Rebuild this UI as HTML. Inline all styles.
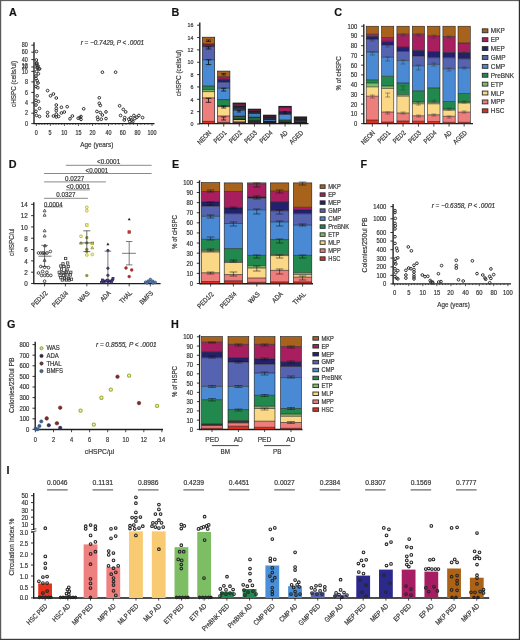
<!DOCTYPE html>
<html><head><meta charset="utf-8"><style>
html,body{margin:0;padding:0;background:#fff;width:520px;height:640px;overflow:hidden}
svg{display:block;font-family:"Liberation Sans",sans-serif;will-change:transform}
text{stroke:#3a3a3a;stroke-width:0.2px}
</style></head><body>
<svg width="520" height="640" viewBox="0 0 520 640">
<rect width="520" height="640" fill="#fff"/>
<g fill="#333">
<text x="9" y="16.2" font-size="10.8" font-weight="bold" fill="#111">A</text>
<line x1="34" y1="42.3" x2="34" y2="124.1" stroke="#1c1c1c" stroke-width="1.35"/>
<line x1="33.5" y1="123.6" x2="154.5" y2="123.6" stroke="#1c1c1c" stroke-width="1.35"/>
<line x1="31.3" y1="45.2" x2="34" y2="45.2" stroke="#1c1c1c" stroke-width="0.9"/>
<text x="27.9" y="47.47" font-size="6.3" text-anchor="end" textLength="6.03" lengthAdjust="spacingAndGlyphs">80</text>
<line x1="31.3" y1="52.2" x2="34" y2="52.2" stroke="#1c1c1c" stroke-width="0.9"/>
<text x="27.9" y="54.47" font-size="6.3" text-anchor="end" textLength="6.03" lengthAdjust="spacingAndGlyphs">60</text>
<line x1="31.3" y1="59.6" x2="34" y2="59.6" stroke="#1c1c1c" stroke-width="0.9"/>
<text x="27.9" y="61.87" font-size="6.3" text-anchor="end" textLength="6.03" lengthAdjust="spacingAndGlyphs">40</text>
<line x1="31.3" y1="67" x2="34" y2="67" stroke="#1c1c1c" stroke-width="0.9"/>
<text x="27.9" y="69.27" font-size="6.3" text-anchor="end" textLength="6.03" lengthAdjust="spacingAndGlyphs">20</text>
<line x1="31.3" y1="71.4" x2="34" y2="71.4" stroke="#1c1c1c" stroke-width="0.9"/>
<line x1="31.3" y1="81.9" x2="34" y2="81.9" stroke="#1c1c1c" stroke-width="0.9"/>
<text x="27.9" y="84.17" font-size="6.3" text-anchor="end" textLength="3.01" lengthAdjust="spacingAndGlyphs">8</text>
<line x1="31.3" y1="92.4" x2="34" y2="92.4" stroke="#1c1c1c" stroke-width="0.9"/>
<text x="27.9" y="94.67" font-size="6.3" text-anchor="end" textLength="3.01" lengthAdjust="spacingAndGlyphs">6</text>
<line x1="31.3" y1="102.8" x2="34" y2="102.8" stroke="#1c1c1c" stroke-width="0.9"/>
<text x="27.9" y="105.07" font-size="6.3" text-anchor="end" textLength="3.01" lengthAdjust="spacingAndGlyphs">4</text>
<line x1="31.3" y1="113.2" x2="34" y2="113.2" stroke="#1c1c1c" stroke-width="0.9"/>
<text x="27.9" y="115.47" font-size="6.3" text-anchor="end" textLength="3.01" lengthAdjust="spacingAndGlyphs">2</text>
<line x1="31.3" y1="123.6" x2="34" y2="123.6" stroke="#1c1c1c" stroke-width="0.9"/>
<text x="27.9" y="125.87" font-size="6.3" text-anchor="end" textLength="3.01" lengthAdjust="spacingAndGlyphs">0</text>
<text x="27.9" y="67.9" font-size="6.3" text-anchor="end" textLength="6.03" lengthAdjust="spacingAndGlyphs">12</text>
<text x="27.9" y="74.3" font-size="6.3" text-anchor="end" textLength="6.03" lengthAdjust="spacingAndGlyphs">10</text>
<line x1="36.3" y1="123.6" x2="36.3" y2="126" stroke="#1c1c1c" stroke-width="0.7"/>
<line x1="39.11" y1="123.6" x2="39.11" y2="124.9" stroke="#1c1c1c" stroke-width="0.7"/>
<line x1="41.92" y1="123.6" x2="41.92" y2="124.9" stroke="#1c1c1c" stroke-width="0.7"/>
<line x1="44.73" y1="123.6" x2="44.73" y2="124.9" stroke="#1c1c1c" stroke-width="0.7"/>
<line x1="47.54" y1="123.6" x2="47.54" y2="124.9" stroke="#1c1c1c" stroke-width="0.7"/>
<line x1="50.35" y1="123.6" x2="50.35" y2="126" stroke="#1c1c1c" stroke-width="0.7"/>
<line x1="53.16" y1="123.6" x2="53.16" y2="124.9" stroke="#1c1c1c" stroke-width="0.7"/>
<line x1="55.97" y1="123.6" x2="55.97" y2="124.9" stroke="#1c1c1c" stroke-width="0.7"/>
<line x1="58.78" y1="123.6" x2="58.78" y2="124.9" stroke="#1c1c1c" stroke-width="0.7"/>
<line x1="61.59" y1="123.6" x2="61.59" y2="124.9" stroke="#1c1c1c" stroke-width="0.7"/>
<line x1="64.4" y1="123.6" x2="64.4" y2="126" stroke="#1c1c1c" stroke-width="0.7"/>
<line x1="67.21" y1="123.6" x2="67.21" y2="124.9" stroke="#1c1c1c" stroke-width="0.7"/>
<line x1="70.02" y1="123.6" x2="70.02" y2="124.9" stroke="#1c1c1c" stroke-width="0.7"/>
<line x1="72.83" y1="123.6" x2="72.83" y2="124.9" stroke="#1c1c1c" stroke-width="0.7"/>
<line x1="75.64" y1="123.6" x2="75.64" y2="124.9" stroke="#1c1c1c" stroke-width="0.7"/>
<line x1="78.45" y1="123.6" x2="78.45" y2="126" stroke="#1c1c1c" stroke-width="0.7"/>
<line x1="81.26" y1="123.6" x2="81.26" y2="124.9" stroke="#1c1c1c" stroke-width="0.7"/>
<line x1="84.07" y1="123.6" x2="84.07" y2="124.9" stroke="#1c1c1c" stroke-width="0.7"/>
<line x1="86.88" y1="123.6" x2="86.88" y2="124.9" stroke="#1c1c1c" stroke-width="0.7"/>
<line x1="89.69" y1="123.6" x2="89.69" y2="124.9" stroke="#1c1c1c" stroke-width="0.7"/>
<line x1="92.5" y1="123.6" x2="92.5" y2="126" stroke="#1c1c1c" stroke-width="0.7"/>
<line x1="108.5" y1="123.6" x2="108.5" y2="126" stroke="#1c1c1c" stroke-width="0.7"/>
<line x1="122.7" y1="123.6" x2="122.7" y2="126" stroke="#1c1c1c" stroke-width="0.7"/>
<line x1="137.5" y1="123.6" x2="137.5" y2="126" stroke="#1c1c1c" stroke-width="0.7"/>
<line x1="152" y1="123.6" x2="152" y2="126" stroke="#1c1c1c" stroke-width="0.7"/>
<line x1="95.5" y1="123.6" x2="95.5" y2="124.9" stroke="#1c1c1c" stroke-width="0.6"/>
<line x1="99" y1="123.6" x2="99" y2="124.9" stroke="#1c1c1c" stroke-width="0.6"/>
<line x1="102" y1="123.6" x2="102" y2="124.9" stroke="#1c1c1c" stroke-width="0.6"/>
<line x1="105" y1="123.6" x2="105" y2="124.9" stroke="#1c1c1c" stroke-width="0.6"/>
<line x1="112" y1="123.6" x2="112" y2="124.9" stroke="#1c1c1c" stroke-width="0.6"/>
<line x1="115.5" y1="123.6" x2="115.5" y2="124.9" stroke="#1c1c1c" stroke-width="0.6"/>
<line x1="119" y1="123.6" x2="119" y2="124.9" stroke="#1c1c1c" stroke-width="0.6"/>
<line x1="126" y1="123.6" x2="126" y2="124.9" stroke="#1c1c1c" stroke-width="0.6"/>
<line x1="130" y1="123.6" x2="130" y2="124.9" stroke="#1c1c1c" stroke-width="0.6"/>
<line x1="133.5" y1="123.6" x2="133.5" y2="124.9" stroke="#1c1c1c" stroke-width="0.6"/>
<line x1="141" y1="123.6" x2="141" y2="124.9" stroke="#1c1c1c" stroke-width="0.6"/>
<line x1="144.5" y1="123.6" x2="144.5" y2="124.9" stroke="#1c1c1c" stroke-width="0.6"/>
<line x1="148" y1="123.6" x2="148" y2="124.9" stroke="#1c1c1c" stroke-width="0.6"/>
<text x="36.3" y="135.3" font-size="6.3" text-anchor="middle" textLength="3.01" lengthAdjust="spacingAndGlyphs">0</text>
<text x="50.1" y="135.3" font-size="6.3" text-anchor="middle" textLength="3.01" lengthAdjust="spacingAndGlyphs">5</text>
<text x="64.3" y="135.3" font-size="6.3" text-anchor="middle" textLength="6.03" lengthAdjust="spacingAndGlyphs">10</text>
<text x="78.4" y="135.3" font-size="6.3" text-anchor="middle" textLength="6.03" lengthAdjust="spacingAndGlyphs">15</text>
<text x="92.6" y="135.3" font-size="6.3" text-anchor="middle" textLength="6.03" lengthAdjust="spacingAndGlyphs">20</text>
<text x="108.5" y="135.3" font-size="6.3" text-anchor="middle" textLength="6.03" lengthAdjust="spacingAndGlyphs">40</text>
<text x="122.7" y="135.3" font-size="6.3" text-anchor="middle" textLength="6.03" lengthAdjust="spacingAndGlyphs">60</text>
<text x="137.5" y="135.3" font-size="6.3" text-anchor="middle" textLength="6.03" lengthAdjust="spacingAndGlyphs">80</text>
<text x="152" y="135.3" font-size="6.3" text-anchor="middle" textLength="9.04" lengthAdjust="spacingAndGlyphs">100</text>
<text x="96.8" y="146.6" font-size="7.8" text-anchor="middle" textLength="33" lengthAdjust="spacingAndGlyphs">Age (years)</text>
<text x="15.6" y="84" font-size="7.6" text-anchor="middle" transform="rotate(-90 15.6 84)" textLength="46" lengthAdjust="spacingAndGlyphs">cHSPC (cells/ul)</text>
<text x="80.7" y="45.4" font-size="6.6" font-style="italic" textLength="63.3" lengthAdjust="spacingAndGlyphs">r = −0.7429, P &lt; .0001</text>
<circle cx="36.6" cy="63.5" r="1.35" fill="none" stroke="#333" stroke-width="1"/>
<circle cx="36.6" cy="65.2" r="1.35" fill="none" stroke="#333" stroke-width="1"/>
<circle cx="37.2" cy="68" r="1.35" fill="none" stroke="#333" stroke-width="1"/>
<circle cx="39" cy="69" r="1.35" fill="none" stroke="#333" stroke-width="1"/>
<circle cx="36.6" cy="71.5" r="1.35" fill="none" stroke="#333" stroke-width="1"/>
<circle cx="38.4" cy="73.8" r="1.35" fill="none" stroke="#333" stroke-width="1"/>
<circle cx="36" cy="78.5" r="1.35" fill="none" stroke="#333" stroke-width="1"/>
<circle cx="37.2" cy="80.8" r="1.35" fill="none" stroke="#333" stroke-width="1"/>
<circle cx="36" cy="86.5" r="1.35" fill="none" stroke="#333" stroke-width="1"/>
<circle cx="37.8" cy="87.7" r="1.35" fill="none" stroke="#333" stroke-width="1"/>
<circle cx="37.2" cy="95.8" r="1.35" fill="none" stroke="#333" stroke-width="1"/>
<circle cx="36" cy="100.4" r="1.35" fill="none" stroke="#333" stroke-width="1"/>
<circle cx="38.4" cy="101.5" r="1.35" fill="none" stroke="#333" stroke-width="1"/>
<circle cx="36" cy="105" r="1.35" fill="none" stroke="#333" stroke-width="1"/>
<circle cx="39.5" cy="108.4" r="1.35" fill="none" stroke="#333" stroke-width="1"/>
<circle cx="36" cy="111.3" r="1.35" fill="none" stroke="#333" stroke-width="1"/>
<circle cx="36.6" cy="115.4" r="1.35" fill="none" stroke="#333" stroke-width="1"/>
<circle cx="39.5" cy="116.5" r="1.35" fill="none" stroke="#333" stroke-width="1"/>
<circle cx="47.6" cy="90.6" r="1.35" fill="none" stroke="#333" stroke-width="1"/>
<circle cx="50.5" cy="95.8" r="1.35" fill="none" stroke="#333" stroke-width="1"/>
<circle cx="53.4" cy="94" r="1.35" fill="none" stroke="#333" stroke-width="1"/>
<circle cx="56.3" cy="98" r="1.35" fill="none" stroke="#333" stroke-width="1"/>
<circle cx="47.6" cy="112.5" r="1.35" fill="none" stroke="#333" stroke-width="1"/>
<circle cx="47.6" cy="116" r="1.35" fill="none" stroke="#333" stroke-width="1"/>
<circle cx="56.3" cy="105" r="1.35" fill="none" stroke="#333" stroke-width="1"/>
<circle cx="56.3" cy="108.4" r="1.35" fill="none" stroke="#333" stroke-width="1"/>
<circle cx="56.3" cy="110.7" r="1.35" fill="none" stroke="#333" stroke-width="1"/>
<circle cx="56.3" cy="114.2" r="1.35" fill="none" stroke="#333" stroke-width="1"/>
<circle cx="53.4" cy="116" r="1.35" fill="none" stroke="#333" stroke-width="1"/>
<circle cx="56.3" cy="117" r="1.35" fill="none" stroke="#333" stroke-width="1"/>
<circle cx="58.6" cy="116.5" r="1.35" fill="none" stroke="#333" stroke-width="1"/>
<circle cx="61.4" cy="107.3" r="1.35" fill="none" stroke="#333" stroke-width="1"/>
<circle cx="61.4" cy="113" r="1.35" fill="none" stroke="#333" stroke-width="1"/>
<circle cx="64.3" cy="112" r="1.35" fill="none" stroke="#333" stroke-width="1"/>
<circle cx="67.2" cy="106.7" r="1.35" fill="none" stroke="#333" stroke-width="1"/>
<circle cx="72.4" cy="116" r="1.35" fill="none" stroke="#333" stroke-width="1"/>
<circle cx="70" cy="118.8" r="1.35" fill="none" stroke="#333" stroke-width="1"/>
<circle cx="78.2" cy="118.2" r="1.35" fill="none" stroke="#333" stroke-width="1"/>
<circle cx="81" cy="116.5" r="1.35" fill="none" stroke="#333" stroke-width="1"/>
<circle cx="81" cy="119.4" r="1.35" fill="none" stroke="#333" stroke-width="1"/>
<circle cx="36.5" cy="51.5" r="1.35" fill="none" stroke="#333" stroke-width="1"/>
<circle cx="36.8" cy="63" r="1.35" fill="none" stroke="#333" stroke-width="1"/>
<circle cx="37.3" cy="67.3" r="1.35" fill="none" stroke="#333" stroke-width="1"/>
<circle cx="39.6" cy="68.8" r="1.35" fill="none" stroke="#333" stroke-width="1"/>
<circle cx="36.3" cy="60" r="1.35" fill="none" stroke="#333" stroke-width="1"/>
<circle cx="38" cy="66" r="1.35" fill="none" stroke="#333" stroke-width="1"/>
<circle cx="36" cy="76" r="1.35" fill="none" stroke="#333" stroke-width="1"/>
<circle cx="38" cy="83" r="1.35" fill="none" stroke="#333" stroke-width="1"/>
<circle cx="102.4" cy="72.2" r="1.35" fill="none" stroke="#333" stroke-width="1"/>
<circle cx="115.6" cy="72.2" r="1.35" fill="none" stroke="#333" stroke-width="1"/>
<circle cx="99.3" cy="97.8" r="1.35" fill="none" stroke="#333" stroke-width="1"/>
<circle cx="99.3" cy="103.3" r="1.35" fill="none" stroke="#333" stroke-width="1"/>
<circle cx="100.3" cy="105.4" r="1.35" fill="none" stroke="#333" stroke-width="1"/>
<circle cx="96.9" cy="111.5" r="1.35" fill="none" stroke="#333" stroke-width="1"/>
<circle cx="100.3" cy="112.5" r="1.35" fill="none" stroke="#333" stroke-width="1"/>
<circle cx="106" cy="111.9" r="1.35" fill="none" stroke="#333" stroke-width="1"/>
<circle cx="102.4" cy="115" r="1.35" fill="none" stroke="#333" stroke-width="1"/>
<circle cx="97.5" cy="117.2" r="1.35" fill="none" stroke="#333" stroke-width="1"/>
<circle cx="97.9" cy="119.6" r="1.35" fill="none" stroke="#333" stroke-width="1"/>
<circle cx="101.3" cy="119.2" r="1.35" fill="none" stroke="#333" stroke-width="1"/>
<circle cx="106" cy="118.6" r="1.35" fill="none" stroke="#333" stroke-width="1"/>
<circle cx="83.7" cy="108.8" r="1.35" fill="none" stroke="#333" stroke-width="1"/>
<circle cx="80" cy="117.6" r="1.35" fill="none" stroke="#333" stroke-width="1"/>
<circle cx="119.6" cy="105.8" r="1.35" fill="none" stroke="#333" stroke-width="1"/>
<circle cx="123.3" cy="109.4" r="1.35" fill="none" stroke="#333" stroke-width="1"/>
<circle cx="125.7" cy="111.9" r="1.35" fill="none" stroke="#333" stroke-width="1"/>
<circle cx="120.6" cy="115.5" r="1.35" fill="none" stroke="#333" stroke-width="1"/>
<circle cx="124.7" cy="117.6" r="1.35" fill="none" stroke="#333" stroke-width="1"/>
<circle cx="124.3" cy="120" r="1.35" fill="none" stroke="#333" stroke-width="1"/>
<circle cx="128.8" cy="119.2" r="1.35" fill="none" stroke="#333" stroke-width="1"/>
<circle cx="129.8" cy="121.6" r="1.35" fill="none" stroke="#333" stroke-width="1"/>
<circle cx="131.8" cy="120.2" r="1.35" fill="none" stroke="#333" stroke-width="1"/>
<circle cx="133.9" cy="115.5" r="1.35" fill="none" stroke="#333" stroke-width="1"/>
<circle cx="134.9" cy="118.6" r="1.35" fill="none" stroke="#333" stroke-width="1"/>
<circle cx="136.9" cy="117.2" r="1.35" fill="none" stroke="#333" stroke-width="1"/>
<circle cx="138.9" cy="115.5" r="1.35" fill="none" stroke="#333" stroke-width="1"/>
<circle cx="142.6" cy="117.6" r="1.35" fill="none" stroke="#333" stroke-width="1"/>
<circle cx="132.8" cy="121.6" r="1.35" fill="none" stroke="#333" stroke-width="1"/>
<circle cx="130.8" cy="117.6" r="1.35" fill="none" stroke="#333" stroke-width="1"/>
<text x="171.5" y="16" font-size="10.8" font-weight="bold" fill="#111">B</text>
<line x1="199.8" y1="22.4" x2="199.8" y2="124.1" stroke="#1c1c1c" stroke-width="1.35"/>
<line x1="199.3" y1="123.6" x2="308.5" y2="123.6" stroke="#1c1c1c" stroke-width="1.35"/>
<line x1="197.1" y1="124" x2="199.8" y2="124" stroke="#1c1c1c" stroke-width="0.9"/>
<text x="193.4" y="126.23" font-size="6.2" text-anchor="end" textLength="2.97" lengthAdjust="spacingAndGlyphs">0</text>
<line x1="197.1" y1="111.65" x2="199.8" y2="111.65" stroke="#1c1c1c" stroke-width="0.9"/>
<text x="193.4" y="113.88" font-size="6.2" text-anchor="end" textLength="2.97" lengthAdjust="spacingAndGlyphs">2</text>
<line x1="197.1" y1="99.3" x2="199.8" y2="99.3" stroke="#1c1c1c" stroke-width="0.9"/>
<text x="193.4" y="101.53" font-size="6.2" text-anchor="end" textLength="2.97" lengthAdjust="spacingAndGlyphs">4</text>
<line x1="197.1" y1="86.95" x2="199.8" y2="86.95" stroke="#1c1c1c" stroke-width="0.9"/>
<text x="193.4" y="89.18" font-size="6.2" text-anchor="end" textLength="2.97" lengthAdjust="spacingAndGlyphs">6</text>
<line x1="197.1" y1="74.6" x2="199.8" y2="74.6" stroke="#1c1c1c" stroke-width="0.9"/>
<text x="193.4" y="76.83" font-size="6.2" text-anchor="end" textLength="2.97" lengthAdjust="spacingAndGlyphs">8</text>
<line x1="197.1" y1="62.25" x2="199.8" y2="62.25" stroke="#1c1c1c" stroke-width="0.9"/>
<text x="193.4" y="64.48" font-size="6.2" text-anchor="end" textLength="5.93" lengthAdjust="spacingAndGlyphs">10</text>
<line x1="197.1" y1="49.9" x2="199.8" y2="49.9" stroke="#1c1c1c" stroke-width="0.9"/>
<text x="193.4" y="52.13" font-size="6.2" text-anchor="end" textLength="5.93" lengthAdjust="spacingAndGlyphs">12</text>
<line x1="197.1" y1="37.55" x2="199.8" y2="37.55" stroke="#1c1c1c" stroke-width="0.9"/>
<text x="193.4" y="39.78" font-size="6.2" text-anchor="end" textLength="5.93" lengthAdjust="spacingAndGlyphs">14</text>
<line x1="197.1" y1="25.2" x2="199.8" y2="25.2" stroke="#1c1c1c" stroke-width="0.9"/>
<text x="193.4" y="27.43" font-size="6.2" text-anchor="end" textLength="5.93" lengthAdjust="spacingAndGlyphs">16</text>
<text x="180.5" y="73" font-size="7.6" text-anchor="middle" transform="rotate(-90 180.5 73)" textLength="46.5" lengthAdjust="spacingAndGlyphs">cHSPC (cells/ul)</text>
<rect x="202.4" y="37.2" width="12.3" height="6.8" fill="#A8621C"/>
<rect x="202.4" y="44" width="12.3" height="1.4" fill="#A81E5E"/>
<rect x="202.4" y="45.4" width="12.3" height="1.2" fill="#23206E"/>
<rect x="202.4" y="46.6" width="12.3" height="13.1" fill="#5663B0"/>
<rect x="202.4" y="59.7" width="12.3" height="26.4" fill="#4A8AD4"/>
<rect x="202.4" y="86.1" width="12.3" height="3.5" fill="#22894E"/>
<rect x="202.4" y="89.6" width="12.3" height="2" fill="#7CBE68"/>
<rect x="202.4" y="91.6" width="12.3" height="6.3" fill="#FAD886"/>
<rect x="202.4" y="97.9" width="12.3" height="23.5" fill="#EE7E7C"/>
<rect x="202.4" y="121.4" width="12.3" height="2.2" fill="#D9301F"/>
<line x1="202.4" y1="44" x2="214.7" y2="44" stroke="#1a1a1a" stroke-width="0.65"/>
<line x1="202.4" y1="45.4" x2="214.7" y2="45.4" stroke="#1a1a1a" stroke-width="0.65"/>
<line x1="202.4" y1="46.6" x2="214.7" y2="46.6" stroke="#1a1a1a" stroke-width="0.65"/>
<line x1="202.4" y1="59.7" x2="214.7" y2="59.7" stroke="#1a1a1a" stroke-width="0.65"/>
<line x1="202.4" y1="86.1" x2="214.7" y2="86.1" stroke="#1a1a1a" stroke-width="0.65"/>
<line x1="202.4" y1="89.6" x2="214.7" y2="89.6" stroke="#1a1a1a" stroke-width="0.65"/>
<line x1="202.4" y1="91.6" x2="214.7" y2="91.6" stroke="#1a1a1a" stroke-width="0.65"/>
<line x1="202.4" y1="97.9" x2="214.7" y2="97.9" stroke="#1a1a1a" stroke-width="0.65"/>
<line x1="202.4" y1="121.4" x2="214.7" y2="121.4" stroke="#1a1a1a" stroke-width="0.65"/>
<rect x="202.4" y="37.2" width="12.3" height="86.4" fill="none" stroke="#1a1a1a" stroke-width="0.65"/>
<line x1="208.55" y1="123.6" x2="208.55" y2="126.6" stroke="#1c1c1c" stroke-width="0.8"/>
<rect x="217.6" y="71.1" width="12.3" height="5.7" fill="#A8621C"/>
<rect x="217.6" y="76.8" width="12.3" height="2.5" fill="#A81E5E"/>
<rect x="217.6" y="79.3" width="12.3" height="2.9" fill="#23206E"/>
<rect x="217.6" y="82.2" width="12.3" height="6" fill="#5663B0"/>
<rect x="217.6" y="88.2" width="12.3" height="11.4" fill="#4A8AD4"/>
<rect x="217.6" y="99.6" width="12.3" height="6.4" fill="#22894E"/>
<rect x="217.6" y="106" width="12.3" height="0.6" fill="#7CBE68"/>
<rect x="217.6" y="106.6" width="12.3" height="9.4" fill="#FAD886"/>
<rect x="217.6" y="116" width="12.3" height="6.4" fill="#EE7E7C"/>
<rect x="217.6" y="122.4" width="12.3" height="1.2" fill="#D9301F"/>
<line x1="217.6" y1="76.8" x2="229.9" y2="76.8" stroke="#1a1a1a" stroke-width="0.65"/>
<line x1="217.6" y1="79.3" x2="229.9" y2="79.3" stroke="#1a1a1a" stroke-width="0.65"/>
<line x1="217.6" y1="82.2" x2="229.9" y2="82.2" stroke="#1a1a1a" stroke-width="0.65"/>
<line x1="217.6" y1="88.2" x2="229.9" y2="88.2" stroke="#1a1a1a" stroke-width="0.65"/>
<line x1="217.6" y1="99.6" x2="229.9" y2="99.6" stroke="#1a1a1a" stroke-width="0.65"/>
<line x1="217.6" y1="106" x2="229.9" y2="106" stroke="#1a1a1a" stroke-width="0.65"/>
<line x1="217.6" y1="106.6" x2="229.9" y2="106.6" stroke="#1a1a1a" stroke-width="0.65"/>
<line x1="217.6" y1="116" x2="229.9" y2="116" stroke="#1a1a1a" stroke-width="0.65"/>
<line x1="217.6" y1="122.4" x2="229.9" y2="122.4" stroke="#1a1a1a" stroke-width="0.65"/>
<rect x="217.6" y="71.1" width="12.3" height="52.5" fill="none" stroke="#1a1a1a" stroke-width="0.65"/>
<line x1="223.75" y1="123.6" x2="223.75" y2="126.6" stroke="#1c1c1c" stroke-width="0.8"/>
<rect x="233.1" y="103.1" width="12.3" height="0.5" fill="#A8621C"/>
<rect x="233.1" y="103.6" width="12.3" height="2.9" fill="#702048"/>
<rect x="233.1" y="106.5" width="12.3" height="2.3" fill="#23206E"/>
<rect x="233.1" y="108.8" width="12.3" height="1.2" fill="#5663B0"/>
<rect x="233.1" y="110" width="12.3" height="6.3" fill="#3f7cc0"/>
<rect x="233.1" y="116.3" width="12.3" height="2.9" fill="#1d6a40"/>
<rect x="233.1" y="119.2" width="12.3" height="0.4" fill="#7CBE68"/>
<rect x="233.1" y="119.6" width="12.3" height="2.4" fill="#FAD886"/>
<rect x="233.1" y="122" width="12.3" height="0.9" fill="#EE7E7C"/>
<rect x="233.1" y="122.9" width="12.3" height="0.7" fill="#D9301F"/>
<line x1="233.1" y1="103.6" x2="245.4" y2="103.6" stroke="#1a1a1a" stroke-width="0.95"/>
<line x1="233.1" y1="106.5" x2="245.4" y2="106.5" stroke="#1a1a1a" stroke-width="0.95"/>
<line x1="233.1" y1="108.8" x2="245.4" y2="108.8" stroke="#1a1a1a" stroke-width="0.95"/>
<line x1="233.1" y1="110" x2="245.4" y2="110" stroke="#1a1a1a" stroke-width="0.95"/>
<line x1="233.1" y1="116.3" x2="245.4" y2="116.3" stroke="#1a1a1a" stroke-width="0.95"/>
<line x1="233.1" y1="119.2" x2="245.4" y2="119.2" stroke="#1a1a1a" stroke-width="0.95"/>
<line x1="233.1" y1="119.6" x2="245.4" y2="119.6" stroke="#1a1a1a" stroke-width="0.95"/>
<line x1="233.1" y1="122" x2="245.4" y2="122" stroke="#1a1a1a" stroke-width="0.95"/>
<line x1="233.1" y1="122.9" x2="245.4" y2="122.9" stroke="#1a1a1a" stroke-width="0.95"/>
<rect x="233.1" y="103.1" width="12.3" height="20.5" fill="none" stroke="#1a1a1a" stroke-width="0.95"/>
<line x1="239.25" y1="123.6" x2="239.25" y2="126.6" stroke="#1c1c1c" stroke-width="0.8"/>
<rect x="248.3" y="109.2" width="12.3" height="0.5" fill="#A8621C"/>
<rect x="248.3" y="109.7" width="12.3" height="1.8" fill="#702048"/>
<rect x="248.3" y="111.5" width="12.3" height="1.2" fill="#23206E"/>
<rect x="248.3" y="112.7" width="12.3" height="0.6" fill="#5663B0"/>
<rect x="248.3" y="113.3" width="12.3" height="4" fill="#3f7cc0"/>
<rect x="248.3" y="117.3" width="12.3" height="3.7" fill="#1d6a40"/>
<rect x="248.3" y="121" width="12.3" height="0.3" fill="#7CBE68"/>
<rect x="248.3" y="121.3" width="12.3" height="0.9" fill="#FAD886"/>
<rect x="248.3" y="122.2" width="12.3" height="0.6" fill="#EE7E7C"/>
<rect x="248.3" y="122.8" width="12.3" height="0.8" fill="#D9301F"/>
<line x1="248.3" y1="109.7" x2="260.6" y2="109.7" stroke="#1a1a1a" stroke-width="0.95"/>
<line x1="248.3" y1="111.5" x2="260.6" y2="111.5" stroke="#1a1a1a" stroke-width="0.95"/>
<line x1="248.3" y1="112.7" x2="260.6" y2="112.7" stroke="#1a1a1a" stroke-width="0.95"/>
<line x1="248.3" y1="113.3" x2="260.6" y2="113.3" stroke="#1a1a1a" stroke-width="0.95"/>
<line x1="248.3" y1="117.3" x2="260.6" y2="117.3" stroke="#1a1a1a" stroke-width="0.95"/>
<line x1="248.3" y1="121" x2="260.6" y2="121" stroke="#1a1a1a" stroke-width="0.95"/>
<line x1="248.3" y1="121.3" x2="260.6" y2="121.3" stroke="#1a1a1a" stroke-width="0.95"/>
<line x1="248.3" y1="122.2" x2="260.6" y2="122.2" stroke="#1a1a1a" stroke-width="0.95"/>
<line x1="248.3" y1="122.8" x2="260.6" y2="122.8" stroke="#1a1a1a" stroke-width="0.95"/>
<rect x="248.3" y="109.2" width="12.3" height="14.4" fill="none" stroke="#1a1a1a" stroke-width="0.95"/>
<line x1="254.45" y1="123.6" x2="254.45" y2="126.6" stroke="#1c1c1c" stroke-width="0.8"/>
<rect x="263.6" y="115.2" width="12.3" height="0.4" fill="#A8621C"/>
<rect x="263.6" y="115.6" width="12.3" height="1.4" fill="#702048"/>
<rect x="263.6" y="117" width="12.3" height="1.8" fill="#23206E"/>
<rect x="263.6" y="118.8" width="12.3" height="0.8" fill="#5663B0"/>
<rect x="263.6" y="119.6" width="12.3" height="1.9" fill="#3f7cc0"/>
<rect x="263.6" y="121.5" width="12.3" height="0.9" fill="#1d6a40"/>
<rect x="263.6" y="122.4" width="12.3" height="0.4" fill="#7CBE68"/>
<rect x="263.6" y="122.8" width="12.3" height="0.2" fill="#FAD886"/>
<rect x="263.6" y="123" width="12.3" height="0.3" fill="#EE7E7C"/>
<rect x="263.6" y="123.3" width="12.3" height="0.3" fill="#D9301F"/>
<line x1="263.6" y1="115.6" x2="275.9" y2="115.6" stroke="#1a1a1a" stroke-width="0.95"/>
<line x1="263.6" y1="117" x2="275.9" y2="117" stroke="#1a1a1a" stroke-width="0.95"/>
<line x1="263.6" y1="118.8" x2="275.9" y2="118.8" stroke="#1a1a1a" stroke-width="0.95"/>
<line x1="263.6" y1="119.6" x2="275.9" y2="119.6" stroke="#1a1a1a" stroke-width="0.95"/>
<line x1="263.6" y1="121.5" x2="275.9" y2="121.5" stroke="#1a1a1a" stroke-width="0.95"/>
<line x1="263.6" y1="122.4" x2="275.9" y2="122.4" stroke="#1a1a1a" stroke-width="0.95"/>
<line x1="263.6" y1="122.8" x2="275.9" y2="122.8" stroke="#1a1a1a" stroke-width="0.95"/>
<line x1="263.6" y1="123" x2="275.9" y2="123" stroke="#1a1a1a" stroke-width="0.95"/>
<line x1="263.6" y1="123.3" x2="275.9" y2="123.3" stroke="#1a1a1a" stroke-width="0.95"/>
<rect x="263.6" y="115.2" width="12.3" height="8.4" fill="none" stroke="#1a1a1a" stroke-width="0.95"/>
<line x1="269.75" y1="123.6" x2="269.75" y2="126.6" stroke="#1c1c1c" stroke-width="0.8"/>
<rect x="278.9" y="106.4" width="12.3" height="0.6" fill="#A8621C"/>
<rect x="278.9" y="107" width="12.3" height="4.8" fill="#A81E5E"/>
<rect x="278.9" y="111.8" width="12.3" height="1.5" fill="#23206E"/>
<rect x="278.9" y="113.3" width="12.3" height="0.9" fill="#5663B0"/>
<rect x="278.9" y="114.2" width="12.3" height="6" fill="#4A8AD4"/>
<rect x="278.9" y="120.2" width="12.3" height="1.6" fill="#22894E"/>
<rect x="278.9" y="121.8" width="12.3" height="0.6" fill="#7CBE68"/>
<rect x="278.9" y="122.4" width="12.3" height="0.4" fill="#FAD886"/>
<rect x="278.9" y="122.8" width="12.3" height="0.4" fill="#EE7E7C"/>
<rect x="278.9" y="123.2" width="12.3" height="0.4" fill="#D9301F"/>
<line x1="278.9" y1="107" x2="291.2" y2="107" stroke="#1a1a1a" stroke-width="0.95"/>
<line x1="278.9" y1="111.8" x2="291.2" y2="111.8" stroke="#1a1a1a" stroke-width="0.95"/>
<line x1="278.9" y1="113.3" x2="291.2" y2="113.3" stroke="#1a1a1a" stroke-width="0.95"/>
<line x1="278.9" y1="114.2" x2="291.2" y2="114.2" stroke="#1a1a1a" stroke-width="0.95"/>
<line x1="278.9" y1="120.2" x2="291.2" y2="120.2" stroke="#1a1a1a" stroke-width="0.95"/>
<line x1="278.9" y1="121.8" x2="291.2" y2="121.8" stroke="#1a1a1a" stroke-width="0.95"/>
<line x1="278.9" y1="122.4" x2="291.2" y2="122.4" stroke="#1a1a1a" stroke-width="0.95"/>
<line x1="278.9" y1="122.8" x2="291.2" y2="122.8" stroke="#1a1a1a" stroke-width="0.95"/>
<line x1="278.9" y1="123.2" x2="291.2" y2="123.2" stroke="#1a1a1a" stroke-width="0.95"/>
<rect x="278.9" y="106.4" width="12.3" height="17.2" fill="none" stroke="#1a1a1a" stroke-width="0.95"/>
<line x1="285.05" y1="123.6" x2="285.05" y2="126.6" stroke="#1c1c1c" stroke-width="0.8"/>
<rect x="294.3" y="117" width="12.3" height="0.4" fill="#A8621C"/>
<rect x="294.3" y="117.4" width="12.3" height="1.2" fill="#702048"/>
<rect x="294.3" y="118.6" width="12.3" height="1.4" fill="#23206E"/>
<rect x="294.3" y="120" width="12.3" height="0.8" fill="#5663B0"/>
<rect x="294.3" y="120.8" width="12.3" height="1.2" fill="#3f7cc0"/>
<rect x="294.3" y="122" width="12.3" height="0.6" fill="#1d6a40"/>
<rect x="294.3" y="122.6" width="12.3" height="0.3" fill="#7CBE68"/>
<rect x="294.3" y="122.9" width="12.3" height="0.2" fill="#FAD886"/>
<rect x="294.3" y="123.1" width="12.3" height="0.2" fill="#EE7E7C"/>
<rect x="294.3" y="123.3" width="12.3" height="0.3" fill="#D9301F"/>
<line x1="294.3" y1="117.4" x2="306.6" y2="117.4" stroke="#1a1a1a" stroke-width="0.95"/>
<line x1="294.3" y1="118.6" x2="306.6" y2="118.6" stroke="#1a1a1a" stroke-width="0.95"/>
<line x1="294.3" y1="120" x2="306.6" y2="120" stroke="#1a1a1a" stroke-width="0.95"/>
<line x1="294.3" y1="120.8" x2="306.6" y2="120.8" stroke="#1a1a1a" stroke-width="0.95"/>
<line x1="294.3" y1="122" x2="306.6" y2="122" stroke="#1a1a1a" stroke-width="0.95"/>
<line x1="294.3" y1="122.6" x2="306.6" y2="122.6" stroke="#1a1a1a" stroke-width="0.95"/>
<line x1="294.3" y1="122.9" x2="306.6" y2="122.9" stroke="#1a1a1a" stroke-width="0.95"/>
<line x1="294.3" y1="123.1" x2="306.6" y2="123.1" stroke="#1a1a1a" stroke-width="0.95"/>
<line x1="294.3" y1="123.3" x2="306.6" y2="123.3" stroke="#1a1a1a" stroke-width="0.95"/>
<rect x="294.3" y="117" width="12.3" height="6.6" fill="none" stroke="#1a1a1a" stroke-width="0.95"/>
<line x1="300.45" y1="123.6" x2="300.45" y2="126.6" stroke="#1c1c1c" stroke-width="0.8"/>
<line x1="208.5" y1="59.8" x2="208.5" y2="64.6" stroke="#111" stroke-width="0.8"/>
<line x1="205.75" y1="59.8" x2="211.25" y2="59.8" stroke="#111" stroke-width="0.8"/>
<line x1="205.75" y1="64.6" x2="211.25" y2="64.6" stroke="#111" stroke-width="0.8"/>
<line x1="208.5" y1="46.8" x2="208.5" y2="49" stroke="#111" stroke-width="0.8"/>
<line x1="205.75" y1="46.8" x2="211.25" y2="46.8" stroke="#111" stroke-width="0.8"/>
<line x1="205.75" y1="49" x2="211.25" y2="49" stroke="#111" stroke-width="0.8"/>
<line x1="208.5" y1="98.3" x2="208.5" y2="102.3" stroke="#111" stroke-width="0.8"/>
<line x1="205.75" y1="98.3" x2="211.25" y2="98.3" stroke="#111" stroke-width="0.8"/>
<line x1="205.75" y1="102.3" x2="211.25" y2="102.3" stroke="#111" stroke-width="0.8"/>
<line x1="208.5" y1="40" x2="208.5" y2="41.5" stroke="#111" stroke-width="0.7"/>
<line x1="206" y1="40" x2="211" y2="40" stroke="#111" stroke-width="0.7"/>
<line x1="206" y1="41.5" x2="211" y2="41.5" stroke="#111" stroke-width="0.7"/>
<line x1="223.7" y1="88.3" x2="223.7" y2="91" stroke="#111" stroke-width="0.8"/>
<line x1="221.2" y1="88.3" x2="226.2" y2="88.3" stroke="#111" stroke-width="0.8"/>
<line x1="221.2" y1="91" x2="226.2" y2="91" stroke="#111" stroke-width="0.8"/>
<line x1="223.7" y1="117" x2="223.7" y2="120" stroke="#111" stroke-width="0.8"/>
<line x1="221.2" y1="117" x2="226.2" y2="117" stroke="#111" stroke-width="0.8"/>
<line x1="221.2" y1="120" x2="226.2" y2="120" stroke="#111" stroke-width="0.8"/>
<line x1="223.7" y1="106" x2="223.7" y2="108" stroke="#111" stroke-width="0.8"/>
<line x1="221.2" y1="106" x2="226.2" y2="106" stroke="#111" stroke-width="0.8"/>
<line x1="221.2" y1="108" x2="226.2" y2="108" stroke="#111" stroke-width="0.8"/>
<line x1="223.7" y1="73.5" x2="223.7" y2="75" stroke="#111" stroke-width="0.7"/>
<line x1="221.45" y1="73.5" x2="225.95" y2="73.5" stroke="#111" stroke-width="0.7"/>
<line x1="221.45" y1="75" x2="225.95" y2="75" stroke="#111" stroke-width="0.7"/>
<line x1="239" y1="110.5" x2="239" y2="112" stroke="#111" stroke-width="0.7"/>
<line x1="237" y1="110.5" x2="241" y2="110.5" stroke="#111" stroke-width="0.7"/>
<line x1="237" y1="112" x2="241" y2="112" stroke="#111" stroke-width="0.7"/>
<line x1="285" y1="111.5" x2="285" y2="113.5" stroke="#111" stroke-width="0.7"/>
<line x1="283" y1="111.5" x2="287" y2="111.5" stroke="#111" stroke-width="0.7"/>
<line x1="283" y1="113.5" x2="287" y2="113.5" stroke="#111" stroke-width="0.7"/>
<text x="211.75" y="133.2" font-size="6.8" text-anchor="end" transform="rotate(-45 211.75 133.2)" textLength="16.7" lengthAdjust="spacingAndGlyphs">NEON</text>
<text x="226.95" y="133.2" font-size="6.8" text-anchor="end" transform="rotate(-45 226.95 133.2)" textLength="15.1" lengthAdjust="spacingAndGlyphs">PED1</text>
<text x="242.45" y="133.2" font-size="6.8" text-anchor="end" transform="rotate(-45 242.45 133.2)" textLength="15.1" lengthAdjust="spacingAndGlyphs">PED2</text>
<text x="257.65" y="133.2" font-size="6.8" text-anchor="end" transform="rotate(-45 257.65 133.2)" textLength="15.1" lengthAdjust="spacingAndGlyphs">PED3</text>
<text x="272.95" y="133.2" font-size="6.8" text-anchor="end" transform="rotate(-45 272.95 133.2)" textLength="15.1" lengthAdjust="spacingAndGlyphs">PED4</text>
<text x="288.25" y="133.2" font-size="6.8" text-anchor="end" transform="rotate(-45 288.25 133.2)" textLength="8.03" lengthAdjust="spacingAndGlyphs">AD</text>
<text x="303.65" y="133.2" font-size="6.8" text-anchor="end" transform="rotate(-45 303.65 133.2)" textLength="16.38" lengthAdjust="spacingAndGlyphs">AGED</text>
<text x="334.2" y="16.4" font-size="10.8" font-weight="bold" fill="#111">C</text>
<line x1="363.8" y1="24.3" x2="363.8" y2="124.1" stroke="#1c1c1c" stroke-width="1.35"/>
<line x1="363.3" y1="123.6" x2="473" y2="123.6" stroke="#1c1c1c" stroke-width="1.35"/>
<line x1="361.1" y1="123.6" x2="363.8" y2="123.6" stroke="#1c1c1c" stroke-width="0.9"/>
<text x="357.2" y="126.05" font-size="6.8" text-anchor="end" textLength="3.25" lengthAdjust="spacingAndGlyphs">0</text>
<line x1="361.1" y1="113.86" x2="363.8" y2="113.86" stroke="#1c1c1c" stroke-width="0.9"/>
<text x="357.2" y="116.31" font-size="6.8" text-anchor="end" textLength="6.5" lengthAdjust="spacingAndGlyphs">10</text>
<line x1="361.1" y1="104.12" x2="363.8" y2="104.12" stroke="#1c1c1c" stroke-width="0.9"/>
<text x="357.2" y="106.57" font-size="6.8" text-anchor="end" textLength="6.5" lengthAdjust="spacingAndGlyphs">20</text>
<line x1="361.1" y1="94.38" x2="363.8" y2="94.38" stroke="#1c1c1c" stroke-width="0.9"/>
<text x="357.2" y="96.83" font-size="6.8" text-anchor="end" textLength="6.5" lengthAdjust="spacingAndGlyphs">30</text>
<line x1="361.1" y1="84.64" x2="363.8" y2="84.64" stroke="#1c1c1c" stroke-width="0.9"/>
<text x="357.2" y="87.09" font-size="6.8" text-anchor="end" textLength="6.5" lengthAdjust="spacingAndGlyphs">40</text>
<line x1="361.1" y1="74.9" x2="363.8" y2="74.9" stroke="#1c1c1c" stroke-width="0.9"/>
<text x="357.2" y="77.35" font-size="6.8" text-anchor="end" textLength="6.5" lengthAdjust="spacingAndGlyphs">50</text>
<line x1="361.1" y1="65.16" x2="363.8" y2="65.16" stroke="#1c1c1c" stroke-width="0.9"/>
<text x="357.2" y="67.61" font-size="6.8" text-anchor="end" textLength="6.5" lengthAdjust="spacingAndGlyphs">60</text>
<line x1="361.1" y1="55.42" x2="363.8" y2="55.42" stroke="#1c1c1c" stroke-width="0.9"/>
<text x="357.2" y="57.87" font-size="6.8" text-anchor="end" textLength="6.5" lengthAdjust="spacingAndGlyphs">70</text>
<line x1="361.1" y1="45.68" x2="363.8" y2="45.68" stroke="#1c1c1c" stroke-width="0.9"/>
<text x="357.2" y="48.13" font-size="6.8" text-anchor="end" textLength="6.5" lengthAdjust="spacingAndGlyphs">80</text>
<line x1="361.1" y1="35.94" x2="363.8" y2="35.94" stroke="#1c1c1c" stroke-width="0.9"/>
<text x="357.2" y="38.39" font-size="6.8" text-anchor="end" textLength="6.5" lengthAdjust="spacingAndGlyphs">90</text>
<line x1="361.1" y1="26.2" x2="363.8" y2="26.2" stroke="#1c1c1c" stroke-width="0.9"/>
<text x="357.2" y="28.65" font-size="6.8" text-anchor="end" textLength="9.76" lengthAdjust="spacingAndGlyphs">100</text>
<text x="341.2" y="73.4" font-size="7.6" text-anchor="middle" transform="rotate(-90 341.2 73.4)" textLength="34" lengthAdjust="spacingAndGlyphs">% of cHSPC</text>
<rect x="366.2" y="26.2" width="12.3" height="8" fill="#A8621C"/>
<rect x="366.2" y="34.2" width="12.3" height="2.3" fill="#A81E5E"/>
<rect x="366.2" y="36.5" width="12.3" height="2.9" fill="#23206E"/>
<rect x="366.2" y="39.4" width="12.3" height="12.6" fill="#5663B0"/>
<rect x="366.2" y="52" width="12.3" height="27.8" fill="#4A8AD4"/>
<rect x="366.2" y="79.8" width="12.3" height="3.3" fill="#22894E"/>
<rect x="366.2" y="83.1" width="12.3" height="3.8" fill="#7CBE68"/>
<rect x="366.2" y="86.9" width="12.3" height="9.3" fill="#FAD886"/>
<rect x="366.2" y="96.2" width="12.3" height="23.8" fill="#EE7E7C"/>
<rect x="366.2" y="120" width="12.3" height="3.6" fill="#D9301F"/>
<line x1="366.2" y1="34.2" x2="378.5" y2="34.2" stroke="#1a1a1a" stroke-width="0.55"/>
<line x1="366.2" y1="36.5" x2="378.5" y2="36.5" stroke="#1a1a1a" stroke-width="0.55"/>
<line x1="366.2" y1="39.4" x2="378.5" y2="39.4" stroke="#1a1a1a" stroke-width="0.55"/>
<line x1="366.2" y1="52" x2="378.5" y2="52" stroke="#1a1a1a" stroke-width="0.55"/>
<line x1="366.2" y1="79.8" x2="378.5" y2="79.8" stroke="#1a1a1a" stroke-width="0.55"/>
<line x1="366.2" y1="83.1" x2="378.5" y2="83.1" stroke="#1a1a1a" stroke-width="0.55"/>
<line x1="366.2" y1="86.9" x2="378.5" y2="86.9" stroke="#1a1a1a" stroke-width="0.55"/>
<line x1="366.2" y1="96.2" x2="378.5" y2="96.2" stroke="#1a1a1a" stroke-width="0.55"/>
<line x1="366.2" y1="120" x2="378.5" y2="120" stroke="#1a1a1a" stroke-width="0.55"/>
<rect x="366.2" y="26.2" width="12.3" height="97.4" fill="none" stroke="#1a1a1a" stroke-width="0.55"/>
<line x1="372.35" y1="123.6" x2="372.35" y2="126.6" stroke="#1c1c1c" stroke-width="0.8"/>
<line x1="372.35" y1="39.5" x2="372.35" y2="41" stroke="#333" stroke-width="0.45"/>
<line x1="369.85" y1="39.5" x2="374.85" y2="39.5" stroke="#333" stroke-width="0.45"/>
<line x1="369.85" y1="41" x2="374.85" y2="41" stroke="#333" stroke-width="0.45"/>
<line x1="372.35" y1="52" x2="372.35" y2="55" stroke="#333" stroke-width="0.45"/>
<line x1="369.85" y1="52" x2="374.85" y2="52" stroke="#333" stroke-width="0.45"/>
<line x1="369.85" y1="55" x2="374.85" y2="55" stroke="#333" stroke-width="0.45"/>
<line x1="372.35" y1="95" x2="372.35" y2="98" stroke="#333" stroke-width="0.45"/>
<line x1="369.85" y1="95" x2="374.85" y2="95" stroke="#333" stroke-width="0.45"/>
<line x1="369.85" y1="98" x2="374.85" y2="98" stroke="#333" stroke-width="0.45"/>
<text x="375.55" y="133.2" font-size="6.8" text-anchor="end" transform="rotate(-45 375.55 133.2)" textLength="16.7" lengthAdjust="spacingAndGlyphs">NEON</text>
<rect x="381.5" y="26.2" width="12.3" height="11.3" fill="#A8621C"/>
<rect x="381.5" y="37.5" width="12.3" height="3.8" fill="#A81E5E"/>
<rect x="381.5" y="41.3" width="12.3" height="3.9" fill="#23206E"/>
<rect x="381.5" y="45.2" width="12.3" height="12.1" fill="#5663B0"/>
<rect x="381.5" y="57.3" width="12.3" height="19" fill="#4A8AD4"/>
<rect x="381.5" y="76.3" width="12.3" height="9.7" fill="#22894E"/>
<rect x="381.5" y="86" width="12.3" height="2.5" fill="#7CBE68"/>
<rect x="381.5" y="88.5" width="12.3" height="23.5" fill="#FAD886"/>
<rect x="381.5" y="112" width="12.3" height="10" fill="#EE7E7C"/>
<rect x="381.5" y="122" width="12.3" height="1.6" fill="#D9301F"/>
<line x1="381.5" y1="37.5" x2="393.8" y2="37.5" stroke="#1a1a1a" stroke-width="0.55"/>
<line x1="381.5" y1="41.3" x2="393.8" y2="41.3" stroke="#1a1a1a" stroke-width="0.55"/>
<line x1="381.5" y1="45.2" x2="393.8" y2="45.2" stroke="#1a1a1a" stroke-width="0.55"/>
<line x1="381.5" y1="57.3" x2="393.8" y2="57.3" stroke="#1a1a1a" stroke-width="0.55"/>
<line x1="381.5" y1="76.3" x2="393.8" y2="76.3" stroke="#1a1a1a" stroke-width="0.55"/>
<line x1="381.5" y1="86" x2="393.8" y2="86" stroke="#1a1a1a" stroke-width="0.55"/>
<line x1="381.5" y1="88.5" x2="393.8" y2="88.5" stroke="#1a1a1a" stroke-width="0.55"/>
<line x1="381.5" y1="112" x2="393.8" y2="112" stroke="#1a1a1a" stroke-width="0.55"/>
<line x1="381.5" y1="122" x2="393.8" y2="122" stroke="#1a1a1a" stroke-width="0.55"/>
<rect x="381.5" y="26.2" width="12.3" height="97.4" fill="none" stroke="#1a1a1a" stroke-width="0.55"/>
<line x1="387.65" y1="123.6" x2="387.65" y2="126.6" stroke="#1c1c1c" stroke-width="0.8"/>
<line x1="387.65" y1="45" x2="387.65" y2="47" stroke="#333" stroke-width="0.45"/>
<line x1="385.15" y1="45" x2="390.15" y2="45" stroke="#333" stroke-width="0.45"/>
<line x1="385.15" y1="47" x2="390.15" y2="47" stroke="#333" stroke-width="0.45"/>
<line x1="387.65" y1="57" x2="387.65" y2="61" stroke="#333" stroke-width="0.45"/>
<line x1="385.15" y1="57" x2="390.15" y2="57" stroke="#333" stroke-width="0.45"/>
<line x1="385.15" y1="61" x2="390.15" y2="61" stroke="#333" stroke-width="0.45"/>
<line x1="387.65" y1="93" x2="387.65" y2="97" stroke="#333" stroke-width="0.45"/>
<line x1="385.15" y1="93" x2="390.15" y2="93" stroke="#333" stroke-width="0.45"/>
<line x1="385.15" y1="97" x2="390.15" y2="97" stroke="#333" stroke-width="0.45"/>
<line x1="387.65" y1="112" x2="387.65" y2="114" stroke="#333" stroke-width="0.45"/>
<line x1="385.15" y1="112" x2="390.15" y2="112" stroke="#333" stroke-width="0.45"/>
<line x1="385.15" y1="114" x2="390.15" y2="114" stroke="#333" stroke-width="0.45"/>
<text x="390.85" y="133.2" font-size="6.8" text-anchor="end" transform="rotate(-45 390.85 133.2)" textLength="15.1" lengthAdjust="spacingAndGlyphs">PED1</text>
<rect x="396.9" y="26.2" width="12.3" height="8" fill="#A8621C"/>
<rect x="396.9" y="34.2" width="12.3" height="12.9" fill="#A81E5E"/>
<rect x="396.9" y="47.1" width="12.3" height="4.4" fill="#23206E"/>
<rect x="396.9" y="51.5" width="12.3" height="9.1" fill="#5663B0"/>
<rect x="396.9" y="60.6" width="12.3" height="22.4" fill="#4A8AD4"/>
<rect x="396.9" y="83" width="12.3" height="11.6" fill="#22894E"/>
<rect x="396.9" y="94.6" width="12.3" height="1.6" fill="#7CBE68"/>
<rect x="396.9" y="96.2" width="12.3" height="16.8" fill="#FAD886"/>
<rect x="396.9" y="113" width="12.3" height="8" fill="#EE7E7C"/>
<rect x="396.9" y="121" width="12.3" height="2.6" fill="#D9301F"/>
<line x1="396.9" y1="34.2" x2="409.2" y2="34.2" stroke="#1a1a1a" stroke-width="0.55"/>
<line x1="396.9" y1="47.1" x2="409.2" y2="47.1" stroke="#1a1a1a" stroke-width="0.55"/>
<line x1="396.9" y1="51.5" x2="409.2" y2="51.5" stroke="#1a1a1a" stroke-width="0.55"/>
<line x1="396.9" y1="60.6" x2="409.2" y2="60.6" stroke="#1a1a1a" stroke-width="0.55"/>
<line x1="396.9" y1="83" x2="409.2" y2="83" stroke="#1a1a1a" stroke-width="0.55"/>
<line x1="396.9" y1="94.6" x2="409.2" y2="94.6" stroke="#1a1a1a" stroke-width="0.55"/>
<line x1="396.9" y1="96.2" x2="409.2" y2="96.2" stroke="#1a1a1a" stroke-width="0.55"/>
<line x1="396.9" y1="113" x2="409.2" y2="113" stroke="#1a1a1a" stroke-width="0.55"/>
<line x1="396.9" y1="121" x2="409.2" y2="121" stroke="#1a1a1a" stroke-width="0.55"/>
<rect x="396.9" y="26.2" width="12.3" height="97.4" fill="none" stroke="#1a1a1a" stroke-width="0.55"/>
<line x1="403.05" y1="123.6" x2="403.05" y2="126.6" stroke="#1c1c1c" stroke-width="0.8"/>
<line x1="403.05" y1="34" x2="403.05" y2="36" stroke="#333" stroke-width="0.45"/>
<line x1="400.55" y1="34" x2="405.55" y2="34" stroke="#333" stroke-width="0.45"/>
<line x1="400.55" y1="36" x2="405.55" y2="36" stroke="#333" stroke-width="0.45"/>
<line x1="403.05" y1="60" x2="403.05" y2="64" stroke="#333" stroke-width="0.45"/>
<line x1="400.55" y1="60" x2="405.55" y2="60" stroke="#333" stroke-width="0.45"/>
<line x1="400.55" y1="64" x2="405.55" y2="64" stroke="#333" stroke-width="0.45"/>
<line x1="403.05" y1="86" x2="403.05" y2="90" stroke="#333" stroke-width="0.45"/>
<line x1="400.55" y1="86" x2="405.55" y2="86" stroke="#333" stroke-width="0.45"/>
<line x1="400.55" y1="90" x2="405.55" y2="90" stroke="#333" stroke-width="0.45"/>
<line x1="403.05" y1="112" x2="403.05" y2="114" stroke="#333" stroke-width="0.45"/>
<line x1="400.55" y1="112" x2="405.55" y2="112" stroke="#333" stroke-width="0.45"/>
<line x1="400.55" y1="114" x2="405.55" y2="114" stroke="#333" stroke-width="0.45"/>
<text x="406.25" y="133.2" font-size="6.8" text-anchor="end" transform="rotate(-45 406.25 133.2)" textLength="15.1" lengthAdjust="spacingAndGlyphs">PED2</text>
<rect x="412.3" y="26.2" width="12.3" height="8" fill="#A8621C"/>
<rect x="412.3" y="34.2" width="12.3" height="16.2" fill="#A81E5E"/>
<rect x="412.3" y="50.4" width="12.3" height="5.8" fill="#23206E"/>
<rect x="412.3" y="56.2" width="12.3" height="9.6" fill="#5663B0"/>
<rect x="412.3" y="65.8" width="12.3" height="25" fill="#4A8AD4"/>
<rect x="412.3" y="90.8" width="12.3" height="11.2" fill="#22894E"/>
<rect x="412.3" y="102" width="12.3" height="1.8" fill="#7CBE68"/>
<rect x="412.3" y="103.8" width="12.3" height="12" fill="#FAD886"/>
<rect x="412.3" y="115.8" width="12.3" height="5.4" fill="#EE7E7C"/>
<rect x="412.3" y="121.2" width="12.3" height="2.4" fill="#D9301F"/>
<line x1="412.3" y1="34.2" x2="424.6" y2="34.2" stroke="#1a1a1a" stroke-width="0.55"/>
<line x1="412.3" y1="50.4" x2="424.6" y2="50.4" stroke="#1a1a1a" stroke-width="0.55"/>
<line x1="412.3" y1="56.2" x2="424.6" y2="56.2" stroke="#1a1a1a" stroke-width="0.55"/>
<line x1="412.3" y1="65.8" x2="424.6" y2="65.8" stroke="#1a1a1a" stroke-width="0.55"/>
<line x1="412.3" y1="90.8" x2="424.6" y2="90.8" stroke="#1a1a1a" stroke-width="0.55"/>
<line x1="412.3" y1="102" x2="424.6" y2="102" stroke="#1a1a1a" stroke-width="0.55"/>
<line x1="412.3" y1="103.8" x2="424.6" y2="103.8" stroke="#1a1a1a" stroke-width="0.55"/>
<line x1="412.3" y1="115.8" x2="424.6" y2="115.8" stroke="#1a1a1a" stroke-width="0.55"/>
<line x1="412.3" y1="121.2" x2="424.6" y2="121.2" stroke="#1a1a1a" stroke-width="0.55"/>
<rect x="412.3" y="26.2" width="12.3" height="97.4" fill="none" stroke="#1a1a1a" stroke-width="0.55"/>
<line x1="418.45" y1="123.6" x2="418.45" y2="126.6" stroke="#1c1c1c" stroke-width="0.8"/>
<line x1="418.45" y1="34" x2="418.45" y2="36" stroke="#333" stroke-width="0.45"/>
<line x1="415.95" y1="34" x2="420.95" y2="34" stroke="#333" stroke-width="0.45"/>
<line x1="415.95" y1="36" x2="420.95" y2="36" stroke="#333" stroke-width="0.45"/>
<line x1="418.45" y1="65" x2="418.45" y2="70" stroke="#333" stroke-width="0.45"/>
<line x1="415.95" y1="65" x2="420.95" y2="65" stroke="#333" stroke-width="0.45"/>
<line x1="415.95" y1="70" x2="420.95" y2="70" stroke="#333" stroke-width="0.45"/>
<line x1="418.45" y1="102" x2="418.45" y2="105" stroke="#333" stroke-width="0.45"/>
<line x1="415.95" y1="102" x2="420.95" y2="102" stroke="#333" stroke-width="0.45"/>
<line x1="415.95" y1="105" x2="420.95" y2="105" stroke="#333" stroke-width="0.45"/>
<line x1="418.45" y1="115" x2="418.45" y2="117" stroke="#333" stroke-width="0.45"/>
<line x1="415.95" y1="115" x2="420.95" y2="115" stroke="#333" stroke-width="0.45"/>
<line x1="415.95" y1="117" x2="420.95" y2="117" stroke="#333" stroke-width="0.45"/>
<text x="421.65" y="133.2" font-size="6.8" text-anchor="end" transform="rotate(-45 421.65 133.2)" textLength="15.1" lengthAdjust="spacingAndGlyphs">PED3</text>
<rect x="427.7" y="26.2" width="12.3" height="9.6" fill="#A8621C"/>
<rect x="427.7" y="35.8" width="12.3" height="15.7" fill="#A81E5E"/>
<rect x="427.7" y="51.5" width="12.3" height="6.2" fill="#23206E"/>
<rect x="427.7" y="57.7" width="12.3" height="6.7" fill="#5663B0"/>
<rect x="427.7" y="64.4" width="12.3" height="23.5" fill="#4A8AD4"/>
<rect x="427.7" y="87.9" width="12.3" height="14.4" fill="#22894E"/>
<rect x="427.7" y="102.3" width="12.3" height="1.5" fill="#7CBE68"/>
<rect x="427.7" y="103.8" width="12.3" height="11" fill="#FAD886"/>
<rect x="427.7" y="114.8" width="12.3" height="6.7" fill="#EE7E7C"/>
<rect x="427.7" y="121.5" width="12.3" height="2.1" fill="#D9301F"/>
<line x1="427.7" y1="35.8" x2="440" y2="35.8" stroke="#1a1a1a" stroke-width="0.55"/>
<line x1="427.7" y1="51.5" x2="440" y2="51.5" stroke="#1a1a1a" stroke-width="0.55"/>
<line x1="427.7" y1="57.7" x2="440" y2="57.7" stroke="#1a1a1a" stroke-width="0.55"/>
<line x1="427.7" y1="64.4" x2="440" y2="64.4" stroke="#1a1a1a" stroke-width="0.55"/>
<line x1="427.7" y1="87.9" x2="440" y2="87.9" stroke="#1a1a1a" stroke-width="0.55"/>
<line x1="427.7" y1="102.3" x2="440" y2="102.3" stroke="#1a1a1a" stroke-width="0.55"/>
<line x1="427.7" y1="103.8" x2="440" y2="103.8" stroke="#1a1a1a" stroke-width="0.55"/>
<line x1="427.7" y1="114.8" x2="440" y2="114.8" stroke="#1a1a1a" stroke-width="0.55"/>
<line x1="427.7" y1="121.5" x2="440" y2="121.5" stroke="#1a1a1a" stroke-width="0.55"/>
<rect x="427.7" y="26.2" width="12.3" height="97.4" fill="none" stroke="#1a1a1a" stroke-width="0.55"/>
<line x1="433.85" y1="123.6" x2="433.85" y2="126.6" stroke="#1c1c1c" stroke-width="0.8"/>
<line x1="433.85" y1="35" x2="433.85" y2="38" stroke="#333" stroke-width="0.45"/>
<line x1="431.35" y1="35" x2="436.35" y2="35" stroke="#333" stroke-width="0.45"/>
<line x1="431.35" y1="38" x2="436.35" y2="38" stroke="#333" stroke-width="0.45"/>
<line x1="433.85" y1="63" x2="433.85" y2="66" stroke="#333" stroke-width="0.45"/>
<line x1="431.35" y1="63" x2="436.35" y2="63" stroke="#333" stroke-width="0.45"/>
<line x1="431.35" y1="66" x2="436.35" y2="66" stroke="#333" stroke-width="0.45"/>
<line x1="433.85" y1="100" x2="433.85" y2="102" stroke="#333" stroke-width="0.45"/>
<line x1="431.35" y1="100" x2="436.35" y2="100" stroke="#333" stroke-width="0.45"/>
<line x1="431.35" y1="102" x2="436.35" y2="102" stroke="#333" stroke-width="0.45"/>
<line x1="433.85" y1="114" x2="433.85" y2="116" stroke="#333" stroke-width="0.45"/>
<line x1="431.35" y1="114" x2="436.35" y2="114" stroke="#333" stroke-width="0.45"/>
<line x1="431.35" y1="116" x2="436.35" y2="116" stroke="#333" stroke-width="0.45"/>
<text x="437.05" y="133.2" font-size="6.8" text-anchor="end" transform="rotate(-45 437.05 133.2)" textLength="15.1" lengthAdjust="spacingAndGlyphs">PED4</text>
<rect x="442.9" y="26.2" width="12.3" height="10.3" fill="#A8621C"/>
<rect x="442.9" y="36.5" width="12.3" height="16" fill="#A81E5E"/>
<rect x="442.9" y="52.5" width="12.3" height="5.2" fill="#23206E"/>
<rect x="442.9" y="57.7" width="12.3" height="11.1" fill="#5663B0"/>
<rect x="442.9" y="68.8" width="12.3" height="32.7" fill="#4A8AD4"/>
<rect x="442.9" y="101.5" width="12.3" height="7.5" fill="#22894E"/>
<rect x="442.9" y="109" width="12.3" height="1.2" fill="#7CBE68"/>
<rect x="442.9" y="110.2" width="12.3" height="6.1" fill="#FAD886"/>
<rect x="442.9" y="116.3" width="12.3" height="6" fill="#EE7E7C"/>
<rect x="442.9" y="122.3" width="12.3" height="1.3" fill="#D9301F"/>
<line x1="442.9" y1="36.5" x2="455.2" y2="36.5" stroke="#1a1a1a" stroke-width="0.55"/>
<line x1="442.9" y1="52.5" x2="455.2" y2="52.5" stroke="#1a1a1a" stroke-width="0.55"/>
<line x1="442.9" y1="57.7" x2="455.2" y2="57.7" stroke="#1a1a1a" stroke-width="0.55"/>
<line x1="442.9" y1="68.8" x2="455.2" y2="68.8" stroke="#1a1a1a" stroke-width="0.55"/>
<line x1="442.9" y1="101.5" x2="455.2" y2="101.5" stroke="#1a1a1a" stroke-width="0.55"/>
<line x1="442.9" y1="109" x2="455.2" y2="109" stroke="#1a1a1a" stroke-width="0.55"/>
<line x1="442.9" y1="110.2" x2="455.2" y2="110.2" stroke="#1a1a1a" stroke-width="0.55"/>
<line x1="442.9" y1="116.3" x2="455.2" y2="116.3" stroke="#1a1a1a" stroke-width="0.55"/>
<line x1="442.9" y1="122.3" x2="455.2" y2="122.3" stroke="#1a1a1a" stroke-width="0.55"/>
<rect x="442.9" y="26.2" width="12.3" height="97.4" fill="none" stroke="#1a1a1a" stroke-width="0.55"/>
<line x1="449.05" y1="123.6" x2="449.05" y2="126.6" stroke="#1c1c1c" stroke-width="0.8"/>
<line x1="449.05" y1="36" x2="449.05" y2="38" stroke="#333" stroke-width="0.45"/>
<line x1="446.55" y1="36" x2="451.55" y2="36" stroke="#333" stroke-width="0.45"/>
<line x1="446.55" y1="38" x2="451.55" y2="38" stroke="#333" stroke-width="0.45"/>
<line x1="449.05" y1="68" x2="449.05" y2="71" stroke="#333" stroke-width="0.45"/>
<line x1="446.55" y1="68" x2="451.55" y2="68" stroke="#333" stroke-width="0.45"/>
<line x1="446.55" y1="71" x2="451.55" y2="71" stroke="#333" stroke-width="0.45"/>
<line x1="449.05" y1="108" x2="449.05" y2="110" stroke="#333" stroke-width="0.45"/>
<line x1="446.55" y1="108" x2="451.55" y2="108" stroke="#333" stroke-width="0.45"/>
<line x1="446.55" y1="110" x2="451.55" y2="110" stroke="#333" stroke-width="0.45"/>
<line x1="449.05" y1="116" x2="449.05" y2="118" stroke="#333" stroke-width="0.45"/>
<line x1="446.55" y1="116" x2="451.55" y2="116" stroke="#333" stroke-width="0.45"/>
<line x1="446.55" y1="118" x2="451.55" y2="118" stroke="#333" stroke-width="0.45"/>
<text x="452.25" y="133.2" font-size="6.8" text-anchor="end" transform="rotate(-45 452.25 133.2)" textLength="8.03" lengthAdjust="spacingAndGlyphs">AD</text>
<rect x="458" y="26.2" width="12.3" height="16.7" fill="#A8621C"/>
<rect x="458" y="42.9" width="12.3" height="9.6" fill="#A81E5E"/>
<rect x="458" y="52.5" width="12.3" height="6.3" fill="#23206E"/>
<rect x="458" y="58.8" width="12.3" height="9.1" fill="#5663B0"/>
<rect x="458" y="67.9" width="12.3" height="25.6" fill="#4A8AD4"/>
<rect x="458" y="93.5" width="12.3" height="8.5" fill="#22894E"/>
<rect x="458" y="102" width="12.3" height="1" fill="#7CBE68"/>
<rect x="458" y="103" width="12.3" height="9.1" fill="#FAD886"/>
<rect x="458" y="112.1" width="12.3" height="10.2" fill="#EE7E7C"/>
<rect x="458" y="122.3" width="12.3" height="1.3" fill="#D9301F"/>
<line x1="458" y1="42.9" x2="470.3" y2="42.9" stroke="#1a1a1a" stroke-width="0.55"/>
<line x1="458" y1="52.5" x2="470.3" y2="52.5" stroke="#1a1a1a" stroke-width="0.55"/>
<line x1="458" y1="58.8" x2="470.3" y2="58.8" stroke="#1a1a1a" stroke-width="0.55"/>
<line x1="458" y1="67.9" x2="470.3" y2="67.9" stroke="#1a1a1a" stroke-width="0.55"/>
<line x1="458" y1="93.5" x2="470.3" y2="93.5" stroke="#1a1a1a" stroke-width="0.55"/>
<line x1="458" y1="102" x2="470.3" y2="102" stroke="#1a1a1a" stroke-width="0.55"/>
<line x1="458" y1="103" x2="470.3" y2="103" stroke="#1a1a1a" stroke-width="0.55"/>
<line x1="458" y1="112.1" x2="470.3" y2="112.1" stroke="#1a1a1a" stroke-width="0.55"/>
<line x1="458" y1="122.3" x2="470.3" y2="122.3" stroke="#1a1a1a" stroke-width="0.55"/>
<rect x="458" y="26.2" width="12.3" height="97.4" fill="none" stroke="#1a1a1a" stroke-width="0.55"/>
<line x1="464.15" y1="123.6" x2="464.15" y2="126.6" stroke="#1c1c1c" stroke-width="0.8"/>
<line x1="464.15" y1="52" x2="464.15" y2="55" stroke="#333" stroke-width="0.45"/>
<line x1="461.65" y1="52" x2="466.65" y2="52" stroke="#333" stroke-width="0.45"/>
<line x1="461.65" y1="55" x2="466.65" y2="55" stroke="#333" stroke-width="0.45"/>
<line x1="464.15" y1="67" x2="464.15" y2="69" stroke="#333" stroke-width="0.45"/>
<line x1="461.65" y1="67" x2="466.65" y2="67" stroke="#333" stroke-width="0.45"/>
<line x1="461.65" y1="69" x2="466.65" y2="69" stroke="#333" stroke-width="0.45"/>
<line x1="464.15" y1="101" x2="464.15" y2="103" stroke="#333" stroke-width="0.45"/>
<line x1="461.65" y1="101" x2="466.65" y2="101" stroke="#333" stroke-width="0.45"/>
<line x1="461.65" y1="103" x2="466.65" y2="103" stroke="#333" stroke-width="0.45"/>
<line x1="464.15" y1="111" x2="464.15" y2="113" stroke="#333" stroke-width="0.45"/>
<line x1="461.65" y1="111" x2="466.65" y2="111" stroke="#333" stroke-width="0.45"/>
<line x1="461.65" y1="113" x2="466.65" y2="113" stroke="#333" stroke-width="0.45"/>
<text x="467.35" y="133.2" font-size="6.8" text-anchor="end" transform="rotate(-45 467.35 133.2)" textLength="16.38" lengthAdjust="spacingAndGlyphs">AGED</text>
<rect x="482.3" y="28.85" width="5.6" height="3.9" fill="#A8621C" stroke="#2a2a2a" stroke-width="0.9"/>
<text x="490.8" y="33.28" font-size="6.9" textLength="13.91" lengthAdjust="spacingAndGlyphs">MKP</text>
<rect x="482.3" y="37.74" width="5.6" height="3.9" fill="#A81E5E" stroke="#2a2a2a" stroke-width="0.9"/>
<text x="490.8" y="42.17" font-size="6.9" textLength="8.56" lengthAdjust="spacingAndGlyphs">EP</text>
<rect x="482.3" y="46.63" width="5.6" height="3.9" fill="#23206E" stroke="#2a2a2a" stroke-width="0.9"/>
<text x="490.8" y="51.06" font-size="6.9" textLength="13.91" lengthAdjust="spacingAndGlyphs">MEP</text>
<rect x="482.3" y="55.52" width="5.6" height="3.9" fill="#5663B0" stroke="#2a2a2a" stroke-width="0.9"/>
<text x="490.8" y="59.95" font-size="6.9" textLength="14.62" lengthAdjust="spacingAndGlyphs">GMP</text>
<rect x="482.3" y="64.41" width="5.6" height="3.9" fill="#4A8AD4" stroke="#2a2a2a" stroke-width="0.9"/>
<text x="490.8" y="68.84" font-size="6.9" textLength="14.26" lengthAdjust="spacingAndGlyphs">CMP</text>
<rect x="482.3" y="73.3" width="5.6" height="3.9" fill="#22894E" stroke="#2a2a2a" stroke-width="0.9"/>
<text x="490.8" y="77.73" font-size="6.9" textLength="23.18" lengthAdjust="spacingAndGlyphs">PreBNK</text>
<rect x="482.3" y="82.19" width="5.6" height="3.9" fill="#7CBE68" stroke="#2a2a2a" stroke-width="0.9"/>
<text x="490.8" y="86.62" font-size="6.9" textLength="12.48" lengthAdjust="spacingAndGlyphs">ETP</text>
<rect x="482.3" y="91.08" width="5.6" height="3.9" fill="#FAD886" stroke="#2a2a2a" stroke-width="0.9"/>
<text x="490.8" y="95.51" font-size="6.9" textLength="13.19" lengthAdjust="spacingAndGlyphs">MLP</text>
<rect x="482.3" y="99.97" width="5.6" height="3.9" fill="#EE7E7C" stroke="#2a2a2a" stroke-width="0.9"/>
<text x="490.8" y="104.4" font-size="6.9" textLength="13.91" lengthAdjust="spacingAndGlyphs">MPP</text>
<rect x="482.3" y="108.86" width="5.6" height="3.9" fill="#D9301F" stroke="#2a2a2a" stroke-width="0.9"/>
<text x="490.8" y="113.29" font-size="6.9" textLength="13.55" lengthAdjust="spacingAndGlyphs">HSC</text>
<text x="8.7" y="167.6" font-size="10.8" font-weight="bold" fill="#111">D</text>
<line x1="33.8" y1="202.3" x2="33.8" y2="284.1" stroke="#1c1c1c" stroke-width="1.35"/>
<line x1="33.3" y1="283.6" x2="160.6" y2="283.6" stroke="#1c1c1c" stroke-width="1.35"/>
<line x1="31.1" y1="283.5" x2="33.8" y2="283.5" stroke="#1c1c1c" stroke-width="0.9"/>
<text x="27.8" y="286.16" font-size="7.4" text-anchor="end" textLength="3.54" lengthAdjust="spacingAndGlyphs">0</text>
<line x1="31.1" y1="272.19" x2="33.8" y2="272.19" stroke="#1c1c1c" stroke-width="0.9"/>
<text x="27.8" y="274.85" font-size="7.4" text-anchor="end" textLength="3.54" lengthAdjust="spacingAndGlyphs">2</text>
<line x1="31.1" y1="260.88" x2="33.8" y2="260.88" stroke="#1c1c1c" stroke-width="0.9"/>
<text x="27.8" y="263.54" font-size="7.4" text-anchor="end" textLength="3.54" lengthAdjust="spacingAndGlyphs">4</text>
<line x1="31.1" y1="249.57" x2="33.8" y2="249.57" stroke="#1c1c1c" stroke-width="0.9"/>
<text x="27.8" y="252.23" font-size="7.4" text-anchor="end" textLength="3.54" lengthAdjust="spacingAndGlyphs">6</text>
<line x1="31.1" y1="238.26" x2="33.8" y2="238.26" stroke="#1c1c1c" stroke-width="0.9"/>
<text x="27.8" y="240.92" font-size="7.4" text-anchor="end" textLength="3.54" lengthAdjust="spacingAndGlyphs">8</text>
<line x1="31.1" y1="226.95" x2="33.8" y2="226.95" stroke="#1c1c1c" stroke-width="0.9"/>
<text x="27.8" y="229.61" font-size="7.4" text-anchor="end" textLength="7.08" lengthAdjust="spacingAndGlyphs">10</text>
<line x1="31.1" y1="215.64" x2="33.8" y2="215.64" stroke="#1c1c1c" stroke-width="0.9"/>
<text x="27.8" y="218.3" font-size="7.4" text-anchor="end" textLength="7.08" lengthAdjust="spacingAndGlyphs">12</text>
<line x1="31.1" y1="204.33" x2="33.8" y2="204.33" stroke="#1c1c1c" stroke-width="0.9"/>
<text x="27.8" y="206.99" font-size="7.4" text-anchor="end" textLength="7.08" lengthAdjust="spacingAndGlyphs">14</text>
<text x="14.5" y="242.3" font-size="7.6" text-anchor="middle" transform="rotate(-90 14.5 242.3)" textLength="27.4" lengthAdjust="spacingAndGlyphs">cHSPC/ul</text>
<line x1="44.6" y1="283.6" x2="44.6" y2="286.4" stroke="#1c1c1c" stroke-width="0.8"/>
<text x="48" y="293.6" font-size="6.8" text-anchor="end" transform="rotate(-45 48 293.6)" textLength="19.92" lengthAdjust="spacingAndGlyphs">PED1/2</text>
<line x1="65.4" y1="283.6" x2="65.4" y2="286.4" stroke="#1c1c1c" stroke-width="0.8"/>
<text x="68.8" y="293.6" font-size="6.8" text-anchor="end" transform="rotate(-45 68.8 293.6)" textLength="19.92" lengthAdjust="spacingAndGlyphs">PED3/4</text>
<line x1="86.8" y1="283.6" x2="86.8" y2="286.4" stroke="#1c1c1c" stroke-width="0.8"/>
<text x="90.2" y="293.6" font-size="6.8" text-anchor="end" transform="rotate(-45 90.2 293.6)" textLength="12.95" lengthAdjust="spacingAndGlyphs">WAS</text>
<line x1="107.9" y1="283.6" x2="107.9" y2="286.4" stroke="#1c1c1c" stroke-width="0.8"/>
<text x="111.3" y="293.6" font-size="6.8" text-anchor="end" transform="rotate(-45 111.3 293.6)" textLength="11.89" lengthAdjust="spacingAndGlyphs">ADA</text>
<line x1="129.2" y1="283.6" x2="129.2" y2="286.4" stroke="#1c1c1c" stroke-width="0.8"/>
<text x="132.6" y="293.6" font-size="6.8" text-anchor="end" transform="rotate(-45 132.6 293.6)" textLength="14.77" lengthAdjust="spacingAndGlyphs">THAL</text>
<line x1="150.3" y1="283.6" x2="150.3" y2="286.4" stroke="#1c1c1c" stroke-width="0.8"/>
<text x="153.7" y="293.6" font-size="6.8" text-anchor="end" transform="rotate(-45 153.7 293.6)" textLength="16.06" lengthAdjust="spacingAndGlyphs">BMFS</text>
<line x1="65.8" y1="165.3" x2="151.6" y2="165.3" stroke="#8a8a8a" stroke-width="1"/>
<text x="108.6" y="164.4" font-size="6.4" text-anchor="middle" textLength="23.3" lengthAdjust="spacingAndGlyphs">&lt;0.0001</text>
<line x1="44.1" y1="173.5" x2="151.6" y2="173.5" stroke="#8a8a8a" stroke-width="1"/>
<text x="96.9" y="172.8" font-size="6.4" text-anchor="middle" textLength="22.8" lengthAdjust="spacingAndGlyphs">&lt;0.0001</text>
<line x1="44.1" y1="181.9" x2="105.9" y2="181.9" stroke="#8a8a8a" stroke-width="1"/>
<text x="74.6" y="181.3" font-size="6.4" text-anchor="middle" textLength="19.3" lengthAdjust="spacingAndGlyphs">0.0227</text>
<line x1="66" y1="189.9" x2="89.8" y2="189.9" stroke="#8a8a8a" stroke-width="1"/>
<text x="78" y="189.4" font-size="6.4" text-anchor="middle" textLength="23.5" lengthAdjust="spacingAndGlyphs">&lt;0.0001</text>
<line x1="44.1" y1="198.3" x2="87.9" y2="198.3" stroke="#8a8a8a" stroke-width="1"/>
<text x="65.8" y="197.4" font-size="6.4" text-anchor="middle" textLength="19.2" lengthAdjust="spacingAndGlyphs">0.0327</text>
<line x1="44.1" y1="206.9" x2="62.8" y2="206.9" stroke="#8a8a8a" stroke-width="1"/>
<text x="53.3" y="206.5" font-size="6.4" text-anchor="middle" textLength="18.5" lengthAdjust="spacingAndGlyphs">0.0004</text>
<path d="M44.6 209.19L46.05 211.81L43.15 211.81Z" fill="#fff" stroke="#333" stroke-width="0.8"/>
<path d="M44.6 213.59L46.05 216.21L43.15 216.21Z" fill="#fff" stroke="#333" stroke-width="0.8"/>
<path d="M44.6 229.19L46.05 231.81L43.15 231.81Z" fill="#fff" stroke="#333" stroke-width="0.8"/>
<path d="M44.6 234.39L46.05 237L43.15 237Z" fill="#fff" stroke="#333" stroke-width="0.8"/>
<path d="M45 244.09L46.45 246.71L43.55 246.71Z" fill="#fff" stroke="#333" stroke-width="0.8"/>
<path d="M44.6 258.69L46.05 261.31L43.15 261.31Z" fill="#fff" stroke="#333" stroke-width="0.8"/>
<path d="M44.6 251.5L46.05 254.11L43.15 254.11Z" fill="#fff" stroke="#333" stroke-width="0.8"/>
<circle cx="38.5" cy="253" r="1.35" fill="none" stroke="#3a3a3a" stroke-width="0.9"/>
<circle cx="40.8" cy="253" r="1.35" fill="none" stroke="#3a3a3a" stroke-width="0.9"/>
<circle cx="43" cy="253" r="1.35" fill="none" stroke="#3a3a3a" stroke-width="0.9"/>
<circle cx="47" cy="253" r="1.35" fill="none" stroke="#3a3a3a" stroke-width="0.9"/>
<circle cx="50.3" cy="251.5" r="1.35" fill="none" stroke="#3a3a3a" stroke-width="0.9"/>
<circle cx="40.8" cy="266.5" r="1.35" fill="none" stroke="#3a3a3a" stroke-width="0.9"/>
<circle cx="44.6" cy="267.2" r="1.35" fill="none" stroke="#3a3a3a" stroke-width="0.9"/>
<circle cx="48.5" cy="267.7" r="1.35" fill="none" stroke="#3a3a3a" stroke-width="0.9"/>
<circle cx="38.5" cy="273" r="1.35" fill="none" stroke="#3a3a3a" stroke-width="0.9"/>
<circle cx="42.6" cy="271.5" r="1.35" fill="none" stroke="#3a3a3a" stroke-width="0.9"/>
<circle cx="46.9" cy="272.3" r="1.35" fill="none" stroke="#3a3a3a" stroke-width="0.9"/>
<circle cx="41.5" cy="275.4" r="1.35" fill="none" stroke="#3a3a3a" stroke-width="0.9"/>
<circle cx="44.6" cy="275.4" r="1.35" fill="none" stroke="#3a3a3a" stroke-width="0.9"/>
<circle cx="47.7" cy="275.4" r="1.35" fill="none" stroke="#3a3a3a" stroke-width="0.9"/>
<circle cx="50.8" cy="275.4" r="1.35" fill="none" stroke="#3a3a3a" stroke-width="0.9"/>
<circle cx="44.6" cy="281.2" r="1.35" fill="none" stroke="#3a3a3a" stroke-width="0.9"/>
<line x1="38.5" y1="256.2" x2="51.5" y2="256.2" stroke="#333" stroke-width="0.7"/>
<line x1="44.6" y1="245.4" x2="44.6" y2="266.5" stroke="#333" stroke-width="0.7"/>
<line x1="41.4" y1="245.4" x2="47.8" y2="245.4" stroke="#333" stroke-width="0.7"/>
<line x1="41.4" y1="266.5" x2="47.8" y2="266.5" stroke="#333" stroke-width="0.7"/>
<rect x="64.55" y="257.35" width="2.3" height="2.3" fill="none" stroke="#3a3a3a" stroke-width="0.8"/>
<rect x="61.85" y="262.65" width="2.3" height="2.3" fill="none" stroke="#3a3a3a" stroke-width="0.8"/>
<rect x="66.55" y="261.85" width="2.3" height="2.3" fill="none" stroke="#3a3a3a" stroke-width="0.8"/>
<rect x="59.65" y="264.85" width="2.3" height="2.3" fill="none" stroke="#3a3a3a" stroke-width="0.8"/>
<rect x="62.65" y="265.35" width="2.3" height="2.3" fill="none" stroke="#3a3a3a" stroke-width="0.8"/>
<rect x="67.05" y="265.35" width="2.3" height="2.3" fill="none" stroke="#3a3a3a" stroke-width="0.8"/>
<rect x="60.35" y="268.05" width="2.3" height="2.3" fill="none" stroke="#3a3a3a" stroke-width="0.8"/>
<rect x="66.05" y="268.85" width="2.3" height="2.3" fill="none" stroke="#3a3a3a" stroke-width="0.8"/>
<rect x="58.05" y="271.15" width="2.3" height="2.3" fill="none" stroke="#3a3a3a" stroke-width="0.8"/>
<rect x="61.85" y="271.45" width="2.3" height="2.3" fill="none" stroke="#3a3a3a" stroke-width="0.8"/>
<rect x="65.05" y="270.85" width="2.3" height="2.3" fill="none" stroke="#3a3a3a" stroke-width="0.8"/>
<rect x="69.65" y="271.15" width="2.3" height="2.3" fill="none" stroke="#3a3a3a" stroke-width="0.8"/>
<rect x="58.85" y="274.25" width="2.3" height="2.3" fill="none" stroke="#3a3a3a" stroke-width="0.8"/>
<rect x="62.35" y="274.25" width="2.3" height="2.3" fill="none" stroke="#3a3a3a" stroke-width="0.8"/>
<rect x="66.05" y="273.85" width="2.3" height="2.3" fill="none" stroke="#3a3a3a" stroke-width="0.8"/>
<rect x="69.15" y="273.85" width="2.3" height="2.3" fill="none" stroke="#3a3a3a" stroke-width="0.8"/>
<rect x="59.65" y="276.55" width="2.3" height="2.3" fill="none" stroke="#3a3a3a" stroke-width="0.8"/>
<rect x="63.45" y="277.05" width="2.3" height="2.3" fill="none" stroke="#3a3a3a" stroke-width="0.8"/>
<rect x="67.35" y="277.35" width="2.3" height="2.3" fill="none" stroke="#3a3a3a" stroke-width="0.8"/>
<rect x="70.35" y="278.05" width="2.3" height="2.3" fill="none" stroke="#3a3a3a" stroke-width="0.8"/>
<rect x="61.15" y="278.85" width="2.3" height="2.3" fill="none" stroke="#3a3a3a" stroke-width="0.8"/>
<rect x="65.05" y="278.85" width="2.3" height="2.3" fill="none" stroke="#3a3a3a" stroke-width="0.8"/>
<rect x="68.05" y="278.85" width="2.3" height="2.3" fill="none" stroke="#3a3a3a" stroke-width="0.8"/>
<line x1="59.4" y1="273.2" x2="71.4" y2="273.2" stroke="#333" stroke-width="0.7"/>
<line x1="65.4" y1="265.4" x2="65.4" y2="281" stroke="#333" stroke-width="0.7"/>
<circle cx="86.8" cy="207.3" r="1.4" fill="#f4f4d0" stroke="#BCBC2C" stroke-width="0.95"/>
<circle cx="86.8" cy="210.7" r="1.4" fill="#f4f4d0" stroke="#BCBC2C" stroke-width="0.95"/>
<circle cx="81" cy="236.3" r="1.4" fill="#f4f4d0" stroke="#BCBC2C" stroke-width="0.95"/>
<circle cx="86.8" cy="255" r="1.4" fill="#f4f4d0" stroke="#BCBC2C" stroke-width="0.95"/>
<circle cx="92.3" cy="254.5" r="1.4" fill="#f4f4d0" stroke="#BCBC2C" stroke-width="0.95"/>
<rect x="85.55" y="223.75" width="2.5" height="2.5" fill="#f4f4d0" stroke="#BCBC2C" stroke-width="0.95"/>
<rect x="91.05" y="242.05" width="2.5" height="2.5" fill="#f4f4d0" stroke="#BCBC2C" stroke-width="0.95"/>
<circle cx="86.8" cy="237.7" r="1.35" fill="#8E8E2E" stroke="#8E8E2E" stroke-width="0.5"/>
<circle cx="86.8" cy="242.9" r="1.35" fill="#8E8E2E" stroke="#8E8E2E" stroke-width="0.5"/>
<circle cx="86.8" cy="249.3" r="1.35" fill="#8E8E2E" stroke="#8E8E2E" stroke-width="0.5"/>
<circle cx="86.8" cy="251.5" r="1.35" fill="#8E8E2E" stroke="#8E8E2E" stroke-width="0.5"/>
<circle cx="86.8" cy="275.6" r="1.35" fill="#8E8E2E" stroke="#8E8E2E" stroke-width="0.5"/>
<path d="M81 241.64L82.4 244.16L79.6 244.16Z" fill="#e8e8b0" stroke="#8E8E2E" stroke-width="0.8"/>
<path d="M92.3 246.34L93.7 248.86L90.9 248.86Z" fill="#e8e8b0" stroke="#8E8E2E" stroke-width="0.8"/>
<line x1="79.3" y1="242.9" x2="94" y2="242.9" stroke="#333" stroke-width="0.7"/>
<line x1="86.8" y1="230.8" x2="86.8" y2="251.6" stroke="#333" stroke-width="0.7"/>
<line x1="83.3" y1="230.8" x2="90.3" y2="230.8" stroke="#333" stroke-width="0.7"/>
<line x1="83.3" y1="251.6" x2="90.3" y2="251.6" stroke="#333" stroke-width="0.7"/>
<path d="M107.9 242.45L109.4 245.15L106.4 245.15Z" fill="#222" stroke="none" stroke-width="0.6"/>
<circle cx="107.9" cy="250.6" r="1.25" fill="#3B3270" stroke="#2a2450" stroke-width="0.6"/>
<circle cx="107.9" cy="268.3" r="1.25" fill="#3B3270" stroke="#2a2450" stroke-width="0.6"/>
<circle cx="107.9" cy="275.3" r="1.25" fill="#3B3270" stroke="#2a2450" stroke-width="0.6"/>
<line x1="107.9" y1="251.2" x2="107.9" y2="281.3" stroke="#555" stroke-width="0.8"/>
<line x1="104.6" y1="251.2" x2="111.2" y2="251.2" stroke="#555" stroke-width="0.8"/>
<rect x="101.5" y="279" width="2" height="2" fill="#5a4a8a" stroke="#2a2050" stroke-width="0.75"/>
<rect x="104" y="280" width="2" height="2" fill="#5a4a8a" stroke="#2a2050" stroke-width="0.75"/>
<rect x="106.5" y="279.2" width="2" height="2" fill="#5a4a8a" stroke="#2a2050" stroke-width="0.75"/>
<rect x="109" y="280" width="2" height="2" fill="#5a4a8a" stroke="#2a2050" stroke-width="0.75"/>
<rect x="111.5" y="279" width="2" height="2" fill="#5a4a8a" stroke="#2a2050" stroke-width="0.75"/>
<rect x="103" y="281.4" width="2" height="2" fill="#5a4a8a" stroke="#2a2050" stroke-width="0.75"/>
<rect x="107" y="281.6" width="2" height="2" fill="#5a4a8a" stroke="#2a2050" stroke-width="0.75"/>
<rect x="110.5" y="281.4" width="2" height="2" fill="#5a4a8a" stroke="#2a2050" stroke-width="0.75"/>
<rect x="112" y="277.4" width="2" height="2" fill="#5a4a8a" stroke="#2a2050" stroke-width="0.75"/>
<rect x="100.5" y="281.6" width="2" height="2" fill="#5a4a8a" stroke="#2a2050" stroke-width="0.75"/>
<path d="M129.2 217.65L130.7 220.35L127.7 220.35Z" fill="#222" stroke="none" stroke-width="0.6"/>
<rect x="127.95" y="230.75" width="2.5" height="2.5" fill="#c04040" stroke="#A52A2A" stroke-width="0.7"/>
<circle cx="126" cy="268" r="1.4" fill="#A52A2A" stroke="#A52A2A" stroke-width="0.5"/>
<circle cx="131.7" cy="270" r="1.4" fill="#A52A2A" stroke="#A52A2A" stroke-width="0.5"/>
<circle cx="129.2" cy="276.6" r="1.4" fill="#A52A2A" stroke="#A52A2A" stroke-width="0.5"/>
<line x1="122" y1="253.3" x2="135.9" y2="253.3" stroke="#444" stroke-width="0.7"/>
<line x1="129.2" y1="241.5" x2="129.2" y2="264.9" stroke="#444" stroke-width="0.7"/>
<line x1="126" y1="241.5" x2="132.4" y2="241.5" stroke="#444" stroke-width="0.7"/>
<line x1="126" y1="264.9" x2="132.4" y2="264.9" stroke="#444" stroke-width="0.7"/>
<circle cx="145.5" cy="282.2" r="1.25" fill="#6a90c0" stroke="#2a4a7a" stroke-width="0.8"/>
<circle cx="148" cy="281.2" r="1.25" fill="#6a90c0" stroke="#2a4a7a" stroke-width="0.8"/>
<circle cx="150.3" cy="279.4" r="1.25" fill="#6a90c0" stroke="#2a4a7a" stroke-width="0.8"/>
<circle cx="150.3" cy="281.8" r="1.25" fill="#6a90c0" stroke="#2a4a7a" stroke-width="0.8"/>
<circle cx="152.8" cy="281.2" r="1.25" fill="#6a90c0" stroke="#2a4a7a" stroke-width="0.8"/>
<circle cx="155.3" cy="282.4" r="1.25" fill="#6a90c0" stroke="#2a4a7a" stroke-width="0.8"/>
<circle cx="147" cy="283" r="1.25" fill="#6a90c0" stroke="#2a4a7a" stroke-width="0.8"/>
<circle cx="153" cy="283" r="1.25" fill="#6a90c0" stroke="#2a4a7a" stroke-width="0.8"/>
<text x="171.9" y="167.6" font-size="10.8" font-weight="bold" fill="#111">E</text>
<line x1="199.5" y1="180.3" x2="199.5" y2="284.2" stroke="#1c1c1c" stroke-width="1.35"/>
<line x1="199.6" y1="283.7" x2="313" y2="283.7" stroke="#1c1c1c" stroke-width="1.35"/>
<line x1="196.8" y1="283.5" x2="199.5" y2="283.5" stroke="#1c1c1c" stroke-width="0.9"/>
<text x="193.1" y="285.95" font-size="6.8" text-anchor="end" textLength="3.25" lengthAdjust="spacingAndGlyphs">0</text>
<line x1="196.8" y1="273.39" x2="199.5" y2="273.39" stroke="#1c1c1c" stroke-width="0.9"/>
<text x="193.1" y="275.84" font-size="6.8" text-anchor="end" textLength="6.5" lengthAdjust="spacingAndGlyphs">10</text>
<line x1="196.8" y1="263.28" x2="199.5" y2="263.28" stroke="#1c1c1c" stroke-width="0.9"/>
<text x="193.1" y="265.73" font-size="6.8" text-anchor="end" textLength="6.5" lengthAdjust="spacingAndGlyphs">20</text>
<line x1="196.8" y1="253.17" x2="199.5" y2="253.17" stroke="#1c1c1c" stroke-width="0.9"/>
<text x="193.1" y="255.62" font-size="6.8" text-anchor="end" textLength="6.5" lengthAdjust="spacingAndGlyphs">30</text>
<line x1="196.8" y1="243.06" x2="199.5" y2="243.06" stroke="#1c1c1c" stroke-width="0.9"/>
<text x="193.1" y="245.51" font-size="6.8" text-anchor="end" textLength="6.5" lengthAdjust="spacingAndGlyphs">40</text>
<line x1="196.8" y1="232.95" x2="199.5" y2="232.95" stroke="#1c1c1c" stroke-width="0.9"/>
<text x="193.1" y="235.4" font-size="6.8" text-anchor="end" textLength="6.5" lengthAdjust="spacingAndGlyphs">50</text>
<line x1="196.8" y1="222.84" x2="199.5" y2="222.84" stroke="#1c1c1c" stroke-width="0.9"/>
<text x="193.1" y="225.29" font-size="6.8" text-anchor="end" textLength="6.5" lengthAdjust="spacingAndGlyphs">60</text>
<line x1="196.8" y1="212.73" x2="199.5" y2="212.73" stroke="#1c1c1c" stroke-width="0.9"/>
<text x="193.1" y="215.18" font-size="6.8" text-anchor="end" textLength="6.5" lengthAdjust="spacingAndGlyphs">70</text>
<line x1="196.8" y1="202.62" x2="199.5" y2="202.62" stroke="#1c1c1c" stroke-width="0.9"/>
<text x="193.1" y="205.07" font-size="6.8" text-anchor="end" textLength="6.5" lengthAdjust="spacingAndGlyphs">80</text>
<line x1="196.8" y1="192.51" x2="199.5" y2="192.51" stroke="#1c1c1c" stroke-width="0.9"/>
<text x="193.1" y="194.96" font-size="6.8" text-anchor="end" textLength="6.5" lengthAdjust="spacingAndGlyphs">90</text>
<line x1="196.8" y1="182.4" x2="199.5" y2="182.4" stroke="#1c1c1c" stroke-width="0.9"/>
<text x="193.1" y="184.85" font-size="6.8" text-anchor="end" textLength="9.76" lengthAdjust="spacingAndGlyphs">100</text>
<text x="176.8" y="232" font-size="7.6" text-anchor="middle" transform="rotate(-90 176.8 232)" textLength="33.8" lengthAdjust="spacingAndGlyphs">% of cHSPC</text>
<rect x="201.4" y="182.6" width="18.4" height="8.9" fill="#A8621C"/>
<rect x="201.4" y="191.5" width="18.4" height="10.4" fill="#A81E5E"/>
<rect x="201.4" y="201.9" width="18.4" height="4.3" fill="#23206E"/>
<rect x="201.4" y="206.2" width="18.4" height="10.1" fill="#5663B0"/>
<rect x="201.4" y="216.3" width="18.4" height="23" fill="#4A8AD4"/>
<rect x="201.4" y="239.3" width="18.4" height="11" fill="#22894E"/>
<rect x="201.4" y="250.3" width="18.4" height="1.7" fill="#7CBE68"/>
<rect x="201.4" y="252" width="18.4" height="20.8" fill="#FAD886"/>
<rect x="201.4" y="272.8" width="18.4" height="8.7" fill="#EE7E7C"/>
<rect x="201.4" y="281.5" width="18.4" height="2.2" fill="#D9301F"/>
<line x1="201.4" y1="191.5" x2="219.8" y2="191.5" stroke="#1a1a1a" stroke-width="0.6"/>
<line x1="201.4" y1="201.9" x2="219.8" y2="201.9" stroke="#1a1a1a" stroke-width="0.6"/>
<line x1="201.4" y1="206.2" x2="219.8" y2="206.2" stroke="#1a1a1a" stroke-width="0.6"/>
<line x1="201.4" y1="216.3" x2="219.8" y2="216.3" stroke="#1a1a1a" stroke-width="0.6"/>
<line x1="201.4" y1="239.3" x2="219.8" y2="239.3" stroke="#1a1a1a" stroke-width="0.6"/>
<line x1="201.4" y1="250.3" x2="219.8" y2="250.3" stroke="#1a1a1a" stroke-width="0.6"/>
<line x1="201.4" y1="252" x2="219.8" y2="252" stroke="#1a1a1a" stroke-width="0.6"/>
<line x1="201.4" y1="272.8" x2="219.8" y2="272.8" stroke="#1a1a1a" stroke-width="0.6"/>
<line x1="201.4" y1="281.5" x2="219.8" y2="281.5" stroke="#1a1a1a" stroke-width="0.6"/>
<rect x="201.4" y="182.6" width="18.4" height="101.1" fill="none" stroke="#1a1a1a" stroke-width="0.6"/>
<line x1="210.6" y1="283.7" x2="210.6" y2="286.5" stroke="#1c1c1c" stroke-width="0.8"/>
<line x1="210.6" y1="190" x2="210.6" y2="192" stroke="#111" stroke-width="0.55"/>
<line x1="206.85" y1="190" x2="214.35" y2="190" stroke="#111" stroke-width="0.55"/>
<line x1="206.85" y1="192" x2="214.35" y2="192" stroke="#111" stroke-width="0.55"/>
<line x1="210.6" y1="202" x2="210.6" y2="205" stroke="#111" stroke-width="0.55"/>
<line x1="206.85" y1="202" x2="214.35" y2="202" stroke="#111" stroke-width="0.55"/>
<line x1="206.85" y1="205" x2="214.35" y2="205" stroke="#111" stroke-width="0.55"/>
<line x1="210.6" y1="215" x2="210.6" y2="218" stroke="#111" stroke-width="0.55"/>
<line x1="206.85" y1="215" x2="214.35" y2="215" stroke="#111" stroke-width="0.55"/>
<line x1="206.85" y1="218" x2="214.35" y2="218" stroke="#111" stroke-width="0.55"/>
<line x1="210.6" y1="237" x2="210.6" y2="240" stroke="#111" stroke-width="0.55"/>
<line x1="206.85" y1="237" x2="214.35" y2="237" stroke="#111" stroke-width="0.55"/>
<line x1="206.85" y1="240" x2="214.35" y2="240" stroke="#111" stroke-width="0.55"/>
<line x1="210.6" y1="249" x2="210.6" y2="251" stroke="#111" stroke-width="0.55"/>
<line x1="206.85" y1="249" x2="214.35" y2="249" stroke="#111" stroke-width="0.55"/>
<line x1="206.85" y1="251" x2="214.35" y2="251" stroke="#111" stroke-width="0.55"/>
<line x1="210.6" y1="272" x2="210.6" y2="274" stroke="#111" stroke-width="0.55"/>
<line x1="206.85" y1="272" x2="214.35" y2="272" stroke="#111" stroke-width="0.55"/>
<line x1="206.85" y1="274" x2="214.35" y2="274" stroke="#111" stroke-width="0.55"/>
<text x="214.2" y="294.6" font-size="6.9" text-anchor="end" transform="rotate(-45 214.2 294.6)" textLength="20.21" lengthAdjust="spacingAndGlyphs">PED1/2</text>
<rect x="224.2" y="182.9" width="18.4" height="8.6" fill="#A8621C"/>
<rect x="224.2" y="191.5" width="18.4" height="16.5" fill="#A81E5E"/>
<rect x="224.2" y="208" width="18.4" height="5.7" fill="#23206E"/>
<rect x="224.2" y="213.7" width="18.4" height="9.8" fill="#5663B0"/>
<rect x="224.2" y="223.5" width="18.4" height="25.1" fill="#4A8AD4"/>
<rect x="224.2" y="248.6" width="18.4" height="12.8" fill="#22894E"/>
<rect x="224.2" y="261.4" width="18.4" height="1.1" fill="#7CBE68"/>
<rect x="224.2" y="262.5" width="18.4" height="12.1" fill="#FAD886"/>
<rect x="224.2" y="274.6" width="18.4" height="6.2" fill="#EE7E7C"/>
<rect x="224.2" y="280.8" width="18.4" height="2.9" fill="#D9301F"/>
<line x1="224.2" y1="191.5" x2="242.6" y2="191.5" stroke="#1a1a1a" stroke-width="0.6"/>
<line x1="224.2" y1="208" x2="242.6" y2="208" stroke="#1a1a1a" stroke-width="0.6"/>
<line x1="224.2" y1="213.7" x2="242.6" y2="213.7" stroke="#1a1a1a" stroke-width="0.6"/>
<line x1="224.2" y1="223.5" x2="242.6" y2="223.5" stroke="#1a1a1a" stroke-width="0.6"/>
<line x1="224.2" y1="248.6" x2="242.6" y2="248.6" stroke="#1a1a1a" stroke-width="0.6"/>
<line x1="224.2" y1="261.4" x2="242.6" y2="261.4" stroke="#1a1a1a" stroke-width="0.6"/>
<line x1="224.2" y1="262.5" x2="242.6" y2="262.5" stroke="#1a1a1a" stroke-width="0.6"/>
<line x1="224.2" y1="274.6" x2="242.6" y2="274.6" stroke="#1a1a1a" stroke-width="0.6"/>
<line x1="224.2" y1="280.8" x2="242.6" y2="280.8" stroke="#1a1a1a" stroke-width="0.6"/>
<rect x="224.2" y="182.9" width="18.4" height="100.8" fill="none" stroke="#1a1a1a" stroke-width="0.6"/>
<line x1="233.4" y1="283.7" x2="233.4" y2="286.5" stroke="#1c1c1c" stroke-width="0.8"/>
<line x1="233.4" y1="207" x2="233.4" y2="209" stroke="#111" stroke-width="0.55"/>
<line x1="229.65" y1="207" x2="237.15" y2="207" stroke="#111" stroke-width="0.55"/>
<line x1="229.65" y1="209" x2="237.15" y2="209" stroke="#111" stroke-width="0.55"/>
<line x1="233.4" y1="222" x2="233.4" y2="226" stroke="#111" stroke-width="0.55"/>
<line x1="229.65" y1="222" x2="237.15" y2="222" stroke="#111" stroke-width="0.55"/>
<line x1="229.65" y1="226" x2="237.15" y2="226" stroke="#111" stroke-width="0.55"/>
<line x1="233.4" y1="260" x2="233.4" y2="262" stroke="#111" stroke-width="0.55"/>
<line x1="229.65" y1="260" x2="237.15" y2="260" stroke="#111" stroke-width="0.55"/>
<line x1="229.65" y1="262" x2="237.15" y2="262" stroke="#111" stroke-width="0.55"/>
<line x1="233.4" y1="272" x2="233.4" y2="276" stroke="#111" stroke-width="0.55"/>
<line x1="229.65" y1="272" x2="237.15" y2="272" stroke="#111" stroke-width="0.55"/>
<line x1="229.65" y1="276" x2="237.15" y2="276" stroke="#111" stroke-width="0.55"/>
<text x="237" y="294.6" font-size="6.9" text-anchor="end" transform="rotate(-45 237 294.6)" textLength="20.21" lengthAdjust="spacingAndGlyphs">PED3/4</text>
<rect x="247.6" y="182.9" width="18.4" height="1.3" fill="#A8621C"/>
<rect x="247.6" y="184.2" width="18.4" height="12.7" fill="#A81E5E"/>
<rect x="247.6" y="196.9" width="18.4" height="1.4" fill="#23206E"/>
<rect x="247.6" y="198.3" width="18.4" height="11.5" fill="#5663B0"/>
<rect x="247.6" y="209.8" width="18.4" height="45.6" fill="#4A8AD4"/>
<rect x="247.6" y="255.4" width="18.4" height="10.2" fill="#22894E"/>
<rect x="247.6" y="265.6" width="18.4" height="2.4" fill="#7CBE68"/>
<rect x="247.6" y="268" width="18.4" height="10" fill="#FAD886"/>
<rect x="247.6" y="278" width="18.4" height="4.3" fill="#EE7E7C"/>
<rect x="247.6" y="282.3" width="18.4" height="1.4" fill="#D9301F"/>
<line x1="247.6" y1="184.2" x2="266" y2="184.2" stroke="#1a1a1a" stroke-width="0.6"/>
<line x1="247.6" y1="196.9" x2="266" y2="196.9" stroke="#1a1a1a" stroke-width="0.6"/>
<line x1="247.6" y1="198.3" x2="266" y2="198.3" stroke="#1a1a1a" stroke-width="0.6"/>
<line x1="247.6" y1="209.8" x2="266" y2="209.8" stroke="#1a1a1a" stroke-width="0.6"/>
<line x1="247.6" y1="255.4" x2="266" y2="255.4" stroke="#1a1a1a" stroke-width="0.6"/>
<line x1="247.6" y1="265.6" x2="266" y2="265.6" stroke="#1a1a1a" stroke-width="0.6"/>
<line x1="247.6" y1="268" x2="266" y2="268" stroke="#1a1a1a" stroke-width="0.6"/>
<line x1="247.6" y1="278" x2="266" y2="278" stroke="#1a1a1a" stroke-width="0.6"/>
<line x1="247.6" y1="282.3" x2="266" y2="282.3" stroke="#1a1a1a" stroke-width="0.6"/>
<rect x="247.6" y="182.9" width="18.4" height="100.8" fill="none" stroke="#1a1a1a" stroke-width="0.6"/>
<line x1="256.8" y1="283.7" x2="256.8" y2="286.5" stroke="#1c1c1c" stroke-width="0.8"/>
<line x1="256.8" y1="183" x2="256.8" y2="187" stroke="#111" stroke-width="0.55"/>
<line x1="253.05" y1="183" x2="260.55" y2="183" stroke="#111" stroke-width="0.55"/>
<line x1="253.05" y1="187" x2="260.55" y2="187" stroke="#111" stroke-width="0.55"/>
<line x1="256.8" y1="196" x2="256.8" y2="199" stroke="#111" stroke-width="0.55"/>
<line x1="253.05" y1="196" x2="260.55" y2="196" stroke="#111" stroke-width="0.55"/>
<line x1="253.05" y1="199" x2="260.55" y2="199" stroke="#111" stroke-width="0.55"/>
<line x1="256.8" y1="209" x2="256.8" y2="214" stroke="#111" stroke-width="0.55"/>
<line x1="253.05" y1="209" x2="260.55" y2="209" stroke="#111" stroke-width="0.55"/>
<line x1="253.05" y1="214" x2="260.55" y2="214" stroke="#111" stroke-width="0.55"/>
<line x1="256.8" y1="255" x2="256.8" y2="258" stroke="#111" stroke-width="0.55"/>
<line x1="253.05" y1="255" x2="260.55" y2="255" stroke="#111" stroke-width="0.55"/>
<line x1="253.05" y1="258" x2="260.55" y2="258" stroke="#111" stroke-width="0.55"/>
<line x1="256.8" y1="266" x2="256.8" y2="271" stroke="#111" stroke-width="0.55"/>
<line x1="253.05" y1="266" x2="260.55" y2="266" stroke="#111" stroke-width="0.55"/>
<line x1="253.05" y1="271" x2="260.55" y2="271" stroke="#111" stroke-width="0.55"/>
<text x="260.4" y="294.6" font-size="6.9" text-anchor="end" transform="rotate(-45 260.4 294.6)" textLength="13.14" lengthAdjust="spacingAndGlyphs">WAS</text>
<rect x="270.4" y="182.9" width="18.4" height="8.3" fill="#A8621C"/>
<rect x="270.4" y="191.2" width="18.4" height="10.9" fill="#A81E5E"/>
<rect x="270.4" y="202.1" width="18.4" height="8.7" fill="#23206E"/>
<rect x="270.4" y="210.8" width="18.4" height="11.1" fill="#5663B0"/>
<rect x="270.4" y="221.9" width="18.4" height="17.7" fill="#4A8AD4"/>
<rect x="270.4" y="239.6" width="18.4" height="15" fill="#22894E"/>
<rect x="270.4" y="254.6" width="18.4" height="1" fill="#7CBE68"/>
<rect x="270.4" y="255.6" width="18.4" height="14.8" fill="#FAD886"/>
<rect x="270.4" y="270.4" width="18.4" height="11.5" fill="#EE7E7C"/>
<rect x="270.4" y="281.9" width="18.4" height="1.8" fill="#D9301F"/>
<line x1="270.4" y1="191.2" x2="288.8" y2="191.2" stroke="#1a1a1a" stroke-width="0.6"/>
<line x1="270.4" y1="202.1" x2="288.8" y2="202.1" stroke="#1a1a1a" stroke-width="0.6"/>
<line x1="270.4" y1="210.8" x2="288.8" y2="210.8" stroke="#1a1a1a" stroke-width="0.6"/>
<line x1="270.4" y1="221.9" x2="288.8" y2="221.9" stroke="#1a1a1a" stroke-width="0.6"/>
<line x1="270.4" y1="239.6" x2="288.8" y2="239.6" stroke="#1a1a1a" stroke-width="0.6"/>
<line x1="270.4" y1="254.6" x2="288.8" y2="254.6" stroke="#1a1a1a" stroke-width="0.6"/>
<line x1="270.4" y1="255.6" x2="288.8" y2="255.6" stroke="#1a1a1a" stroke-width="0.6"/>
<line x1="270.4" y1="270.4" x2="288.8" y2="270.4" stroke="#1a1a1a" stroke-width="0.6"/>
<line x1="270.4" y1="281.9" x2="288.8" y2="281.9" stroke="#1a1a1a" stroke-width="0.6"/>
<rect x="270.4" y="182.9" width="18.4" height="100.8" fill="none" stroke="#1a1a1a" stroke-width="0.6"/>
<line x1="279.6" y1="283.7" x2="279.6" y2="286.5" stroke="#1c1c1c" stroke-width="0.8"/>
<line x1="279.6" y1="190" x2="279.6" y2="193" stroke="#111" stroke-width="0.55"/>
<line x1="275.85" y1="190" x2="283.35" y2="190" stroke="#111" stroke-width="0.55"/>
<line x1="275.85" y1="193" x2="283.35" y2="193" stroke="#111" stroke-width="0.55"/>
<line x1="279.6" y1="210" x2="279.6" y2="214" stroke="#111" stroke-width="0.55"/>
<line x1="275.85" y1="210" x2="283.35" y2="210" stroke="#111" stroke-width="0.55"/>
<line x1="275.85" y1="214" x2="283.35" y2="214" stroke="#111" stroke-width="0.55"/>
<line x1="279.6" y1="221" x2="279.6" y2="226" stroke="#111" stroke-width="0.55"/>
<line x1="275.85" y1="221" x2="283.35" y2="221" stroke="#111" stroke-width="0.55"/>
<line x1="275.85" y1="226" x2="283.35" y2="226" stroke="#111" stroke-width="0.55"/>
<line x1="279.6" y1="239" x2="279.6" y2="243" stroke="#111" stroke-width="0.55"/>
<line x1="275.85" y1="239" x2="283.35" y2="239" stroke="#111" stroke-width="0.55"/>
<line x1="275.85" y1="243" x2="283.35" y2="243" stroke="#111" stroke-width="0.55"/>
<line x1="279.6" y1="255" x2="279.6" y2="258" stroke="#111" stroke-width="0.55"/>
<line x1="275.85" y1="255" x2="283.35" y2="255" stroke="#111" stroke-width="0.55"/>
<line x1="275.85" y1="258" x2="283.35" y2="258" stroke="#111" stroke-width="0.55"/>
<line x1="279.6" y1="269" x2="279.6" y2="274" stroke="#111" stroke-width="0.55"/>
<line x1="275.85" y1="269" x2="283.35" y2="269" stroke="#111" stroke-width="0.55"/>
<line x1="275.85" y1="274" x2="283.35" y2="274" stroke="#111" stroke-width="0.55"/>
<text x="283.2" y="294.6" font-size="6.9" text-anchor="end" transform="rotate(-45 283.2 294.6)" textLength="12.06" lengthAdjust="spacingAndGlyphs">ADA</text>
<rect x="293.4" y="182.9" width="18.4" height="24.4" fill="#A8621C"/>
<rect x="293.4" y="207.3" width="18.4" height="2.5" fill="#A81E5E"/>
<rect x="293.4" y="209.8" width="18.4" height="3.9" fill="#23206E"/>
<rect x="293.4" y="213.7" width="18.4" height="11.5" fill="#5663B0"/>
<rect x="293.4" y="225.2" width="18.4" height="30.2" fill="#4A8AD4"/>
<rect x="293.4" y="255.4" width="18.4" height="17.3" fill="#22894E"/>
<rect x="293.4" y="272.7" width="18.4" height="1.9" fill="#7CBE68"/>
<rect x="293.4" y="274.6" width="18.4" height="2.5" fill="#FAD886"/>
<rect x="293.4" y="277.1" width="18.4" height="4.8" fill="#EE7E7C"/>
<rect x="293.4" y="281.9" width="18.4" height="1.8" fill="#D9301F"/>
<line x1="293.4" y1="207.3" x2="311.8" y2="207.3" stroke="#1a1a1a" stroke-width="0.6"/>
<line x1="293.4" y1="209.8" x2="311.8" y2="209.8" stroke="#1a1a1a" stroke-width="0.6"/>
<line x1="293.4" y1="213.7" x2="311.8" y2="213.7" stroke="#1a1a1a" stroke-width="0.6"/>
<line x1="293.4" y1="225.2" x2="311.8" y2="225.2" stroke="#1a1a1a" stroke-width="0.6"/>
<line x1="293.4" y1="255.4" x2="311.8" y2="255.4" stroke="#1a1a1a" stroke-width="0.6"/>
<line x1="293.4" y1="272.7" x2="311.8" y2="272.7" stroke="#1a1a1a" stroke-width="0.6"/>
<line x1="293.4" y1="274.6" x2="311.8" y2="274.6" stroke="#1a1a1a" stroke-width="0.6"/>
<line x1="293.4" y1="277.1" x2="311.8" y2="277.1" stroke="#1a1a1a" stroke-width="0.6"/>
<line x1="293.4" y1="281.9" x2="311.8" y2="281.9" stroke="#1a1a1a" stroke-width="0.6"/>
<rect x="293.4" y="182.9" width="18.4" height="100.8" fill="none" stroke="#1a1a1a" stroke-width="0.6"/>
<line x1="302.6" y1="283.7" x2="302.6" y2="286.5" stroke="#1c1c1c" stroke-width="0.8"/>
<line x1="302.6" y1="182" x2="302.6" y2="185" stroke="#111" stroke-width="0.55"/>
<line x1="298.85" y1="182" x2="306.35" y2="182" stroke="#111" stroke-width="0.55"/>
<line x1="298.85" y1="185" x2="306.35" y2="185" stroke="#111" stroke-width="0.55"/>
<line x1="302.6" y1="224" x2="302.6" y2="226" stroke="#111" stroke-width="0.55"/>
<line x1="298.85" y1="224" x2="306.35" y2="224" stroke="#111" stroke-width="0.55"/>
<line x1="298.85" y1="226" x2="306.35" y2="226" stroke="#111" stroke-width="0.55"/>
<line x1="302.6" y1="255" x2="302.6" y2="258" stroke="#111" stroke-width="0.55"/>
<line x1="298.85" y1="255" x2="306.35" y2="255" stroke="#111" stroke-width="0.55"/>
<line x1="298.85" y1="258" x2="306.35" y2="258" stroke="#111" stroke-width="0.55"/>
<line x1="302.6" y1="276" x2="302.6" y2="280" stroke="#111" stroke-width="0.55"/>
<line x1="298.85" y1="276" x2="306.35" y2="276" stroke="#111" stroke-width="0.55"/>
<line x1="298.85" y1="280" x2="306.35" y2="280" stroke="#111" stroke-width="0.55"/>
<text x="306.2" y="294.6" font-size="6.9" text-anchor="end" transform="rotate(-45 306.2 294.6)" textLength="14.99" lengthAdjust="spacingAndGlyphs">THAL</text>
<rect x="320.1" y="184.85" width="5" height="3.5" fill="#A8621C" stroke="#2a2a2a" stroke-width="0.9"/>
<text x="328.3" y="188.94" font-size="6.5" textLength="12.4" lengthAdjust="spacingAndGlyphs">MKP</text>
<rect x="320.1" y="192.85" width="5" height="3.5" fill="#A81E5E" stroke="#2a2a2a" stroke-width="0.9"/>
<text x="328.3" y="196.94" font-size="6.5" textLength="7.63" lengthAdjust="spacingAndGlyphs">EP</text>
<rect x="320.1" y="200.85" width="5" height="3.5" fill="#23206E" stroke="#2a2a2a" stroke-width="0.9"/>
<text x="328.3" y="204.94" font-size="6.5" textLength="12.4" lengthAdjust="spacingAndGlyphs">MEP</text>
<rect x="320.1" y="208.85" width="5" height="3.5" fill="#5663B0" stroke="#2a2a2a" stroke-width="0.9"/>
<text x="328.3" y="212.94" font-size="6.5" textLength="13.03" lengthAdjust="spacingAndGlyphs">GMP</text>
<rect x="320.1" y="216.85" width="5" height="3.5" fill="#4A8AD4" stroke="#2a2a2a" stroke-width="0.9"/>
<text x="328.3" y="220.94" font-size="6.5" textLength="12.71" lengthAdjust="spacingAndGlyphs">CMP</text>
<rect x="320.1" y="224.85" width="5" height="3.5" fill="#22894E" stroke="#2a2a2a" stroke-width="0.9"/>
<text x="328.3" y="228.94" font-size="6.5" textLength="20.66" lengthAdjust="spacingAndGlyphs">PreBNK</text>
<rect x="320.1" y="232.85" width="5" height="3.5" fill="#7CBE68" stroke="#2a2a2a" stroke-width="0.9"/>
<text x="328.3" y="236.94" font-size="6.5" textLength="11.12" lengthAdjust="spacingAndGlyphs">ETP</text>
<rect x="320.1" y="240.85" width="5" height="3.5" fill="#FAD886" stroke="#2a2a2a" stroke-width="0.9"/>
<text x="328.3" y="244.94" font-size="6.5" textLength="11.76" lengthAdjust="spacingAndGlyphs">MLP</text>
<rect x="320.1" y="248.85" width="5" height="3.5" fill="#EE7E7C" stroke="#2a2a2a" stroke-width="0.9"/>
<text x="328.3" y="252.94" font-size="6.5" textLength="12.4" lengthAdjust="spacingAndGlyphs">MPP</text>
<rect x="320.1" y="256.85" width="5" height="3.5" fill="#D9301F" stroke="#2a2a2a" stroke-width="0.9"/>
<text x="328.3" y="260.94" font-size="6.5" textLength="12.08" lengthAdjust="spacingAndGlyphs">HSC</text>
<text x="360.5" y="167.7" font-size="10.8" font-weight="bold" fill="#111">F</text>
<line x1="393.1" y1="204.1" x2="393.1" y2="284.3" stroke="#1c1c1c" stroke-width="1.35"/>
<line x1="392.6" y1="283.8" x2="511" y2="283.8" stroke="#1c1c1c" stroke-width="1.35"/>
<line x1="390.4" y1="206.6" x2="393.1" y2="206.6" stroke="#1c1c1c" stroke-width="0.9"/>
<text x="386.2" y="209.05" font-size="6.8" text-anchor="end" textLength="13.01" lengthAdjust="spacingAndGlyphs">1400</text>
<line x1="390.4" y1="218.8" x2="393.1" y2="218.8" stroke="#1c1c1c" stroke-width="0.9"/>
<text x="386.2" y="221.25" font-size="6.8" text-anchor="end" textLength="13.01" lengthAdjust="spacingAndGlyphs">1000</text>
<line x1="390.4" y1="232.5" x2="393.1" y2="232.5" stroke="#1c1c1c" stroke-width="0.9"/>
<text x="386.2" y="234.95" font-size="6.8" text-anchor="end" textLength="9.76" lengthAdjust="spacingAndGlyphs">600</text>
<line x1="390.4" y1="241" x2="393.1" y2="241" stroke="#1c1c1c" stroke-width="0.9"/>
<text x="386.2" y="243.45" font-size="6.8" text-anchor="end" textLength="9.76" lengthAdjust="spacingAndGlyphs">500</text>
<line x1="390.4" y1="249.7" x2="393.1" y2="249.7" stroke="#1c1c1c" stroke-width="0.9"/>
<text x="386.2" y="252.15" font-size="6.8" text-anchor="end" textLength="9.76" lengthAdjust="spacingAndGlyphs">400</text>
<line x1="390.4" y1="258.1" x2="393.1" y2="258.1" stroke="#1c1c1c" stroke-width="0.9"/>
<text x="386.2" y="260.55" font-size="6.8" text-anchor="end" textLength="9.76" lengthAdjust="spacingAndGlyphs">300</text>
<line x1="390.4" y1="266.9" x2="393.1" y2="266.9" stroke="#1c1c1c" stroke-width="0.9"/>
<text x="386.2" y="269.35" font-size="6.8" text-anchor="end" textLength="9.76" lengthAdjust="spacingAndGlyphs">200</text>
<line x1="390.4" y1="275.3" x2="393.1" y2="275.3" stroke="#1c1c1c" stroke-width="0.9"/>
<text x="386.2" y="277.75" font-size="6.8" text-anchor="end" textLength="9.76" lengthAdjust="spacingAndGlyphs">100</text>
<line x1="390.4" y1="283.9" x2="393.1" y2="283.9" stroke="#1c1c1c" stroke-width="0.9"/>
<text x="386.2" y="286.35" font-size="6.8" text-anchor="end" textLength="3.25" lengthAdjust="spacingAndGlyphs">0</text>
<text x="367" y="245" font-size="7.6" text-anchor="middle" transform="rotate(-90 367 245)" textLength="54.8" lengthAdjust="spacingAndGlyphs">Colonies/250ul PB</text>
<text x="431.7" y="208" font-size="6.6" font-style="italic" textLength="63.3" lengthAdjust="spacingAndGlyphs">r = −0.6358, P &lt; .0001</text>
<line x1="394.7" y1="283.8" x2="394.7" y2="286.2" stroke="#1c1c1c" stroke-width="0.7"/>
<line x1="397.51" y1="283.8" x2="397.51" y2="285.1" stroke="#1c1c1c" stroke-width="0.7"/>
<line x1="400.32" y1="283.8" x2="400.32" y2="285.1" stroke="#1c1c1c" stroke-width="0.7"/>
<line x1="403.13" y1="283.8" x2="403.13" y2="285.1" stroke="#1c1c1c" stroke-width="0.7"/>
<line x1="405.94" y1="283.8" x2="405.94" y2="285.1" stroke="#1c1c1c" stroke-width="0.7"/>
<line x1="408.75" y1="283.8" x2="408.75" y2="286.2" stroke="#1c1c1c" stroke-width="0.7"/>
<line x1="411.56" y1="283.8" x2="411.56" y2="285.1" stroke="#1c1c1c" stroke-width="0.7"/>
<line x1="414.37" y1="283.8" x2="414.37" y2="285.1" stroke="#1c1c1c" stroke-width="0.7"/>
<line x1="417.18" y1="283.8" x2="417.18" y2="285.1" stroke="#1c1c1c" stroke-width="0.7"/>
<line x1="419.99" y1="283.8" x2="419.99" y2="285.1" stroke="#1c1c1c" stroke-width="0.7"/>
<line x1="422.8" y1="283.8" x2="422.8" y2="286.2" stroke="#1c1c1c" stroke-width="0.7"/>
<line x1="425.61" y1="283.8" x2="425.61" y2="285.1" stroke="#1c1c1c" stroke-width="0.7"/>
<line x1="428.42" y1="283.8" x2="428.42" y2="285.1" stroke="#1c1c1c" stroke-width="0.7"/>
<line x1="431.23" y1="283.8" x2="431.23" y2="285.1" stroke="#1c1c1c" stroke-width="0.7"/>
<line x1="434.04" y1="283.8" x2="434.04" y2="285.1" stroke="#1c1c1c" stroke-width="0.7"/>
<line x1="436.85" y1="283.8" x2="436.85" y2="286.2" stroke="#1c1c1c" stroke-width="0.7"/>
<line x1="439.66" y1="283.8" x2="439.66" y2="285.1" stroke="#1c1c1c" stroke-width="0.7"/>
<line x1="442.47" y1="283.8" x2="442.47" y2="285.1" stroke="#1c1c1c" stroke-width="0.7"/>
<line x1="445.28" y1="283.8" x2="445.28" y2="285.1" stroke="#1c1c1c" stroke-width="0.7"/>
<line x1="448.09" y1="283.8" x2="448.09" y2="285.1" stroke="#1c1c1c" stroke-width="0.7"/>
<line x1="450.9" y1="283.8" x2="450.9" y2="286.2" stroke="#1c1c1c" stroke-width="0.7"/>
<line x1="465.5" y1="283.8" x2="465.5" y2="286.2" stroke="#1c1c1c" stroke-width="0.7"/>
<line x1="479.3" y1="283.8" x2="479.3" y2="286.2" stroke="#1c1c1c" stroke-width="0.7"/>
<line x1="493.7" y1="283.8" x2="493.7" y2="286.2" stroke="#1c1c1c" stroke-width="0.7"/>
<line x1="507.9" y1="283.8" x2="507.9" y2="286.2" stroke="#1c1c1c" stroke-width="0.7"/>
<line x1="453" y1="283.8" x2="453" y2="285.1" stroke="#1c1c1c" stroke-width="0.6"/>
<line x1="456.5" y1="283.8" x2="456.5" y2="285.1" stroke="#1c1c1c" stroke-width="0.6"/>
<line x1="460" y1="283.8" x2="460" y2="285.1" stroke="#1c1c1c" stroke-width="0.6"/>
<line x1="469" y1="283.8" x2="469" y2="285.1" stroke="#1c1c1c" stroke-width="0.6"/>
<line x1="472.5" y1="283.8" x2="472.5" y2="285.1" stroke="#1c1c1c" stroke-width="0.6"/>
<line x1="476" y1="283.8" x2="476" y2="285.1" stroke="#1c1c1c" stroke-width="0.6"/>
<line x1="483" y1="283.8" x2="483" y2="285.1" stroke="#1c1c1c" stroke-width="0.6"/>
<line x1="486.5" y1="283.8" x2="486.5" y2="285.1" stroke="#1c1c1c" stroke-width="0.6"/>
<line x1="490" y1="283.8" x2="490" y2="285.1" stroke="#1c1c1c" stroke-width="0.6"/>
<line x1="497" y1="283.8" x2="497" y2="285.1" stroke="#1c1c1c" stroke-width="0.6"/>
<line x1="500.5" y1="283.8" x2="500.5" y2="285.1" stroke="#1c1c1c" stroke-width="0.6"/>
<line x1="504" y1="283.8" x2="504" y2="285.1" stroke="#1c1c1c" stroke-width="0.6"/>
<text x="394.7" y="294.7" font-size="6.8" text-anchor="middle" textLength="3.25" lengthAdjust="spacingAndGlyphs">0</text>
<text x="408.75" y="294.7" font-size="6.8" text-anchor="middle" textLength="3.25" lengthAdjust="spacingAndGlyphs">5</text>
<text x="422.8" y="294.7" font-size="6.8" text-anchor="middle" textLength="6.5" lengthAdjust="spacingAndGlyphs">10</text>
<text x="436.9" y="294.7" font-size="6.8" text-anchor="middle" textLength="6.5" lengthAdjust="spacingAndGlyphs">15</text>
<text x="450.5" y="294.7" font-size="6.8" text-anchor="middle" textLength="6.5" lengthAdjust="spacingAndGlyphs">20</text>
<text x="465.5" y="294.7" font-size="6.8" text-anchor="middle" textLength="6.5" lengthAdjust="spacingAndGlyphs">40</text>
<text x="479.3" y="294.7" font-size="6.8" text-anchor="middle" textLength="6.5" lengthAdjust="spacingAndGlyphs">60</text>
<text x="493.7" y="294.7" font-size="6.8" text-anchor="middle" textLength="6.5" lengthAdjust="spacingAndGlyphs">80</text>
<text x="507.9" y="294.7" font-size="6.8" text-anchor="middle" textLength="9.76" lengthAdjust="spacingAndGlyphs">100</text>
<text x="453.5" y="306.6" font-size="7.8" text-anchor="middle" textLength="32.5" lengthAdjust="spacingAndGlyphs">Age (years)</text>
<circle cx="395" cy="210.6" r="1.35" fill="none" stroke="#333" stroke-width="1"/>
<circle cx="395" cy="212.5" r="1.35" fill="none" stroke="#333" stroke-width="1"/>
<circle cx="395.3" cy="218.4" r="1.35" fill="none" stroke="#333" stroke-width="1"/>
<circle cx="395" cy="223.4" r="1.35" fill="none" stroke="#333" stroke-width="1"/>
<circle cx="395.3" cy="225.8" r="1.35" fill="none" stroke="#333" stroke-width="1"/>
<circle cx="395" cy="228.9" r="1.35" fill="none" stroke="#333" stroke-width="1"/>
<circle cx="395" cy="236.7" r="1.35" fill="none" stroke="#333" stroke-width="1"/>
<circle cx="395" cy="243.4" r="1.35" fill="none" stroke="#333" stroke-width="1"/>
<circle cx="396.6" cy="248.1" r="1.35" fill="none" stroke="#333" stroke-width="1"/>
<circle cx="397.3" cy="250.8" r="1.35" fill="none" stroke="#333" stroke-width="1"/>
<circle cx="397.8" cy="257.8" r="1.35" fill="none" stroke="#333" stroke-width="1"/>
<circle cx="395.8" cy="258.6" r="1.35" fill="none" stroke="#333" stroke-width="1"/>
<circle cx="395" cy="261.7" r="1.35" fill="none" stroke="#333" stroke-width="1"/>
<circle cx="395.8" cy="264" r="1.35" fill="none" stroke="#333" stroke-width="1"/>
<circle cx="395" cy="268.75" r="1.35" fill="none" stroke="#333" stroke-width="1"/>
<circle cx="397.8" cy="270.6" r="1.35" fill="none" stroke="#333" stroke-width="1"/>
<circle cx="395.8" cy="272.7" r="1.35" fill="none" stroke="#333" stroke-width="1"/>
<circle cx="395" cy="276.6" r="1.35" fill="none" stroke="#333" stroke-width="1"/>
<circle cx="396.6" cy="278.1" r="1.35" fill="none" stroke="#333" stroke-width="1"/>
<circle cx="397.8" cy="278.9" r="1.35" fill="none" stroke="#333" stroke-width="1"/>
<circle cx="405.9" cy="270.3" r="1.35" fill="none" stroke="#333" stroke-width="1"/>
<circle cx="405.9" cy="275" r="1.35" fill="none" stroke="#333" stroke-width="1"/>
<circle cx="405.9" cy="278.1" r="1.35" fill="none" stroke="#333" stroke-width="1"/>
<circle cx="408.3" cy="246.9" r="1.35" fill="none" stroke="#333" stroke-width="1"/>
<circle cx="408.75" cy="268" r="1.35" fill="none" stroke="#333" stroke-width="1"/>
<circle cx="411.4" cy="250.8" r="1.35" fill="none" stroke="#333" stroke-width="1"/>
<circle cx="410.9" cy="268.75" r="1.35" fill="none" stroke="#333" stroke-width="1"/>
<circle cx="414" cy="269.5" r="1.35" fill="none" stroke="#333" stroke-width="1"/>
<circle cx="414" cy="271.9" r="1.35" fill="none" stroke="#333" stroke-width="1"/>
<circle cx="414" cy="274.7" r="1.35" fill="none" stroke="#333" stroke-width="1"/>
<circle cx="414" cy="276.9" r="1.35" fill="none" stroke="#333" stroke-width="1"/>
<circle cx="414" cy="278.9" r="1.35" fill="none" stroke="#333" stroke-width="1"/>
<circle cx="414" cy="265.3" r="1.35" fill="none" stroke="#333" stroke-width="1"/>
<circle cx="416.9" cy="263.3" r="1.35" fill="none" stroke="#333" stroke-width="1"/>
<circle cx="422.3" cy="275" r="1.35" fill="none" stroke="#333" stroke-width="1"/>
<circle cx="425" cy="276.6" r="1.35" fill="none" stroke="#333" stroke-width="1"/>
<circle cx="427.8" cy="276.25" r="1.35" fill="none" stroke="#333" stroke-width="1"/>
<circle cx="430.2" cy="280.5" r="1.35" fill="none" stroke="#333" stroke-width="1"/>
<circle cx="432.5" cy="282" r="1.35" fill="none" stroke="#333" stroke-width="1"/>
<circle cx="438.4" cy="273.75" r="1.35" fill="none" stroke="#333" stroke-width="1"/>
<circle cx="438.75" cy="282" r="1.35" fill="none" stroke="#333" stroke-width="1"/>
<circle cx="441" cy="281.6" r="1.35" fill="none" stroke="#333" stroke-width="1"/>
<circle cx="441.6" cy="265.6" r="1.35" fill="none" stroke="#333" stroke-width="1"/>
<circle cx="456.3" cy="260.3" r="1.35" fill="none" stroke="#333" stroke-width="1"/>
<circle cx="456.3" cy="265.5" r="1.35" fill="none" stroke="#333" stroke-width="1"/>
<circle cx="456.3" cy="268.1" r="1.35" fill="none" stroke="#333" stroke-width="1"/>
<circle cx="458.5" cy="279.8" r="1.35" fill="none" stroke="#333" stroke-width="1"/>
<circle cx="463.2" cy="281" r="1.35" fill="none" stroke="#333" stroke-width="1"/>
<circle cx="472.4" cy="260.8" r="1.35" fill="none" stroke="#333" stroke-width="1"/>
<circle cx="477" cy="273.6" r="1.35" fill="none" stroke="#333" stroke-width="1"/>
<circle cx="482.8" cy="275" r="1.35" fill="none" stroke="#333" stroke-width="1"/>
<circle cx="485" cy="278.1" r="1.35" fill="none" stroke="#333" stroke-width="1"/>
<circle cx="485.7" cy="279.3" r="1.35" fill="none" stroke="#333" stroke-width="1"/>
<circle cx="489.7" cy="276.4" r="1.35" fill="none" stroke="#333" stroke-width="1"/>
<circle cx="490.9" cy="268.9" r="1.35" fill="none" stroke="#333" stroke-width="1"/>
<circle cx="490.9" cy="278.4" r="1.35" fill="none" stroke="#333" stroke-width="1"/>
<circle cx="493.7" cy="274.6" r="1.35" fill="none" stroke="#333" stroke-width="1"/>
<circle cx="489.7" cy="282.8" r="1.35" fill="none" stroke="#333" stroke-width="1"/>
<circle cx="430.9" cy="281.9" r="1.35" fill="none" stroke="#333" stroke-width="1"/>
<circle cx="432.6" cy="282.8" r="1.35" fill="none" stroke="#333" stroke-width="1"/>
<text x="6.9" y="327.6" font-size="10.8" font-weight="bold" fill="#111">G</text>
<line x1="35.2" y1="341.8" x2="35.2" y2="430" stroke="#1c1c1c" stroke-width="1.35"/>
<line x1="34.7" y1="429.5" x2="163" y2="429.5" stroke="#1c1c1c" stroke-width="1.35"/>
<line x1="32.5" y1="429.4" x2="35.2" y2="429.4" stroke="#1c1c1c" stroke-width="0.9"/>
<text x="29.4" y="431.88" font-size="6.9" text-anchor="end" textLength="3.3" lengthAdjust="spacingAndGlyphs">0</text>
<line x1="32.5" y1="418.8" x2="35.2" y2="418.8" stroke="#1c1c1c" stroke-width="0.9"/>
<text x="29.4" y="421.28" font-size="6.9" text-anchor="end" textLength="9.9" lengthAdjust="spacingAndGlyphs">100</text>
<line x1="32.5" y1="408.2" x2="35.2" y2="408.2" stroke="#1c1c1c" stroke-width="0.9"/>
<text x="29.4" y="410.68" font-size="6.9" text-anchor="end" textLength="9.9" lengthAdjust="spacingAndGlyphs">200</text>
<line x1="32.5" y1="397.6" x2="35.2" y2="397.6" stroke="#1c1c1c" stroke-width="0.9"/>
<text x="29.4" y="400.08" font-size="6.9" text-anchor="end" textLength="9.9" lengthAdjust="spacingAndGlyphs">300</text>
<line x1="32.5" y1="387" x2="35.2" y2="387" stroke="#1c1c1c" stroke-width="0.9"/>
<text x="29.4" y="389.48" font-size="6.9" text-anchor="end" textLength="9.9" lengthAdjust="spacingAndGlyphs">400</text>
<line x1="32.5" y1="376.4" x2="35.2" y2="376.4" stroke="#1c1c1c" stroke-width="0.9"/>
<text x="29.4" y="378.88" font-size="6.9" text-anchor="end" textLength="9.9" lengthAdjust="spacingAndGlyphs">500</text>
<line x1="32.5" y1="365.8" x2="35.2" y2="365.8" stroke="#1c1c1c" stroke-width="0.9"/>
<text x="29.4" y="368.28" font-size="6.9" text-anchor="end" textLength="9.9" lengthAdjust="spacingAndGlyphs">600</text>
<line x1="32.5" y1="355.2" x2="35.2" y2="355.2" stroke="#1c1c1c" stroke-width="0.9"/>
<text x="29.4" y="357.68" font-size="6.9" text-anchor="end" textLength="9.9" lengthAdjust="spacingAndGlyphs">700</text>
<line x1="32.5" y1="344.6" x2="35.2" y2="344.6" stroke="#1c1c1c" stroke-width="0.9"/>
<text x="29.4" y="347.08" font-size="6.9" text-anchor="end" textLength="9.9" lengthAdjust="spacingAndGlyphs">800</text>
<line x1="35.4" y1="429.5" x2="35.4" y2="432.2" stroke="#1c1c1c" stroke-width="0.8"/>
<text x="35.4" y="441.8" font-size="6.6" text-anchor="middle" textLength="3.16" lengthAdjust="spacingAndGlyphs">0</text>
<line x1="53.47" y1="429.5" x2="53.47" y2="432.2" stroke="#1c1c1c" stroke-width="0.8"/>
<text x="53.47" y="441.8" font-size="6.6" text-anchor="middle" textLength="3.16" lengthAdjust="spacingAndGlyphs">2</text>
<line x1="71.54" y1="429.5" x2="71.54" y2="432.2" stroke="#1c1c1c" stroke-width="0.8"/>
<text x="71.54" y="441.8" font-size="6.6" text-anchor="middle" textLength="3.16" lengthAdjust="spacingAndGlyphs">4</text>
<line x1="89.61" y1="429.5" x2="89.61" y2="432.2" stroke="#1c1c1c" stroke-width="0.8"/>
<text x="89.61" y="441.8" font-size="6.6" text-anchor="middle" textLength="3.16" lengthAdjust="spacingAndGlyphs">6</text>
<line x1="107.68" y1="429.5" x2="107.68" y2="432.2" stroke="#1c1c1c" stroke-width="0.8"/>
<text x="107.68" y="441.8" font-size="6.6" text-anchor="middle" textLength="3.16" lengthAdjust="spacingAndGlyphs">8</text>
<line x1="125.75" y1="429.5" x2="125.75" y2="432.2" stroke="#1c1c1c" stroke-width="0.8"/>
<text x="125.75" y="441.8" font-size="6.6" text-anchor="middle" textLength="6.31" lengthAdjust="spacingAndGlyphs">10</text>
<line x1="143.82" y1="429.5" x2="143.82" y2="432.2" stroke="#1c1c1c" stroke-width="0.8"/>
<text x="143.82" y="441.8" font-size="6.6" text-anchor="middle" textLength="6.31" lengthAdjust="spacingAndGlyphs">12</text>
<line x1="161.89" y1="429.5" x2="161.89" y2="432.2" stroke="#1c1c1c" stroke-width="0.8"/>
<text x="161.89" y="441.8" font-size="6.6" text-anchor="middle" textLength="6.31" lengthAdjust="spacingAndGlyphs">14</text>
<text x="99.5" y="453.6" font-size="7.8" text-anchor="middle" textLength="29.4" lengthAdjust="spacingAndGlyphs">cHSPC/µl</text>
<text x="14.2" y="385.3" font-size="7.6" text-anchor="middle" transform="rotate(-90 14.2 385.3)" textLength="55.6" lengthAdjust="spacingAndGlyphs">Colonies/250ul PB</text>
<text x="96" y="347.4" font-size="6.6" font-style="italic" textLength="60.6" lengthAdjust="spacingAndGlyphs">r = 0.8555, P &lt; .0001</text>
<circle cx="41.5" cy="348.2" r="1.5" fill="#dfe0a0" stroke="#8a9a30" stroke-width="1"/>
<text x="46.4" y="350.4" font-size="6.8" textLength="13.41" lengthAdjust="spacingAndGlyphs">WAS</text>
<circle cx="41.5" cy="355.9" r="1.65" fill="#302440" stroke="#2a2a2a" stroke-width="0.6"/>
<text x="46.4" y="358.2" font-size="6.8" textLength="12.3" lengthAdjust="spacingAndGlyphs">ADA</text>
<circle cx="41.5" cy="363.5" r="1.65" fill="#7a3434" stroke="#3a2a2a" stroke-width="0.6"/>
<text x="46.4" y="365.8" font-size="6.8" textLength="15.3" lengthAdjust="spacingAndGlyphs">THAL</text>
<circle cx="41.5" cy="371.1" r="1.65" fill="#4a6a90" stroke="#2a3a4a" stroke-width="0.6"/>
<text x="46.4" y="373.4" font-size="6.8" textLength="16.62" lengthAdjust="spacingAndGlyphs">BMFS</text>
<circle cx="129.1" cy="375.6" r="1.65" fill="#eef0c8" stroke="#a0aa30" stroke-width="1.05"/>
<circle cx="110.8" cy="389.6" r="1.65" fill="#eef0c8" stroke="#a0aa30" stroke-width="1.05"/>
<circle cx="101.4" cy="397.7" r="1.65" fill="#eef0c8" stroke="#a0aa30" stroke-width="1.05"/>
<circle cx="80.6" cy="410.6" r="1.65" fill="#eef0c8" stroke="#a0aa30" stroke-width="1.05"/>
<circle cx="157.1" cy="405.8" r="1.65" fill="#eef0c8" stroke="#a0aa30" stroke-width="1.05"/>
<circle cx="93.8" cy="424.6" r="1.65" fill="#eef0c8" stroke="#a0aa30" stroke-width="1.05"/>
<circle cx="117.5" cy="376.7" r="1.8" fill="#842a2a" stroke="#5a2020" stroke-width="0.5"/>
<circle cx="139" cy="403.1" r="1.8" fill="#842a2a" stroke="#5a2020" stroke-width="0.5"/>
<circle cx="60.2" cy="407.7" r="1.8" fill="#842a2a" stroke="#5a2020" stroke-width="0.5"/>
<circle cx="46.7" cy="418.4" r="1.8" fill="#842a2a" stroke="#5a2020" stroke-width="0.5"/>
<circle cx="56.9" cy="423.3" r="1.8" fill="#842a2a" stroke="#5a2020" stroke-width="0.5"/>
<circle cx="48.8" cy="425.2" r="1.8" fill="#35306a" stroke="#25204a" stroke-width="0.4"/>
<circle cx="60.2" cy="427.9" r="1.8" fill="#35306a" stroke="#25204a" stroke-width="0.4"/>
<circle cx="41.3" cy="421.4" r="1.7" fill="#3e6090" stroke="#2a4a70" stroke-width="0.4"/>
<circle cx="39.4" cy="426" r="1.7" fill="#3e6090" stroke="#2a4a70" stroke-width="0.4"/>
<circle cx="35.6" cy="428.7" r="1.7" fill="#3e6090" stroke="#2a4a70" stroke-width="0.4"/>
<circle cx="37.5" cy="429.3" r="1.7" fill="#3e6090" stroke="#2a4a70" stroke-width="0.4"/>
<text x="171" y="328.2" font-size="10.8" font-weight="bold" fill="#111">H</text>
<line x1="199.6" y1="334.8" x2="199.6" y2="430" stroke="#1c1c1c" stroke-width="1.35"/>
<line x1="199.1" y1="429.5" x2="302.5" y2="429.5" stroke="#1c1c1c" stroke-width="1.35"/>
<line x1="196.9" y1="429.4" x2="199.6" y2="429.4" stroke="#1c1c1c" stroke-width="0.9"/>
<text x="193.1" y="431.88" font-size="6.9" text-anchor="end" textLength="3.3" lengthAdjust="spacingAndGlyphs">0</text>
<line x1="196.9" y1="420.14" x2="199.6" y2="420.14" stroke="#1c1c1c" stroke-width="0.9"/>
<text x="193.1" y="422.62" font-size="6.9" text-anchor="end" textLength="6.6" lengthAdjust="spacingAndGlyphs">10</text>
<line x1="196.9" y1="410.88" x2="199.6" y2="410.88" stroke="#1c1c1c" stroke-width="0.9"/>
<text x="193.1" y="413.36" font-size="6.9" text-anchor="end" textLength="6.6" lengthAdjust="spacingAndGlyphs">20</text>
<line x1="196.9" y1="401.62" x2="199.6" y2="401.62" stroke="#1c1c1c" stroke-width="0.9"/>
<text x="193.1" y="404.1" font-size="6.9" text-anchor="end" textLength="6.6" lengthAdjust="spacingAndGlyphs">30</text>
<line x1="196.9" y1="392.36" x2="199.6" y2="392.36" stroke="#1c1c1c" stroke-width="0.9"/>
<text x="193.1" y="394.84" font-size="6.9" text-anchor="end" textLength="6.6" lengthAdjust="spacingAndGlyphs">40</text>
<line x1="196.9" y1="383.1" x2="199.6" y2="383.1" stroke="#1c1c1c" stroke-width="0.9"/>
<text x="193.1" y="385.58" font-size="6.9" text-anchor="end" textLength="6.6" lengthAdjust="spacingAndGlyphs">50</text>
<line x1="196.9" y1="373.84" x2="199.6" y2="373.84" stroke="#1c1c1c" stroke-width="0.9"/>
<text x="193.1" y="376.32" font-size="6.9" text-anchor="end" textLength="6.6" lengthAdjust="spacingAndGlyphs">60</text>
<line x1="196.9" y1="364.58" x2="199.6" y2="364.58" stroke="#1c1c1c" stroke-width="0.9"/>
<text x="193.1" y="367.06" font-size="6.9" text-anchor="end" textLength="6.6" lengthAdjust="spacingAndGlyphs">70</text>
<line x1="196.9" y1="355.32" x2="199.6" y2="355.32" stroke="#1c1c1c" stroke-width="0.9"/>
<text x="193.1" y="357.8" font-size="6.9" text-anchor="end" textLength="6.6" lengthAdjust="spacingAndGlyphs">80</text>
<line x1="196.9" y1="346.06" x2="199.6" y2="346.06" stroke="#1c1c1c" stroke-width="0.9"/>
<text x="193.1" y="348.54" font-size="6.9" text-anchor="end" textLength="6.6" lengthAdjust="spacingAndGlyphs">90</text>
<line x1="196.9" y1="336.8" x2="199.6" y2="336.8" stroke="#1c1c1c" stroke-width="0.9"/>
<text x="193.1" y="339.28" font-size="6.9" text-anchor="end" textLength="9.9" lengthAdjust="spacingAndGlyphs">100</text>
<text x="177" y="381.5" font-size="7.6" text-anchor="middle" transform="rotate(-90 177 381.5)" textLength="31" lengthAdjust="spacingAndGlyphs">% of HSPC</text>
<rect x="201.6" y="336.6" width="20.8" height="5.6" fill="#A8621C"/>
<rect x="201.6" y="342.2" width="20.8" height="9.9" fill="#A81E5E"/>
<rect x="201.6" y="352.1" width="20.8" height="5.6" fill="#23206E"/>
<rect x="201.6" y="357.7" width="20.8" height="28.7" fill="#5663B0"/>
<rect x="201.6" y="386.4" width="20.8" height="13.3" fill="#4A8AD4"/>
<rect x="201.6" y="399.7" width="20.8" height="24.3" fill="#22894E"/>
<rect x="201.6" y="424" width="20.8" height="0.8" fill="#2a3a2a"/>
<rect x="201.6" y="424.8" width="20.8" height="0.8" fill="#3a3a2a"/>
<rect x="201.6" y="425.6" width="20.8" height="2.7" fill="#EE7E7C"/>
<rect x="201.6" y="428.3" width="20.8" height="1.2" fill="#D9301F"/>
<line x1="201.6" y1="342.2" x2="222.4" y2="342.2" stroke="#1a1a1a" stroke-width="0.6"/>
<line x1="201.6" y1="352.1" x2="222.4" y2="352.1" stroke="#1a1a1a" stroke-width="0.6"/>
<line x1="201.6" y1="357.7" x2="222.4" y2="357.7" stroke="#1a1a1a" stroke-width="0.6"/>
<line x1="201.6" y1="386.4" x2="222.4" y2="386.4" stroke="#1a1a1a" stroke-width="0.6"/>
<line x1="201.6" y1="399.7" x2="222.4" y2="399.7" stroke="#1a1a1a" stroke-width="0.6"/>
<line x1="201.6" y1="424" x2="222.4" y2="424" stroke="#1a1a1a" stroke-width="0.6"/>
<line x1="201.6" y1="424.8" x2="222.4" y2="424.8" stroke="#1a1a1a" stroke-width="0.6"/>
<line x1="201.6" y1="425.6" x2="222.4" y2="425.6" stroke="#1a1a1a" stroke-width="0.6"/>
<line x1="201.6" y1="428.3" x2="222.4" y2="428.3" stroke="#1a1a1a" stroke-width="0.6"/>
<rect x="201.6" y="336.6" width="20.8" height="92.9" fill="none" stroke="#1a1a1a" stroke-width="0.6"/>
<line x1="212" y1="429.5" x2="212" y2="432" stroke="#1c1c1c" stroke-width="0.8"/>
<line x1="212" y1="342" x2="212" y2="343" stroke="#111" stroke-width="0.5"/>
<line x1="208" y1="342" x2="216" y2="342" stroke="#111" stroke-width="0.5"/>
<line x1="208" y1="343" x2="216" y2="343" stroke="#111" stroke-width="0.5"/>
<line x1="212" y1="356" x2="212" y2="358" stroke="#111" stroke-width="0.5"/>
<line x1="208" y1="356" x2="216" y2="356" stroke="#111" stroke-width="0.5"/>
<line x1="208" y1="358" x2="216" y2="358" stroke="#111" stroke-width="0.5"/>
<line x1="212" y1="385.5" x2="212" y2="387.5" stroke="#111" stroke-width="0.5"/>
<line x1="208" y1="385.5" x2="216" y2="385.5" stroke="#111" stroke-width="0.5"/>
<line x1="208" y1="387.5" x2="216" y2="387.5" stroke="#111" stroke-width="0.5"/>
<line x1="212" y1="398.5" x2="212" y2="401" stroke="#111" stroke-width="0.5"/>
<line x1="208" y1="398.5" x2="216" y2="398.5" stroke="#111" stroke-width="0.5"/>
<line x1="208" y1="401" x2="216" y2="401" stroke="#111" stroke-width="0.5"/>
<rect x="228" y="336.6" width="20.8" height="7.8" fill="#A8621C"/>
<rect x="228" y="344.4" width="20.8" height="13.3" fill="#A81E5E"/>
<rect x="228" y="357.7" width="20.8" height="4.4" fill="#23206E"/>
<rect x="228" y="362.1" width="20.8" height="24.3" fill="#5663B0"/>
<rect x="228" y="386.4" width="20.8" height="23.2" fill="#4A8AD4"/>
<rect x="228" y="409.6" width="20.8" height="11.1" fill="#22894E"/>
<rect x="228" y="420.7" width="20.8" height="0.8" fill="#2a3a2a"/>
<rect x="228" y="421.5" width="20.8" height="1.4" fill="#3a3a2a"/>
<rect x="228" y="422.9" width="20.8" height="3.3" fill="#EE7E7C"/>
<rect x="228" y="426.2" width="20.8" height="3.3" fill="#D9301F"/>
<line x1="228" y1="344.4" x2="248.8" y2="344.4" stroke="#1a1a1a" stroke-width="0.6"/>
<line x1="228" y1="357.7" x2="248.8" y2="357.7" stroke="#1a1a1a" stroke-width="0.6"/>
<line x1="228" y1="362.1" x2="248.8" y2="362.1" stroke="#1a1a1a" stroke-width="0.6"/>
<line x1="228" y1="386.4" x2="248.8" y2="386.4" stroke="#1a1a1a" stroke-width="0.6"/>
<line x1="228" y1="409.6" x2="248.8" y2="409.6" stroke="#1a1a1a" stroke-width="0.6"/>
<line x1="228" y1="420.7" x2="248.8" y2="420.7" stroke="#1a1a1a" stroke-width="0.6"/>
<line x1="228" y1="421.5" x2="248.8" y2="421.5" stroke="#1a1a1a" stroke-width="0.6"/>
<line x1="228" y1="422.9" x2="248.8" y2="422.9" stroke="#1a1a1a" stroke-width="0.6"/>
<line x1="228" y1="426.2" x2="248.8" y2="426.2" stroke="#1a1a1a" stroke-width="0.6"/>
<rect x="228" y="336.6" width="20.8" height="92.9" fill="none" stroke="#1a1a1a" stroke-width="0.6"/>
<line x1="238.4" y1="429.5" x2="238.4" y2="432" stroke="#1c1c1c" stroke-width="0.8"/>
<line x1="238.4" y1="344" x2="238.4" y2="346" stroke="#111" stroke-width="0.5"/>
<line x1="234.4" y1="344" x2="242.4" y2="344" stroke="#111" stroke-width="0.5"/>
<line x1="234.4" y1="346" x2="242.4" y2="346" stroke="#111" stroke-width="0.5"/>
<line x1="238.4" y1="361" x2="238.4" y2="363" stroke="#111" stroke-width="0.5"/>
<line x1="234.4" y1="361" x2="242.4" y2="361" stroke="#111" stroke-width="0.5"/>
<line x1="234.4" y1="363" x2="242.4" y2="363" stroke="#111" stroke-width="0.5"/>
<line x1="238.4" y1="385.5" x2="238.4" y2="387.5" stroke="#111" stroke-width="0.5"/>
<line x1="234.4" y1="385.5" x2="242.4" y2="385.5" stroke="#111" stroke-width="0.5"/>
<line x1="234.4" y1="387.5" x2="242.4" y2="387.5" stroke="#111" stroke-width="0.5"/>
<line x1="238.4" y1="409" x2="238.4" y2="411" stroke="#111" stroke-width="0.5"/>
<line x1="234.4" y1="409" x2="242.4" y2="409" stroke="#111" stroke-width="0.5"/>
<line x1="234.4" y1="411" x2="242.4" y2="411" stroke="#111" stroke-width="0.5"/>
<rect x="254.2" y="336.6" width="20.8" height="7.8" fill="#A8621C"/>
<rect x="254.2" y="344.4" width="20.8" height="14.4" fill="#A81E5E"/>
<rect x="254.2" y="358.8" width="20.8" height="5.5" fill="#23206E"/>
<rect x="254.2" y="364.3" width="20.8" height="8.8" fill="#5663B0"/>
<rect x="254.2" y="373.1" width="20.8" height="22.2" fill="#4A8AD4"/>
<rect x="254.2" y="395.3" width="20.8" height="11" fill="#22894E"/>
<rect x="254.2" y="406.3" width="20.8" height="2.2" fill="#7CBE68"/>
<rect x="254.2" y="408.5" width="20.8" height="12.7" fill="#FAD886"/>
<rect x="254.2" y="421.2" width="20.8" height="6.1" fill="#EE7E7C"/>
<rect x="254.2" y="427.3" width="20.8" height="2.2" fill="#D9301F"/>
<line x1="254.2" y1="344.4" x2="275" y2="344.4" stroke="#1a1a1a" stroke-width="0.6"/>
<line x1="254.2" y1="358.8" x2="275" y2="358.8" stroke="#1a1a1a" stroke-width="0.6"/>
<line x1="254.2" y1="364.3" x2="275" y2="364.3" stroke="#1a1a1a" stroke-width="0.6"/>
<line x1="254.2" y1="373.1" x2="275" y2="373.1" stroke="#1a1a1a" stroke-width="0.6"/>
<line x1="254.2" y1="395.3" x2="275" y2="395.3" stroke="#1a1a1a" stroke-width="0.6"/>
<line x1="254.2" y1="406.3" x2="275" y2="406.3" stroke="#1a1a1a" stroke-width="0.6"/>
<line x1="254.2" y1="408.5" x2="275" y2="408.5" stroke="#1a1a1a" stroke-width="0.6"/>
<line x1="254.2" y1="421.2" x2="275" y2="421.2" stroke="#1a1a1a" stroke-width="0.6"/>
<line x1="254.2" y1="427.3" x2="275" y2="427.3" stroke="#1a1a1a" stroke-width="0.6"/>
<rect x="254.2" y="336.6" width="20.8" height="92.9" fill="none" stroke="#1a1a1a" stroke-width="0.6"/>
<line x1="264.6" y1="429.5" x2="264.6" y2="432" stroke="#1c1c1c" stroke-width="0.8"/>
<line x1="264.6" y1="344" x2="264.6" y2="346" stroke="#111" stroke-width="0.5"/>
<line x1="260.6" y1="344" x2="268.6" y2="344" stroke="#111" stroke-width="0.5"/>
<line x1="260.6" y1="346" x2="268.6" y2="346" stroke="#111" stroke-width="0.5"/>
<line x1="264.6" y1="358" x2="264.6" y2="360" stroke="#111" stroke-width="0.5"/>
<line x1="260.6" y1="358" x2="268.6" y2="358" stroke="#111" stroke-width="0.5"/>
<line x1="260.6" y1="360" x2="268.6" y2="360" stroke="#111" stroke-width="0.5"/>
<line x1="264.6" y1="372" x2="264.6" y2="375" stroke="#111" stroke-width="0.5"/>
<line x1="260.6" y1="372" x2="268.6" y2="372" stroke="#111" stroke-width="0.5"/>
<line x1="260.6" y1="375" x2="268.6" y2="375" stroke="#111" stroke-width="0.5"/>
<line x1="264.6" y1="394.5" x2="264.6" y2="396.5" stroke="#111" stroke-width="0.5"/>
<line x1="260.6" y1="394.5" x2="268.6" y2="394.5" stroke="#111" stroke-width="0.5"/>
<line x1="260.6" y1="396.5" x2="268.6" y2="396.5" stroke="#111" stroke-width="0.5"/>
<line x1="264.6" y1="408" x2="264.6" y2="410" stroke="#111" stroke-width="0.5"/>
<line x1="260.6" y1="408" x2="268.6" y2="408" stroke="#111" stroke-width="0.5"/>
<line x1="260.6" y1="410" x2="268.6" y2="410" stroke="#111" stroke-width="0.5"/>
<rect x="280.6" y="336.6" width="20.8" height="10" fill="#A8621C"/>
<rect x="280.6" y="346.6" width="20.8" height="15.5" fill="#A81E5E"/>
<rect x="280.6" y="362.1" width="20.8" height="4.4" fill="#23206E"/>
<rect x="280.6" y="366.5" width="20.8" height="11.1" fill="#5663B0"/>
<rect x="280.6" y="377.6" width="20.8" height="30.9" fill="#4A8AD4"/>
<rect x="280.6" y="408.5" width="20.8" height="5.6" fill="#22894E"/>
<rect x="280.6" y="414.1" width="20.8" height="2.2" fill="#7CBE68"/>
<rect x="280.6" y="416.3" width="20.8" height="6.2" fill="#FAD886"/>
<rect x="280.6" y="422.5" width="20.8" height="5.8" fill="#EE7E7C"/>
<rect x="280.6" y="428.3" width="20.8" height="1.2" fill="#D9301F"/>
<line x1="280.6" y1="346.6" x2="301.4" y2="346.6" stroke="#1a1a1a" stroke-width="0.6"/>
<line x1="280.6" y1="362.1" x2="301.4" y2="362.1" stroke="#1a1a1a" stroke-width="0.6"/>
<line x1="280.6" y1="366.5" x2="301.4" y2="366.5" stroke="#1a1a1a" stroke-width="0.6"/>
<line x1="280.6" y1="377.6" x2="301.4" y2="377.6" stroke="#1a1a1a" stroke-width="0.6"/>
<line x1="280.6" y1="408.5" x2="301.4" y2="408.5" stroke="#1a1a1a" stroke-width="0.6"/>
<line x1="280.6" y1="414.1" x2="301.4" y2="414.1" stroke="#1a1a1a" stroke-width="0.6"/>
<line x1="280.6" y1="416.3" x2="301.4" y2="416.3" stroke="#1a1a1a" stroke-width="0.6"/>
<line x1="280.6" y1="422.5" x2="301.4" y2="422.5" stroke="#1a1a1a" stroke-width="0.6"/>
<line x1="280.6" y1="428.3" x2="301.4" y2="428.3" stroke="#1a1a1a" stroke-width="0.6"/>
<rect x="280.6" y="336.6" width="20.8" height="92.9" fill="none" stroke="#1a1a1a" stroke-width="0.6"/>
<line x1="291" y1="429.5" x2="291" y2="432" stroke="#1c1c1c" stroke-width="0.8"/>
<line x1="291" y1="346" x2="291" y2="348" stroke="#111" stroke-width="0.5"/>
<line x1="287" y1="346" x2="295" y2="346" stroke="#111" stroke-width="0.5"/>
<line x1="287" y1="348" x2="295" y2="348" stroke="#111" stroke-width="0.5"/>
<line x1="291" y1="361" x2="291" y2="363" stroke="#111" stroke-width="0.5"/>
<line x1="287" y1="361" x2="295" y2="361" stroke="#111" stroke-width="0.5"/>
<line x1="287" y1="363" x2="295" y2="363" stroke="#111" stroke-width="0.5"/>
<line x1="291" y1="376" x2="291" y2="378" stroke="#111" stroke-width="0.5"/>
<line x1="287" y1="376" x2="295" y2="376" stroke="#111" stroke-width="0.5"/>
<line x1="287" y1="378" x2="295" y2="378" stroke="#111" stroke-width="0.5"/>
<line x1="291" y1="407.5" x2="291" y2="409.5" stroke="#111" stroke-width="0.5"/>
<line x1="287" y1="407.5" x2="295" y2="407.5" stroke="#111" stroke-width="0.5"/>
<line x1="287" y1="409.5" x2="295" y2="409.5" stroke="#111" stroke-width="0.5"/>
<line x1="291" y1="421.5" x2="291" y2="423.5" stroke="#111" stroke-width="0.5"/>
<line x1="287" y1="421.5" x2="295" y2="421.5" stroke="#111" stroke-width="0.5"/>
<line x1="287" y1="423.5" x2="295" y2="423.5" stroke="#111" stroke-width="0.5"/>
<text x="212.2" y="441.9" font-size="7.4" text-anchor="middle" textLength="13.69" lengthAdjust="spacingAndGlyphs">PED</text>
<text x="238.3" y="441.9" font-size="7.4" text-anchor="middle" textLength="9.25" lengthAdjust="spacingAndGlyphs">AD</text>
<text x="264.5" y="441.9" font-size="7.4" text-anchor="middle" textLength="13.69" lengthAdjust="spacingAndGlyphs">PED</text>
<text x="290.8" y="441.9" font-size="7.4" text-anchor="middle" textLength="9.25" lengthAdjust="spacingAndGlyphs">AD</text>
<line x1="211.8" y1="445.6" x2="238.7" y2="445.6" stroke="#333" stroke-width="0.9"/>
<line x1="264" y1="445.6" x2="290.4" y2="445.6" stroke="#333" stroke-width="0.9"/>
<text x="225.2" y="453.6" font-size="7" text-anchor="middle" textLength="9.45" lengthAdjust="spacingAndGlyphs">BM</text>
<text x="277.3" y="453.6" font-size="7" text-anchor="middle" textLength="8.4" lengthAdjust="spacingAndGlyphs">PB</text>
<rect x="312.9" y="336.65" width="5.7" height="3.5" fill="#A8621C" stroke="#2a2a2a" stroke-width="0.9"/>
<text x="321.5" y="340.74" font-size="6.5" textLength="12.4" lengthAdjust="spacingAndGlyphs">MKP</text>
<rect x="312.9" y="344.56" width="5.7" height="3.5" fill="#A81E5E" stroke="#2a2a2a" stroke-width="0.9"/>
<text x="321.5" y="348.65" font-size="6.5" textLength="7.63" lengthAdjust="spacingAndGlyphs">EP</text>
<rect x="312.9" y="352.47" width="5.7" height="3.5" fill="#23206E" stroke="#2a2a2a" stroke-width="0.9"/>
<text x="321.5" y="356.56" font-size="6.5" textLength="12.4" lengthAdjust="spacingAndGlyphs">MEP</text>
<rect x="312.9" y="360.38" width="5.7" height="3.5" fill="#5663B0" stroke="#2a2a2a" stroke-width="0.9"/>
<text x="321.5" y="364.47" font-size="6.5" textLength="13.03" lengthAdjust="spacingAndGlyphs">GMP</text>
<rect x="312.9" y="368.29" width="5.7" height="3.5" fill="#4A8AD4" stroke="#2a2a2a" stroke-width="0.9"/>
<text x="321.5" y="372.38" font-size="6.5" textLength="12.71" lengthAdjust="spacingAndGlyphs">CMP</text>
<rect x="312.9" y="376.2" width="5.7" height="3.5" fill="#22894E" stroke="#2a2a2a" stroke-width="0.9"/>
<text x="321.5" y="380.29" font-size="6.5" textLength="20.66" lengthAdjust="spacingAndGlyphs">PreBNK</text>
<rect x="312.9" y="384.11" width="5.7" height="3.5" fill="#7CBE68" stroke="#2a2a2a" stroke-width="0.9"/>
<text x="321.5" y="388.2" font-size="6.5" textLength="11.12" lengthAdjust="spacingAndGlyphs">ETP</text>
<rect x="312.9" y="392.02" width="5.7" height="3.5" fill="#FAD886" stroke="#2a2a2a" stroke-width="0.9"/>
<text x="321.5" y="396.11" font-size="6.5" textLength="11.76" lengthAdjust="spacingAndGlyphs">MLP</text>
<rect x="312.9" y="399.93" width="5.7" height="3.5" fill="#EE7E7C" stroke="#2a2a2a" stroke-width="0.9"/>
<text x="321.5" y="404.02" font-size="6.5" textLength="12.4" lengthAdjust="spacingAndGlyphs">MPP</text>
<rect x="312.9" y="407.84" width="5.7" height="3.5" fill="#D9301F" stroke="#2a2a2a" stroke-width="0.9"/>
<text x="321.5" y="411.93" font-size="6.5" textLength="12.08" lengthAdjust="spacingAndGlyphs">HSC</text>
<text x="6.6" y="473.7" font-size="10.8" font-weight="bold" fill="#111">I</text>
<line x1="33.7" y1="493.1" x2="33.7" y2="530" stroke="#1c1c1c" stroke-width="1.35"/>
<line x1="33.7" y1="532.2" x2="33.7" y2="598.5" stroke="#1c1c1c" stroke-width="1.35"/>
<line x1="31" y1="529.9" x2="36.4" y2="528.7" stroke="#222" stroke-width="0.8"/>
<line x1="31" y1="532.1" x2="36.4" y2="530.9" stroke="#222" stroke-width="0.8"/>
<line x1="33.2" y1="598" x2="489.2" y2="598" stroke="#111" stroke-width="1.4"/>
<line x1="31" y1="495.7" x2="33.7" y2="495.7" stroke="#1c1c1c" stroke-width="0.9"/>
<text x="28.2" y="498.26" font-size="7.1" text-anchor="end" textLength="6.79" lengthAdjust="spacingAndGlyphs">50</text>
<line x1="31" y1="502.6" x2="33.7" y2="502.6" stroke="#1c1c1c" stroke-width="0.9"/>
<text x="28.2" y="505.16" font-size="7.1" text-anchor="end" textLength="6.79" lengthAdjust="spacingAndGlyphs">40</text>
<line x1="31" y1="510" x2="33.7" y2="510" stroke="#1c1c1c" stroke-width="0.9"/>
<text x="28.2" y="512.56" font-size="7.1" text-anchor="end" textLength="6.79" lengthAdjust="spacingAndGlyphs">30</text>
<line x1="31" y1="517.2" x2="33.7" y2="517.2" stroke="#1c1c1c" stroke-width="0.9"/>
<text x="28.2" y="519.76" font-size="7.1" text-anchor="end" textLength="6.79" lengthAdjust="spacingAndGlyphs">20</text>
<line x1="31" y1="524.3" x2="33.7" y2="524.3" stroke="#1c1c1c" stroke-width="0.9"/>
<text x="28.2" y="526.86" font-size="7.1" text-anchor="end" textLength="6.79" lengthAdjust="spacingAndGlyphs">10</text>
<line x1="31" y1="532.1" x2="33.7" y2="532.1" stroke="#1c1c1c" stroke-width="0.9"/>
<text x="28.2" y="534.66" font-size="7.1" text-anchor="end" textLength="8.49" lengthAdjust="spacingAndGlyphs">3.0</text>
<line x1="31" y1="543" x2="33.7" y2="543" stroke="#1c1c1c" stroke-width="0.9"/>
<text x="28.2" y="545.56" font-size="7.1" text-anchor="end" textLength="8.49" lengthAdjust="spacingAndGlyphs">2.5</text>
<line x1="31" y1="554" x2="33.7" y2="554" stroke="#1c1c1c" stroke-width="0.9"/>
<text x="28.2" y="556.56" font-size="7.1" text-anchor="end" textLength="8.49" lengthAdjust="spacingAndGlyphs">2.0</text>
<line x1="31" y1="565" x2="33.7" y2="565" stroke="#1c1c1c" stroke-width="0.9"/>
<text x="28.2" y="567.56" font-size="7.1" text-anchor="end" textLength="8.49" lengthAdjust="spacingAndGlyphs">1.5</text>
<line x1="31" y1="576" x2="33.7" y2="576" stroke="#1c1c1c" stroke-width="0.9"/>
<text x="28.2" y="578.56" font-size="7.1" text-anchor="end" textLength="8.49" lengthAdjust="spacingAndGlyphs">1.0</text>
<line x1="31" y1="587" x2="33.7" y2="587" stroke="#1c1c1c" stroke-width="0.9"/>
<text x="28.2" y="589.56" font-size="7.1" text-anchor="end" textLength="8.49" lengthAdjust="spacingAndGlyphs">0.5</text>
<line x1="31" y1="597.9" x2="33.7" y2="597.9" stroke="#1c1c1c" stroke-width="0.9"/>
<text x="28.2" y="600.46" font-size="7.1" text-anchor="end" textLength="8.49" lengthAdjust="spacingAndGlyphs">0.0</text>
<text x="14.3" y="547" font-size="8" text-anchor="middle" transform="rotate(-90 14.3 547)" textLength="57" lengthAdjust="spacingAndGlyphs">Circulation index %</text>
<rect x="38.2" y="583.5" width="13.8" height="14.5" fill="#E5331D"/>
<line x1="45.1" y1="598" x2="45.1" y2="600.6" stroke="#1c1c1c" stroke-width="0.8"/>
<text x="48.1" y="606.5" font-size="7.1" text-anchor="end" transform="rotate(-45 48.1 606.5)" textLength="26.51" lengthAdjust="spacingAndGlyphs">HSC PED</text>
<rect x="60.92" y="597" width="13.8" height="1" fill="#E5331D"/>
<line x1="67.82" y1="598" x2="67.82" y2="600.6" stroke="#1c1c1c" stroke-width="0.8"/>
<text x="70.82" y="606.5" font-size="7.1" text-anchor="end" transform="rotate(-45 70.82 606.5)" textLength="22.21" lengthAdjust="spacingAndGlyphs">HSC AD</text>
<rect x="83.64" y="544.4" width="13.8" height="53.6" fill="#EF8080"/>
<line x1="90.54" y1="598" x2="90.54" y2="600.6" stroke="#1c1c1c" stroke-width="0.8"/>
<text x="93.54" y="606.5" font-size="7.1" text-anchor="end" transform="rotate(-45 93.54 606.5)" textLength="26.74" lengthAdjust="spacingAndGlyphs">MPP PED</text>
<rect x="106.36" y="567" width="13.8" height="31" fill="#EF8080"/>
<line x1="113.26" y1="598" x2="113.26" y2="600.6" stroke="#1c1c1c" stroke-width="0.8"/>
<text x="116.26" y="606.5" font-size="7.1" text-anchor="end" transform="rotate(-45 116.26 606.5)" textLength="22.43" lengthAdjust="spacingAndGlyphs">MPP AD</text>
<rect x="129.08" y="531.4" width="13.8" height="66.6" fill="#F8CA72"/>
<line x1="135.98" y1="598" x2="135.98" y2="600.6" stroke="#1c1c1c" stroke-width="0.8"/>
<text x="138.98" y="606.5" font-size="7.1" text-anchor="end" transform="rotate(-45 138.98 606.5)" textLength="26.07" lengthAdjust="spacingAndGlyphs">MLP PED</text>
<rect x="151.8" y="531.4" width="13.8" height="66.6" fill="#F8CA72"/>
<line x1="158.7" y1="598" x2="158.7" y2="600.6" stroke="#1c1c1c" stroke-width="0.8"/>
<text x="161.7" y="606.5" font-size="7.1" text-anchor="end" transform="rotate(-45 161.7 606.5)" textLength="21.77" lengthAdjust="spacingAndGlyphs">MLP AD</text>
<rect x="174.52" y="547.2" width="13.8" height="50.8" fill="#7DBE64"/>
<line x1="181.42" y1="598" x2="181.42" y2="600.6" stroke="#1c1c1c" stroke-width="0.8"/>
<text x="184.42" y="606.5" font-size="7.1" text-anchor="end" transform="rotate(-45 184.42 606.5)" textLength="25.41" lengthAdjust="spacingAndGlyphs">ETP PED</text>
<rect x="197.24" y="532" width="13.8" height="66" fill="#7DBE64"/>
<line x1="204.14" y1="598" x2="204.14" y2="600.6" stroke="#1c1c1c" stroke-width="0.8"/>
<text x="207.14" y="606.5" font-size="7.1" text-anchor="end" transform="rotate(-45 207.14 606.5)" textLength="21.1" lengthAdjust="spacingAndGlyphs">ETP AD</text>
<rect x="219.96" y="591.9" width="13.8" height="6.1" fill="#1E8A50"/>
<line x1="226.86" y1="598" x2="226.86" y2="600.6" stroke="#1c1c1c" stroke-width="0.8"/>
<text x="229.86" y="606.5" font-size="7.1" text-anchor="end" transform="rotate(-45 229.86 606.5)" textLength="35.46" lengthAdjust="spacingAndGlyphs">PreBNK PED</text>
<rect x="242.68" y="589" width="13.8" height="9" fill="#1E8A50"/>
<line x1="249.58" y1="598" x2="249.58" y2="600.6" stroke="#1c1c1c" stroke-width="0.8"/>
<text x="252.58" y="606.5" font-size="7.1" text-anchor="end" transform="rotate(-45 252.58 606.5)" textLength="31.16" lengthAdjust="spacingAndGlyphs">PreBNK AD</text>
<rect x="265.4" y="565.5" width="13.8" height="32.5" fill="#4A90D8"/>
<line x1="272.3" y1="598" x2="272.3" y2="600.6" stroke="#1c1c1c" stroke-width="0.8"/>
<text x="275.3" y="606.5" font-size="7.1" text-anchor="end" transform="rotate(-45 275.3 606.5)" textLength="27.07" lengthAdjust="spacingAndGlyphs">CMP PED</text>
<rect x="288.12" y="586.2" width="13.8" height="11.8" fill="#4A90D8"/>
<line x1="295.02" y1="598" x2="295.02" y2="600.6" stroke="#1c1c1c" stroke-width="0.8"/>
<text x="298.02" y="606.5" font-size="7.1" text-anchor="end" transform="rotate(-45 298.02 606.5)" textLength="22.76" lengthAdjust="spacingAndGlyphs">CMP AD</text>
<rect x="310.84" y="592.3" width="13.8" height="5.7" fill="#5766B4"/>
<line x1="317.74" y1="598" x2="317.74" y2="600.6" stroke="#1c1c1c" stroke-width="0.8"/>
<text x="320.74" y="606.5" font-size="7.1" text-anchor="end" transform="rotate(-45 320.74 606.5)" textLength="27.4" lengthAdjust="spacingAndGlyphs">GMP PED</text>
<rect x="333.56" y="594.8" width="13.8" height="3.2" fill="#5766B4"/>
<line x1="340.46" y1="598" x2="340.46" y2="600.6" stroke="#1c1c1c" stroke-width="0.8"/>
<text x="343.46" y="606.5" font-size="7.1" text-anchor="end" transform="rotate(-45 343.46 606.5)" textLength="23.09" lengthAdjust="spacingAndGlyphs">GMP AD</text>
<rect x="356.28" y="575.6" width="13.8" height="22.4" fill="#2B2A8C"/>
<line x1="363.18" y1="598" x2="363.18" y2="600.6" stroke="#1c1c1c" stroke-width="0.8"/>
<text x="366.18" y="606.5" font-size="7.1" text-anchor="end" transform="rotate(-45 366.18 606.5)" textLength="26.74" lengthAdjust="spacingAndGlyphs">MEP PED</text>
<rect x="379" y="569.6" width="13.8" height="28.4" fill="#2B2A8C"/>
<line x1="385.9" y1="598" x2="385.9" y2="600.6" stroke="#1c1c1c" stroke-width="0.8"/>
<text x="388.9" y="606.5" font-size="7.1" text-anchor="end" transform="rotate(-45 388.9 606.5)" textLength="22.43" lengthAdjust="spacingAndGlyphs">MEP AD</text>
<rect x="401.72" y="569.6" width="13.8" height="28.4" fill="#A71D63"/>
<line x1="408.62" y1="598" x2="408.62" y2="600.6" stroke="#1c1c1c" stroke-width="0.8"/>
<text x="411.62" y="606.5" font-size="7.1" text-anchor="end" transform="rotate(-45 411.62 606.5)" textLength="21.77" lengthAdjust="spacingAndGlyphs">EP PED</text>
<rect x="424.44" y="571.6" width="13.8" height="26.4" fill="#A71D63"/>
<line x1="431.34" y1="598" x2="431.34" y2="600.6" stroke="#1c1c1c" stroke-width="0.8"/>
<text x="434.34" y="606.5" font-size="7.1" text-anchor="end" transform="rotate(-45 434.34 606.5)" textLength="17.46" lengthAdjust="spacingAndGlyphs">EP AD</text>
<rect x="447.16" y="568.5" width="13.8" height="29.5" fill="#AE6216"/>
<line x1="454.06" y1="598" x2="454.06" y2="600.6" stroke="#1c1c1c" stroke-width="0.8"/>
<text x="457.06" y="606.5" font-size="7.1" text-anchor="end" transform="rotate(-45 457.06 606.5)" textLength="26.74" lengthAdjust="spacingAndGlyphs">MKP PED</text>
<rect x="469.88" y="577.7" width="13.8" height="20.3" fill="#AE6216"/>
<line x1="476.78" y1="598" x2="476.78" y2="600.6" stroke="#1c1c1c" stroke-width="0.8"/>
<text x="479.78" y="606.5" font-size="7.1" text-anchor="end" transform="rotate(-45 479.78 606.5)" textLength="22.43" lengthAdjust="spacingAndGlyphs">MKP AD</text>
<line x1="47.06" y1="489.9" x2="67.66" y2="489.9" stroke="#555" stroke-width="1.1"/>
<text x="57.36" y="485.2" font-size="7" text-anchor="middle" textLength="20.5" lengthAdjust="spacingAndGlyphs">0.0046</text>
<line x1="92.5" y1="489.9" x2="113.1" y2="489.9" stroke="#555" stroke-width="1.1"/>
<text x="102.8" y="485.2" font-size="7" text-anchor="middle" textLength="20.5" lengthAdjust="spacingAndGlyphs">0.1131</text>
<line x1="137.94" y1="489.9" x2="158.54" y2="489.9" stroke="#555" stroke-width="1.1"/>
<text x="148.24" y="485.2" font-size="7" text-anchor="middle" textLength="20.5" lengthAdjust="spacingAndGlyphs">0.8986</text>
<line x1="183.38" y1="489.9" x2="203.98" y2="489.9" stroke="#555" stroke-width="1.1"/>
<text x="193.68" y="485.2" font-size="7" text-anchor="middle" textLength="20.5" lengthAdjust="spacingAndGlyphs">0.4239</text>
<line x1="228.82" y1="489.9" x2="249.42" y2="489.9" stroke="#555" stroke-width="1.1"/>
<text x="239.12" y="485.2" font-size="7" text-anchor="middle" textLength="20.5" lengthAdjust="spacingAndGlyphs">0.4451</text>
<line x1="274.26" y1="489.9" x2="294.86" y2="489.9" stroke="#555" stroke-width="1.1"/>
<text x="284.56" y="485.2" font-size="7" text-anchor="middle" textLength="20.5" lengthAdjust="spacingAndGlyphs">0.0027</text>
<line x1="319.7" y1="489.9" x2="340.3" y2="489.9" stroke="#555" stroke-width="1.1"/>
<text x="330" y="485.2" font-size="7" text-anchor="middle" textLength="20.5" lengthAdjust="spacingAndGlyphs">0.2384</text>
<line x1="365.14" y1="489.9" x2="385.74" y2="489.9" stroke="#555" stroke-width="1.1"/>
<text x="375.44" y="485.2" font-size="7" text-anchor="middle" textLength="20.5" lengthAdjust="spacingAndGlyphs">0.8307</text>
<line x1="410.58" y1="489.9" x2="431.18" y2="489.9" stroke="#555" stroke-width="1.1"/>
<text x="420.88" y="485.2" font-size="7" text-anchor="middle" textLength="20.5" lengthAdjust="spacingAndGlyphs">0.1569</text>
<line x1="456.02" y1="489.9" x2="476.62" y2="489.9" stroke="#555" stroke-width="1.1"/>
<text x="466.32" y="485.2" font-size="7" text-anchor="middle" textLength="20.5" lengthAdjust="spacingAndGlyphs">0.7777</text>
<circle cx="45.3" cy="528.2" r="1.35" fill="none" stroke="#262626" stroke-width="1.05"/>
<circle cx="45.3" cy="556.4" r="1.35" fill="none" stroke="#262626" stroke-width="1.05"/>
<circle cx="45.3" cy="563.3" r="1.35" fill="none" stroke="#262626" stroke-width="1.05"/>
<circle cx="45.3" cy="568" r="1.35" fill="none" stroke="#262626" stroke-width="1.05"/>
<circle cx="42.9" cy="577.1" r="1.35" fill="none" stroke="#262626" stroke-width="1.05"/>
<circle cx="47.1" cy="576.6" r="1.35" fill="none" stroke="#262626" stroke-width="1.05"/>
<circle cx="38.9" cy="581.3" r="1.35" fill="none" stroke="#262626" stroke-width="1.05"/>
<circle cx="42.9" cy="583" r="1.35" fill="none" stroke="#262626" stroke-width="1.05"/>
<circle cx="47.1" cy="583" r="1.35" fill="none" stroke="#262626" stroke-width="1.05"/>
<circle cx="42.9" cy="593" r="1.35" fill="none" stroke="#262626" stroke-width="1.05"/>
<circle cx="47.1" cy="591" r="1.35" fill="none" stroke="#262626" stroke-width="1.05"/>
<circle cx="39.5" cy="597.4" r="1.3" fill="#333" stroke="#1e1e1e" stroke-width="1"/>
<circle cx="42.5" cy="597.4" r="1.3" fill="#333" stroke="#1e1e1e" stroke-width="1"/>
<circle cx="45.5" cy="597.4" r="1.3" fill="#333" stroke="#1e1e1e" stroke-width="1"/>
<circle cx="48.5" cy="597.4" r="1.3" fill="#333" stroke="#1e1e1e" stroke-width="1"/>
<circle cx="51" cy="597.4" r="1.3" fill="#333" stroke="#1e1e1e" stroke-width="1"/>
<circle cx="68.8" cy="587.3" r="1.35" fill="none" stroke="#262626" stroke-width="1.05"/>
<circle cx="67.4" cy="589.6" r="1.35" fill="none" stroke="#262626" stroke-width="1.05"/>
<circle cx="69.2" cy="591.2" r="1.35" fill="none" stroke="#262626" stroke-width="1.05"/>
<circle cx="66.5" cy="593.5" r="1.35" fill="none" stroke="#262626" stroke-width="1.05"/>
<circle cx="68.8" cy="594.2" r="1.35" fill="none" stroke="#262626" stroke-width="1.05"/>
<circle cx="60.5" cy="597.4" r="1.3" fill="#333" stroke="#1e1e1e" stroke-width="1"/>
<circle cx="63" cy="597.4" r="1.3" fill="#333" stroke="#1e1e1e" stroke-width="1"/>
<circle cx="65.5" cy="597.4" r="1.3" fill="#333" stroke="#1e1e1e" stroke-width="1"/>
<circle cx="68" cy="597.4" r="1.3" fill="#333" stroke="#1e1e1e" stroke-width="1"/>
<circle cx="70.5" cy="597.4" r="1.3" fill="#333" stroke="#1e1e1e" stroke-width="1"/>
<circle cx="73" cy="597.4" r="1.3" fill="#333" stroke="#1e1e1e" stroke-width="1"/>
<circle cx="75.5" cy="597.4" r="1.3" fill="#333" stroke="#1e1e1e" stroke-width="1"/>
<circle cx="85.7" cy="526.2" r="1.35" fill="none" stroke="#262626" stroke-width="1.05"/>
<circle cx="85.7" cy="528.8" r="1.35" fill="none" stroke="#262626" stroke-width="1.05"/>
<circle cx="90.6" cy="525" r="1.35" fill="none" stroke="#262626" stroke-width="1.05"/>
<circle cx="95.4" cy="526.2" r="1.35" fill="none" stroke="#262626" stroke-width="1.05"/>
<circle cx="95.4" cy="529.2" r="1.35" fill="none" stroke="#262626" stroke-width="1.05"/>
<circle cx="90.6" cy="535.4" r="1.35" fill="none" stroke="#262626" stroke-width="1.05"/>
<circle cx="95.4" cy="541.8" r="1.35" fill="none" stroke="#262626" stroke-width="1.05"/>
<circle cx="90.6" cy="544" r="1.35" fill="none" stroke="#262626" stroke-width="1.05"/>
<circle cx="95.4" cy="551.7" r="1.35" fill="none" stroke="#262626" stroke-width="1.05"/>
<circle cx="90.6" cy="553.9" r="1.35" fill="none" stroke="#262626" stroke-width="1.05"/>
<circle cx="90.5" cy="564.2" r="1.35" fill="none" stroke="#262626" stroke-width="1.05"/>
<circle cx="90.5" cy="578.8" r="1.35" fill="none" stroke="#262626" stroke-width="1.05"/>
<circle cx="90.5" cy="583.4" r="1.35" fill="none" stroke="#262626" stroke-width="1.05"/>
<circle cx="90.5" cy="588" r="1.35" fill="none" stroke="#262626" stroke-width="1.05"/>
<circle cx="90.5" cy="597.4" r="1.3" fill="#333" stroke="#1e1e1e" stroke-width="1"/>
<circle cx="111" cy="528.8" r="1.35" fill="none" stroke="#262626" stroke-width="1.05"/>
<circle cx="115.7" cy="528" r="1.35" fill="none" stroke="#262626" stroke-width="1.05"/>
<circle cx="115.7" cy="536.1" r="1.35" fill="none" stroke="#262626" stroke-width="1.05"/>
<circle cx="111" cy="538.3" r="1.35" fill="none" stroke="#262626" stroke-width="1.05"/>
<circle cx="108.7" cy="551" r="1.35" fill="none" stroke="#262626" stroke-width="1.05"/>
<circle cx="113.4" cy="553" r="1.35" fill="none" stroke="#262626" stroke-width="1.05"/>
<circle cx="108.7" cy="554.8" r="1.35" fill="none" stroke="#262626" stroke-width="1.05"/>
<circle cx="113.5" cy="560.3" r="1.35" fill="none" stroke="#262626" stroke-width="1.05"/>
<circle cx="108.5" cy="565.8" r="1.35" fill="none" stroke="#262626" stroke-width="1.05"/>
<circle cx="113.5" cy="568.2" r="1.35" fill="none" stroke="#262626" stroke-width="1.05"/>
<circle cx="118.2" cy="565.8" r="1.35" fill="none" stroke="#262626" stroke-width="1.05"/>
<circle cx="115.8" cy="572.3" r="1.35" fill="none" stroke="#262626" stroke-width="1.05"/>
<circle cx="111.2" cy="574.2" r="1.35" fill="none" stroke="#262626" stroke-width="1.05"/>
<circle cx="113.5" cy="578.1" r="1.35" fill="none" stroke="#262626" stroke-width="1.05"/>
<circle cx="113.5" cy="581.5" r="1.35" fill="none" stroke="#262626" stroke-width="1.05"/>
<circle cx="113.5" cy="585" r="1.35" fill="none" stroke="#262626" stroke-width="1.05"/>
<circle cx="113.5" cy="590.8" r="1.35" fill="none" stroke="#262626" stroke-width="1.05"/>
<circle cx="115.8" cy="595.4" r="1.35" fill="none" stroke="#262626" stroke-width="1.05"/>
<circle cx="135.9" cy="497.3" r="1.35" fill="none" stroke="#262626" stroke-width="1.05"/>
<circle cx="135.9" cy="503.2" r="1.35" fill="none" stroke="#262626" stroke-width="1.05"/>
<circle cx="135.9" cy="512.4" r="1.35" fill="none" stroke="#262626" stroke-width="1.05"/>
<circle cx="132.1" cy="517.6" r="1.35" fill="none" stroke="#262626" stroke-width="1.05"/>
<circle cx="135.9" cy="517.6" r="1.35" fill="none" stroke="#262626" stroke-width="1.05"/>
<circle cx="140.4" cy="517" r="1.35" fill="none" stroke="#262626" stroke-width="1.05"/>
<circle cx="135.9" cy="521" r="1.35" fill="none" stroke="#262626" stroke-width="1.05"/>
<circle cx="130" cy="525.7" r="1.35" fill="none" stroke="#262626" stroke-width="1.05"/>
<circle cx="133.8" cy="525" r="1.35" fill="none" stroke="#262626" stroke-width="1.05"/>
<circle cx="130" cy="528.5" r="1.35" fill="none" stroke="#262626" stroke-width="1.05"/>
<circle cx="134.7" cy="528.8" r="1.35" fill="none" stroke="#262626" stroke-width="1.05"/>
<circle cx="139" cy="528" r="1.35" fill="none" stroke="#262626" stroke-width="1.05"/>
<circle cx="142.8" cy="526.2" r="1.35" fill="none" stroke="#262626" stroke-width="1.05"/>
<circle cx="135.9" cy="535.4" r="1.35" fill="none" stroke="#262626" stroke-width="1.05"/>
<circle cx="158.9" cy="504.6" r="1.35" fill="none" stroke="#262626" stroke-width="1.05"/>
<circle cx="158.9" cy="509.4" r="1.35" fill="none" stroke="#262626" stroke-width="1.05"/>
<circle cx="155.4" cy="514.1" r="1.35" fill="none" stroke="#262626" stroke-width="1.05"/>
<circle cx="160.6" cy="514.1" r="1.35" fill="none" stroke="#262626" stroke-width="1.05"/>
<circle cx="158.9" cy="520.2" r="1.35" fill="none" stroke="#262626" stroke-width="1.05"/>
<circle cx="152.9" cy="522.8" r="1.35" fill="none" stroke="#262626" stroke-width="1.05"/>
<circle cx="156.3" cy="522.8" r="1.35" fill="none" stroke="#262626" stroke-width="1.05"/>
<circle cx="161.5" cy="522.8" r="1.35" fill="none" stroke="#262626" stroke-width="1.05"/>
<circle cx="152" cy="526.2" r="1.35" fill="none" stroke="#262626" stroke-width="1.05"/>
<circle cx="155.4" cy="527.1" r="1.35" fill="none" stroke="#262626" stroke-width="1.05"/>
<circle cx="158.9" cy="528" r="1.35" fill="none" stroke="#262626" stroke-width="1.05"/>
<circle cx="163.2" cy="527.1" r="1.35" fill="none" stroke="#262626" stroke-width="1.05"/>
<circle cx="158.9" cy="549.2" r="1.35" fill="none" stroke="#262626" stroke-width="1.05"/>
<circle cx="181.3" cy="524.5" r="1.35" fill="none" stroke="#262626" stroke-width="1.05"/>
<circle cx="184.3" cy="525.9" r="1.35" fill="none" stroke="#262626" stroke-width="1.05"/>
<circle cx="181.3" cy="528.5" r="1.35" fill="none" stroke="#262626" stroke-width="1.05"/>
<circle cx="181.3" cy="545.2" r="1.35" fill="none" stroke="#262626" stroke-width="1.05"/>
<circle cx="179.6" cy="551.7" r="1.35" fill="none" stroke="#262626" stroke-width="1.05"/>
<circle cx="183.7" cy="551.7" r="1.35" fill="none" stroke="#262626" stroke-width="1.05"/>
<circle cx="178.2" cy="559.4" r="1.35" fill="none" stroke="#262626" stroke-width="1.05"/>
<circle cx="181.7" cy="560.4" r="1.35" fill="none" stroke="#262626" stroke-width="1.05"/>
<circle cx="181.3" cy="564.5" r="1.35" fill="none" stroke="#262626" stroke-width="1.05"/>
<circle cx="181.3" cy="568.5" r="1.35" fill="none" stroke="#262626" stroke-width="1.05"/>
<circle cx="176.5" cy="597.4" r="1.3" fill="#333" stroke="#1e1e1e" stroke-width="1"/>
<circle cx="179.5" cy="597.4" r="1.3" fill="#333" stroke="#1e1e1e" stroke-width="1"/>
<circle cx="182.5" cy="597.4" r="1.3" fill="#333" stroke="#1e1e1e" stroke-width="1"/>
<circle cx="185.5" cy="597.4" r="1.3" fill="#333" stroke="#1e1e1e" stroke-width="1"/>
<circle cx="188" cy="597.4" r="1.3" fill="#333" stroke="#1e1e1e" stroke-width="1"/>
<circle cx="204.6" cy="516.7" r="1.35" fill="none" stroke="#262626" stroke-width="1.05"/>
<circle cx="198.5" cy="528.9" r="1.35" fill="none" stroke="#262626" stroke-width="1.05"/>
<circle cx="201.2" cy="527.9" r="1.35" fill="none" stroke="#262626" stroke-width="1.05"/>
<circle cx="203.6" cy="526.9" r="1.35" fill="none" stroke="#262626" stroke-width="1.05"/>
<circle cx="206.6" cy="525.9" r="1.35" fill="none" stroke="#262626" stroke-width="1.05"/>
<circle cx="208.7" cy="524.9" r="1.35" fill="none" stroke="#262626" stroke-width="1.05"/>
<circle cx="207.7" cy="528.9" r="1.35" fill="none" stroke="#262626" stroke-width="1.05"/>
<circle cx="204.6" cy="540.1" r="1.35" fill="none" stroke="#262626" stroke-width="1.05"/>
<circle cx="204" cy="578.1" r="1.35" fill="none" stroke="#262626" stroke-width="1.05"/>
<circle cx="199.5" cy="597.4" r="1.3" fill="#333" stroke="#1e1e1e" stroke-width="1"/>
<circle cx="202.5" cy="597.4" r="1.3" fill="#333" stroke="#1e1e1e" stroke-width="1"/>
<circle cx="205.5" cy="597.4" r="1.3" fill="#333" stroke="#1e1e1e" stroke-width="1"/>
<circle cx="208.5" cy="597.4" r="1.3" fill="#333" stroke="#1e1e1e" stroke-width="1"/>
<circle cx="211" cy="597.4" r="1.3" fill="#333" stroke="#1e1e1e" stroke-width="1"/>
<circle cx="227" cy="576.7" r="1.35" fill="none" stroke="#262626" stroke-width="1.05"/>
<circle cx="223.9" cy="585.8" r="1.35" fill="none" stroke="#262626" stroke-width="1.05"/>
<circle cx="230" cy="586.2" r="1.35" fill="none" stroke="#262626" stroke-width="1.05"/>
<circle cx="220.3" cy="588.9" r="1.35" fill="none" stroke="#262626" stroke-width="1.05"/>
<circle cx="226" cy="589.9" r="1.35" fill="none" stroke="#262626" stroke-width="1.05"/>
<circle cx="233.1" cy="589.5" r="1.35" fill="none" stroke="#262626" stroke-width="1.05"/>
<circle cx="222" cy="593" r="1.35" fill="none" stroke="#262626" stroke-width="1.05"/>
<circle cx="226" cy="594" r="1.35" fill="none" stroke="#262626" stroke-width="1.05"/>
<circle cx="230" cy="593" r="1.35" fill="none" stroke="#262626" stroke-width="1.05"/>
<circle cx="234" cy="594" r="1.35" fill="none" stroke="#262626" stroke-width="1.05"/>
<circle cx="220" cy="596" r="1.35" fill="none" stroke="#262626" stroke-width="1.05"/>
<circle cx="250" cy="559.4" r="1.35" fill="none" stroke="#262626" stroke-width="1.05"/>
<circle cx="250" cy="568.5" r="1.35" fill="none" stroke="#262626" stroke-width="1.05"/>
<circle cx="250" cy="573.6" r="1.35" fill="none" stroke="#262626" stroke-width="1.05"/>
<circle cx="250" cy="580.7" r="1.35" fill="none" stroke="#262626" stroke-width="1.05"/>
<circle cx="243.2" cy="584.8" r="1.35" fill="none" stroke="#262626" stroke-width="1.05"/>
<circle cx="247.3" cy="586.2" r="1.35" fill="none" stroke="#262626" stroke-width="1.05"/>
<circle cx="252.4" cy="585.4" r="1.35" fill="none" stroke="#262626" stroke-width="1.05"/>
<circle cx="244" cy="590" r="1.35" fill="none" stroke="#262626" stroke-width="1.05"/>
<circle cx="248" cy="592" r="1.35" fill="none" stroke="#262626" stroke-width="1.05"/>
<circle cx="253" cy="591" r="1.35" fill="none" stroke="#262626" stroke-width="1.05"/>
<circle cx="256" cy="594" r="1.35" fill="none" stroke="#262626" stroke-width="1.05"/>
<circle cx="245" cy="595" r="1.35" fill="none" stroke="#262626" stroke-width="1.05"/>
<circle cx="270.3" cy="529.3" r="1.35" fill="none" stroke="#262626" stroke-width="1.05"/>
<circle cx="274.8" cy="527.9" r="1.35" fill="none" stroke="#262626" stroke-width="1.05"/>
<circle cx="272.3" cy="539.1" r="1.35" fill="none" stroke="#262626" stroke-width="1.05"/>
<circle cx="270.3" cy="558.4" r="1.35" fill="none" stroke="#262626" stroke-width="1.05"/>
<circle cx="270.3" cy="561" r="1.35" fill="none" stroke="#262626" stroke-width="1.05"/>
<circle cx="274.8" cy="559.4" r="1.35" fill="none" stroke="#262626" stroke-width="1.05"/>
<circle cx="272.3" cy="567.9" r="1.35" fill="none" stroke="#262626" stroke-width="1.05"/>
<circle cx="272.3" cy="572.6" r="1.35" fill="none" stroke="#262626" stroke-width="1.05"/>
<circle cx="269.9" cy="576.1" r="1.35" fill="none" stroke="#262626" stroke-width="1.05"/>
<circle cx="274.8" cy="577.7" r="1.35" fill="none" stroke="#262626" stroke-width="1.05"/>
<circle cx="272.3" cy="580.7" r="1.35" fill="none" stroke="#262626" stroke-width="1.05"/>
<circle cx="272.3" cy="587.8" r="1.35" fill="none" stroke="#262626" stroke-width="1.05"/>
<circle cx="272.3" cy="591.5" r="1.35" fill="none" stroke="#262626" stroke-width="1.05"/>
<circle cx="272.3" cy="594.3" r="1.35" fill="none" stroke="#262626" stroke-width="1.05"/>
<circle cx="295.1" cy="552.3" r="1.35" fill="none" stroke="#262626" stroke-width="1.05"/>
<circle cx="295.1" cy="567.1" r="1.35" fill="none" stroke="#262626" stroke-width="1.05"/>
<circle cx="295.1" cy="570" r="1.35" fill="none" stroke="#262626" stroke-width="1.05"/>
<circle cx="295.1" cy="580.1" r="1.35" fill="none" stroke="#262626" stroke-width="1.05"/>
<circle cx="298.8" cy="582.2" r="1.35" fill="none" stroke="#262626" stroke-width="1.05"/>
<circle cx="291.6" cy="584.8" r="1.35" fill="none" stroke="#262626" stroke-width="1.05"/>
<circle cx="297.1" cy="584.8" r="1.35" fill="none" stroke="#262626" stroke-width="1.05"/>
<circle cx="293.7" cy="587.4" r="1.35" fill="none" stroke="#262626" stroke-width="1.05"/>
<circle cx="299.2" cy="586.8" r="1.35" fill="none" stroke="#262626" stroke-width="1.05"/>
<circle cx="295.1" cy="591.5" r="1.35" fill="none" stroke="#262626" stroke-width="1.05"/>
<circle cx="291" cy="594" r="1.35" fill="none" stroke="#262626" stroke-width="1.05"/>
<circle cx="296" cy="595" r="1.35" fill="none" stroke="#262626" stroke-width="1.05"/>
<circle cx="300" cy="594" r="1.35" fill="none" stroke="#262626" stroke-width="1.05"/>
<circle cx="311.4" cy="587.8" r="1.35" fill="none" stroke="#262626" stroke-width="1.05"/>
<circle cx="316" cy="585.8" r="1.35" fill="none" stroke="#262626" stroke-width="1.05"/>
<circle cx="320.1" cy="585.4" r="1.35" fill="none" stroke="#262626" stroke-width="1.05"/>
<circle cx="324.8" cy="586.8" r="1.35" fill="none" stroke="#262626" stroke-width="1.05"/>
<circle cx="324.8" cy="589.9" r="1.35" fill="none" stroke="#262626" stroke-width="1.05"/>
<circle cx="315" cy="589.9" r="1.35" fill="none" stroke="#262626" stroke-width="1.05"/>
<circle cx="320.1" cy="590.9" r="1.35" fill="none" stroke="#262626" stroke-width="1.05"/>
<circle cx="312" cy="593" r="1.35" fill="none" stroke="#262626" stroke-width="1.05"/>
<circle cx="317" cy="594" r="1.35" fill="none" stroke="#262626" stroke-width="1.05"/>
<circle cx="322" cy="594" r="1.35" fill="none" stroke="#262626" stroke-width="1.05"/>
<circle cx="340.6" cy="579.7" r="1.35" fill="none" stroke="#262626" stroke-width="1.05"/>
<circle cx="340.6" cy="589.9" r="1.35" fill="none" stroke="#262626" stroke-width="1.05"/>
<circle cx="336.1" cy="592.9" r="1.35" fill="none" stroke="#262626" stroke-width="1.05"/>
<circle cx="344" cy="592.5" r="1.35" fill="none" stroke="#262626" stroke-width="1.05"/>
<circle cx="339" cy="594.5" r="1.35" fill="none" stroke="#262626" stroke-width="1.05"/>
<circle cx="347" cy="595" r="1.35" fill="none" stroke="#262626" stroke-width="1.05"/>
<circle cx="335" cy="596" r="1.35" fill="none" stroke="#262626" stroke-width="1.05"/>
<circle cx="342" cy="597.4" r="1.3" fill="#333" stroke="#1e1e1e" stroke-width="1"/>
<circle cx="363.5" cy="552.3" r="1.35" fill="none" stroke="#262626" stroke-width="1.05"/>
<circle cx="361.5" cy="560.4" r="1.35" fill="none" stroke="#262626" stroke-width="1.05"/>
<circle cx="366.2" cy="559.8" r="1.35" fill="none" stroke="#262626" stroke-width="1.05"/>
<circle cx="358.4" cy="563.5" r="1.35" fill="none" stroke="#262626" stroke-width="1.05"/>
<circle cx="363.5" cy="565.5" r="1.35" fill="none" stroke="#262626" stroke-width="1.05"/>
<circle cx="358.8" cy="572" r="1.35" fill="none" stroke="#262626" stroke-width="1.05"/>
<circle cx="363.5" cy="573.6" r="1.35" fill="none" stroke="#262626" stroke-width="1.05"/>
<circle cx="360" cy="580" r="1.35" fill="none" stroke="#262626" stroke-width="1.05"/>
<circle cx="366" cy="585" r="1.35" fill="none" stroke="#262626" stroke-width="1.05"/>
<circle cx="362" cy="592" r="1.35" fill="none" stroke="#262626" stroke-width="1.05"/>
<circle cx="366" cy="596" r="1.35" fill="none" stroke="#262626" stroke-width="1.05"/>
<circle cx="383.8" cy="527.9" r="1.35" fill="none" stroke="#262626" stroke-width="1.05"/>
<circle cx="388.9" cy="529.3" r="1.35" fill="none" stroke="#262626" stroke-width="1.05"/>
<circle cx="386.5" cy="535.4" r="1.35" fill="none" stroke="#262626" stroke-width="1.05"/>
<circle cx="386.5" cy="544.2" r="1.35" fill="none" stroke="#262626" stroke-width="1.05"/>
<circle cx="391" cy="542.1" r="1.35" fill="none" stroke="#262626" stroke-width="1.05"/>
<circle cx="386.5" cy="565.5" r="1.35" fill="none" stroke="#262626" stroke-width="1.05"/>
<circle cx="391" cy="563.9" r="1.35" fill="none" stroke="#262626" stroke-width="1.05"/>
<circle cx="384" cy="575" r="1.35" fill="none" stroke="#262626" stroke-width="1.05"/>
<circle cx="390" cy="583" r="1.35" fill="none" stroke="#262626" stroke-width="1.05"/>
<circle cx="386" cy="592" r="1.35" fill="none" stroke="#262626" stroke-width="1.05"/>
<circle cx="409.2" cy="539.1" r="1.35" fill="none" stroke="#262626" stroke-width="1.05"/>
<circle cx="406.8" cy="546.8" r="1.35" fill="none" stroke="#262626" stroke-width="1.05"/>
<circle cx="411.3" cy="547.6" r="1.35" fill="none" stroke="#262626" stroke-width="1.05"/>
<circle cx="406.8" cy="556.3" r="1.35" fill="none" stroke="#262626" stroke-width="1.05"/>
<circle cx="411.3" cy="554.9" r="1.35" fill="none" stroke="#262626" stroke-width="1.05"/>
<circle cx="406.8" cy="560.4" r="1.35" fill="none" stroke="#262626" stroke-width="1.05"/>
<circle cx="411.3" cy="562.4" r="1.35" fill="none" stroke="#262626" stroke-width="1.05"/>
<circle cx="406.8" cy="564.5" r="1.35" fill="none" stroke="#262626" stroke-width="1.05"/>
<circle cx="408.8" cy="566.5" r="1.35" fill="none" stroke="#262626" stroke-width="1.05"/>
<circle cx="406" cy="586" r="1.35" fill="none" stroke="#262626" stroke-width="1.05"/>
<circle cx="411" cy="589" r="1.35" fill="none" stroke="#262626" stroke-width="1.05"/>
<circle cx="406" cy="594" r="1.35" fill="none" stroke="#262626" stroke-width="1.05"/>
<circle cx="411" cy="595" r="1.35" fill="none" stroke="#262626" stroke-width="1.05"/>
<circle cx="431.3" cy="525.9" r="1.35" fill="none" stroke="#262626" stroke-width="1.05"/>
<circle cx="429.9" cy="559.8" r="1.35" fill="none" stroke="#262626" stroke-width="1.05"/>
<circle cx="433.4" cy="559.4" r="1.35" fill="none" stroke="#262626" stroke-width="1.05"/>
<circle cx="425.8" cy="569.1" r="1.35" fill="none" stroke="#262626" stroke-width="1.05"/>
<circle cx="428.7" cy="568.5" r="1.35" fill="none" stroke="#262626" stroke-width="1.05"/>
<circle cx="431.9" cy="569.1" r="1.35" fill="none" stroke="#262626" stroke-width="1.05"/>
<circle cx="435.4" cy="569.1" r="1.35" fill="none" stroke="#262626" stroke-width="1.05"/>
<circle cx="438.4" cy="569.1" r="1.35" fill="none" stroke="#262626" stroke-width="1.05"/>
<circle cx="425.8" cy="587.8" r="1.35" fill="none" stroke="#262626" stroke-width="1.05"/>
<circle cx="428.7" cy="591.5" r="1.35" fill="none" stroke="#262626" stroke-width="1.05"/>
<circle cx="434" cy="586.8" r="1.35" fill="none" stroke="#262626" stroke-width="1.05"/>
<circle cx="437.4" cy="590.9" r="1.35" fill="none" stroke="#262626" stroke-width="1.05"/>
<circle cx="451.6" cy="527.9" r="1.35" fill="none" stroke="#262626" stroke-width="1.05"/>
<circle cx="457.1" cy="527.3" r="1.35" fill="none" stroke="#262626" stroke-width="1.05"/>
<circle cx="454.7" cy="559.4" r="1.35" fill="none" stroke="#262626" stroke-width="1.05"/>
<circle cx="451.6" cy="562.4" r="1.35" fill="none" stroke="#262626" stroke-width="1.05"/>
<circle cx="457.1" cy="562.4" r="1.35" fill="none" stroke="#262626" stroke-width="1.05"/>
<circle cx="451.6" cy="576.7" r="1.35" fill="none" stroke="#262626" stroke-width="1.05"/>
<circle cx="457.1" cy="575.6" r="1.35" fill="none" stroke="#262626" stroke-width="1.05"/>
<circle cx="457.1" cy="580.7" r="1.35" fill="none" stroke="#262626" stroke-width="1.05"/>
<circle cx="457.1" cy="583.8" r="1.35" fill="none" stroke="#262626" stroke-width="1.05"/>
<circle cx="451.6" cy="589.9" r="1.35" fill="none" stroke="#262626" stroke-width="1.05"/>
<circle cx="457.1" cy="590.3" r="1.35" fill="none" stroke="#262626" stroke-width="1.05"/>
<circle cx="452" cy="597.4" r="1.3" fill="#333" stroke="#1e1e1e" stroke-width="1"/>
<circle cx="456" cy="597.4" r="1.3" fill="#333" stroke="#1e1e1e" stroke-width="1"/>
<circle cx="477" cy="533" r="1.35" fill="none" stroke="#262626" stroke-width="1.05"/>
<circle cx="474.6" cy="551.3" r="1.35" fill="none" stroke="#262626" stroke-width="1.05"/>
<circle cx="479.5" cy="552.3" r="1.35" fill="none" stroke="#262626" stroke-width="1.05"/>
<circle cx="474.6" cy="558.4" r="1.35" fill="none" stroke="#262626" stroke-width="1.05"/>
<circle cx="479.5" cy="558.4" r="1.35" fill="none" stroke="#262626" stroke-width="1.05"/>
<circle cx="477" cy="556.3" r="1.35" fill="none" stroke="#262626" stroke-width="1.05"/>
<circle cx="477" cy="564.5" r="1.35" fill="none" stroke="#262626" stroke-width="1.05"/>
<circle cx="477" cy="575.2" r="1.35" fill="none" stroke="#262626" stroke-width="1.05"/>
<circle cx="477" cy="578.1" r="1.35" fill="none" stroke="#262626" stroke-width="1.05"/>
<circle cx="477" cy="583.8" r="1.35" fill="none" stroke="#262626" stroke-width="1.05"/>
<circle cx="471" cy="592.3" r="1.35" fill="none" stroke="#262626" stroke-width="1.05"/>
<circle cx="475" cy="592.3" r="1.35" fill="none" stroke="#262626" stroke-width="1.05"/>
<circle cx="480.1" cy="591.5" r="1.35" fill="none" stroke="#262626" stroke-width="1.05"/>
<circle cx="483.5" cy="589.5" r="1.35" fill="none" stroke="#262626" stroke-width="1.05"/>
<circle cx="483.5" cy="592.9" r="1.35" fill="none" stroke="#262626" stroke-width="1.05"/>
<circle cx="474" cy="597.4" r="1.3" fill="#333" stroke="#1e1e1e" stroke-width="1"/>
<circle cx="478" cy="597.4" r="1.3" fill="#333" stroke="#1e1e1e" stroke-width="1"/>
<rect x="0" y="0" width="520" height="1.1" fill="#5e5e5e"/>
<rect x="0" y="0" width="1.2" height="640" fill="#5a5a5a"/>
<rect x="518.8" y="0" width="1.2" height="640" fill="#2e2e2e"/>
<rect x="0" y="638.8" width="520" height="1.2" fill="#3a3a3a"/>
</g>
</svg></body></html>
